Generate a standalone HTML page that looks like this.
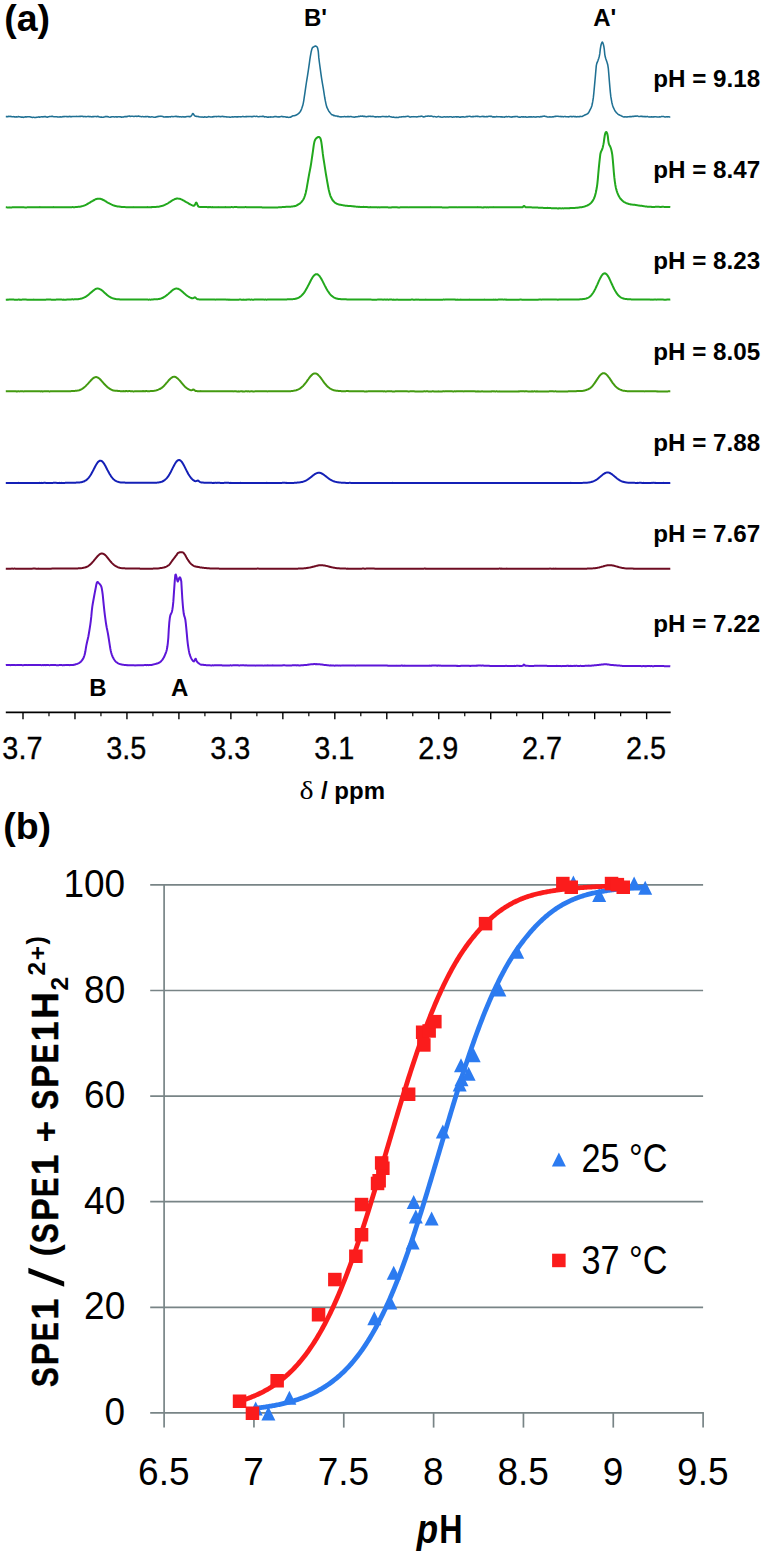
<!DOCTYPE html>
<html>
<head>
<meta charset="utf-8">
<title>NMR titration figure</title>
<style>
html,body{margin:0;padding:0;background:#fff;}
body{width:764px;height:1554px;overflow:hidden;font-family:"Liberation Sans",sans-serif;}
svg{display:block;}
</style>
</head>
<body>
<svg width="764" height="1554" viewBox="0 0 764 1554">
<rect x="0" y="0" width="764" height="1554" fill="#ffffff"/>
<path d="M5.8 116.58 L6.3 116.61 L6.8 116.56 L7.3 116.63 L7.8 116.69 L8.3 116.49 L8.8 116.28 L9.3 116.49 L9.8 116.40 L10.3 116.31 L10.8 116.60 L11.3 116.59 L11.8 116.77 L12.3 116.75 L12.8 116.81 L13.3 116.63 L13.8 116.70 L14.3 116.88 L14.8 116.87 L15.3 116.96 L15.8 117.01 L16.3 116.77 L16.8 116.88 L17.3 116.90 L17.8 116.78 L18.3 116.55 L18.8 116.74 L19.3 116.72 L19.8 116.83 L20.3 116.99 L20.8 117.06 L21.3 117.21 L21.8 117.10 L22.3 117.20 L22.8 117.11 L23.3 117.27 L23.8 117.38 L24.3 117.11 L24.8 116.89 L25.3 116.73 L25.8 116.95 L26.3 116.89 L26.8 116.92 L27.3 116.80 L27.8 116.79 L28.3 116.73 L28.8 116.65 L29.3 116.70 L29.8 116.74 L30.3 116.93 L30.8 116.99 L31.3 117.16 L31.8 117.27 L32.3 117.44 L32.8 117.43 L33.3 117.18 L33.8 117.29 L34.3 117.44 L34.8 117.55 L35.3 117.48 L35.8 117.49 L36.3 117.25 L36.8 117.35 L37.3 117.30 L37.8 117.13 L38.3 116.87 L38.8 117.02 L39.3 117.21 L39.8 116.96 L40.3 117.07 L40.8 116.98 L41.3 116.78 L41.8 116.67 L42.3 116.80 L42.8 116.97 L43.3 116.72 L43.8 116.77 L44.3 116.55 L44.8 116.67 L45.3 116.59 L45.8 116.79 L46.3 117.00 L46.8 116.97 L47.3 117.18 L47.8 117.03 L48.3 116.79 L48.8 116.82 L49.3 116.59 L49.8 116.46 L50.3 116.44 L50.8 116.53 L51.3 116.38 L51.8 116.20 L52.3 116.44 L52.8 116.38 L53.3 116.64 L53.8 116.83 L54.3 116.76 L54.8 116.73 L55.3 116.74 L55.8 116.80 L56.3 116.84 L56.8 116.85 L57.3 116.89 L57.8 117.07 L58.3 117.03 L58.8 116.96 L59.3 117.03 L59.8 116.87 L60.3 116.75 L60.8 116.97 L61.3 116.95 L61.8 116.94 L62.3 116.68 L62.8 116.64 L63.3 116.69 L63.8 116.46 L64.3 116.55 L64.8 116.63 L65.3 116.43 L65.8 116.52 L66.3 116.53 L66.8 116.63 L67.3 116.57 L67.8 116.68 L68.3 116.80 L68.8 116.56 L69.3 116.37 L69.8 116.49 L70.3 116.74 L70.8 116.61 L71.3 116.60 L71.8 116.66 L72.3 116.58 L72.8 116.53 L73.3 116.46 L73.8 116.43 L74.3 116.50 L74.8 116.43 L75.3 116.41 L75.8 116.57 L76.3 116.36 L76.8 116.44 L77.3 116.58 L77.8 116.50 L78.3 116.40 L78.8 116.58 L79.3 116.47 L79.8 116.35 L80.3 116.36 L80.8 116.49 L81.3 116.33 L81.8 116.29 L82.3 116.26 L82.8 116.47 L83.3 116.47 L83.8 116.67 L84.3 116.51 L84.8 116.46 L85.3 116.56 L85.8 116.76 L86.3 116.73 L86.8 116.59 L87.3 116.43 L87.8 116.47 L88.3 116.35 L88.8 116.54 L89.3 116.72 L89.8 116.57 L90.3 116.48 L90.8 116.65 L91.3 116.72 L91.8 116.87 L92.3 116.77 L92.8 116.59 L93.3 116.50 L93.8 116.67 L94.3 116.56 L94.8 116.51 L95.3 116.49 L95.8 116.48 L96.3 116.46 L96.8 116.69 L97.3 116.53 L97.8 116.31 L98.3 116.57 L98.8 116.77 L99.3 116.99 L99.8 116.92 L100.3 117.11 L100.8 117.26 L101.3 117.06 L101.8 117.14 L102.3 117.24 L102.8 117.26 L103.3 117.20 L103.8 117.04 L104.3 116.92 L104.8 116.77 L105.3 116.55 L105.8 116.61 L106.3 116.52 L106.8 116.69 L107.3 116.48 L107.8 116.69 L108.3 116.79 L108.8 116.98 L109.3 117.13 L109.8 117.27 L110.3 117.24 L110.8 116.94 L111.3 117.03 L111.8 116.83 L112.3 116.72 L112.8 116.80 L113.3 116.80 L113.8 116.75 L114.3 116.95 L114.8 116.97 L115.3 116.86 L115.8 116.73 L116.3 116.90 L116.8 116.86 L117.3 116.98 L117.8 116.87 L118.3 116.71 L118.8 116.72 L119.3 116.87 L119.8 116.69 L120.3 116.83 L120.8 117.02 L121.3 117.13 L121.8 117.23 L122.3 116.93 L122.8 116.96 L123.3 117.10 L123.8 116.84 L124.3 116.72 L124.8 116.60 L125.3 116.63 L125.8 116.60 L126.3 116.60 L126.8 116.74 L127.3 116.50 L127.8 116.31 L128.3 116.18 L128.8 116.07 L129.3 115.94 L129.8 116.25 L130.3 116.48 L130.8 116.31 L131.3 116.35 L131.8 116.31 L132.3 116.27 L132.8 116.25 L133.3 116.37 L133.8 116.45 L134.3 116.42 L134.8 116.30 L135.3 116.27 L135.8 116.14 L136.3 116.24 L136.8 116.39 L137.3 116.37 L137.8 116.21 L138.3 116.12 L138.8 116.13 L139.3 116.25 L139.8 116.44 L140.3 116.41 L140.8 116.59 L141.3 116.66 L141.8 116.63 L142.3 116.58 L142.8 116.59 L143.3 116.70 L143.8 116.66 L144.3 116.76 L144.8 116.73 L145.3 116.61 L145.8 116.64 L146.3 116.74 L146.8 116.53 L147.3 116.51 L147.8 116.50 L148.3 116.71 L148.8 116.91 L149.3 116.83 L149.8 117.00 L150.3 117.10 L150.8 116.94 L151.3 116.90 L151.8 116.69 L152.3 116.84 L152.8 116.90 L153.3 117.06 L153.8 117.16 L154.3 117.18 L154.8 117.24 L155.3 117.20 L155.8 116.95 L156.3 116.96 L156.8 116.70 L157.3 116.53 L157.8 116.68 L158.3 116.47 L158.8 116.30 L159.3 116.16 L159.8 116.40 L160.3 116.29 L160.8 116.11 L161.3 116.34 L161.8 116.21 L162.3 116.43 L162.8 116.54 L163.3 116.72 L163.8 116.93 L164.3 116.94 L164.8 117.06 L165.3 116.79 L165.8 116.91 L166.3 116.89 L166.8 116.97 L167.3 116.75 L167.8 116.86 L168.3 117.05 L168.8 116.80 L169.3 116.70 L169.8 116.73 L170.3 116.89 L170.8 116.74 L171.3 116.58 L171.8 116.48 L172.3 116.56 L172.8 116.70 L173.3 116.65 L173.8 116.59 L174.3 116.55 L174.8 116.50 L175.3 116.49 L175.8 116.31 L176.3 116.36 L176.8 116.63 L177.3 116.59 L177.8 116.72 L178.3 116.56 L178.8 116.67 L179.3 116.79 L179.8 116.86 L180.3 116.85 L180.8 116.83 L181.3 116.88 L181.8 117.05 L182.3 116.84 L182.8 116.63 L183.3 116.76 L183.8 116.95 L184.3 116.93 L184.8 116.87 L185.3 116.96 L185.8 116.78 L186.3 116.66 L186.8 116.52 L187.3 116.58 L187.8 116.51 L188.3 116.40 L188.8 116.53 L189.3 116.76 L189.8 116.62 L190.3 116.61 L190.8 116.28 L191.3 115.86 L191.8 115.05 L192.3 114.10 L192.8 113.62 L193.3 113.75 L193.8 114.58 L194.3 115.39 L194.8 115.85 L195.3 116.12 L195.8 116.20 L196.3 116.41 L196.8 116.29 L197.3 116.57 L197.8 116.58 L198.3 116.64 L198.8 116.63 L199.3 116.80 L199.8 116.94 L200.3 116.94 L200.8 116.90 L201.3 116.98 L201.8 117.12 L202.3 117.02 L202.8 117.09 L203.3 117.26 L203.8 117.18 L204.3 116.99 L204.8 116.83 L205.3 116.92 L205.8 116.98 L206.3 117.16 L206.8 117.27 L207.3 117.08 L207.8 116.89 L208.3 116.75 L208.8 116.60 L209.3 116.71 L209.8 116.88 L210.3 117.05 L210.8 116.89 L211.3 117.04 L211.8 116.91 L212.3 116.85 L212.8 116.94 L213.3 116.71 L213.8 116.52 L214.3 116.70 L214.8 116.60 L215.3 116.54 L215.8 116.60 L216.3 116.70 L216.8 116.46 L217.3 116.41 L217.8 116.42 L218.3 116.44 L218.8 116.34 L219.3 116.42 L219.8 116.67 L220.3 116.62 L220.8 116.65 L221.3 116.48 L221.8 116.40 L222.3 116.51 L222.8 116.35 L223.3 116.58 L223.8 116.79 L224.3 116.58 L224.8 116.81 L225.3 116.73 L225.8 116.86 L226.3 116.96 L226.8 116.83 L227.3 116.90 L227.8 116.95 L228.3 117.07 L228.8 116.91 L229.3 117.01 L229.8 117.19 L230.3 117.21 L230.8 117.17 L231.3 116.93 L231.8 116.90 L232.3 116.80 L232.8 116.89 L233.3 116.96 L233.8 116.96 L234.3 116.78 L234.8 116.84 L235.3 116.88 L235.8 116.71 L236.3 116.89 L236.8 116.94 L237.3 116.73 L237.8 116.94 L238.3 116.74 L238.8 116.65 L239.3 116.76 L239.8 116.80 L240.3 116.82 L240.8 116.87 L241.3 116.83 L241.8 116.73 L242.3 116.57 L242.8 116.38 L243.3 116.52 L243.8 116.66 L244.3 116.69 L244.8 116.80 L245.3 116.72 L245.8 116.61 L246.3 116.57 L246.8 116.76 L247.3 116.53 L247.8 116.56 L248.3 116.45 L248.8 116.61 L249.3 116.55 L249.8 116.49 L250.3 116.47 L250.8 116.52 L251.3 116.67 L251.8 116.60 L252.3 116.78 L252.8 116.58 L253.3 116.49 L253.8 116.32 L254.3 116.19 L254.8 116.38 L255.3 116.53 L255.8 116.40 L256.3 116.29 L256.8 116.30 L257.3 116.46 L257.8 116.64 L258.3 116.76 L258.8 116.80 L259.3 116.62 L259.8 116.58 L260.3 116.45 L260.8 116.49 L261.3 116.55 L261.8 116.43 L262.3 116.34 L262.8 116.52 L263.3 116.32 L263.8 116.51 L264.3 116.72 L264.8 116.93 L265.3 116.84 L265.8 116.85 L266.3 116.87 L266.8 116.92 L267.3 117.12 L267.8 117.16 L268.3 117.01 L268.8 117.14 L269.3 117.08 L269.8 117.08 L270.3 117.14 L270.8 116.85 L271.3 116.96 L271.8 117.01 L272.3 116.97 L272.8 116.95 L273.3 116.90 L273.8 116.73 L274.3 116.74 L274.8 116.52 L275.3 116.54 L275.8 116.63 L276.3 116.61 L276.8 116.65 L277.3 116.88 L277.8 117.04 L278.3 116.83 L278.8 116.95 L279.3 116.98 L279.8 116.73 L280.3 116.66 L280.8 116.54 L281.3 116.36 L281.8 116.42 L282.3 116.66 L282.8 116.58 L283.3 116.77 L283.8 116.85 L284.3 116.66 L284.8 116.84 L285.3 116.87 L285.8 117.05 L286.3 117.11 L286.8 117.18 L287.3 117.04 L287.8 117.15 L288.3 117.30 L288.8 117.40 L289.3 117.29 L289.8 117.34 L290.3 117.25 L290.8 117.00 L291.3 116.75 L291.8 116.54 L292.3 116.09 L292.8 115.89 L293.3 115.84 L293.8 115.85 L294.3 115.75 L294.8 115.57 L295.3 115.49 L295.8 115.20 L296.3 114.95 L296.8 114.80 L297.3 114.43 L297.8 113.93 L298.3 113.75 L298.8 113.42 L299.3 112.84 L299.8 112.17 L300.3 111.49 L300.8 110.74 L301.3 109.69 L301.8 108.35 L302.3 106.84 L302.8 105.32 L303.3 103.12 L303.8 100.30 L304.3 96.91 L304.8 93.55 L305.3 90.03 L305.8 86.58 L306.3 83.25 L306.8 80.11 L307.3 77.07 L307.8 73.94 L308.3 70.71 L308.8 67.13 L309.3 63.53 L309.8 59.98 L310.3 56.61 L310.8 53.89 L311.3 51.18 L311.8 49.35 L312.3 48.00 L312.8 47.23 L313.3 47.17 L313.8 46.82 L314.3 46.47 L314.8 46.32 L315.3 46.05 L315.8 46.11 L316.3 46.30 L316.8 46.69 L317.3 47.27 L317.8 48.85 L318.3 51.51 L318.8 57.66 L319.3 61.73 L319.8 65.50 L320.3 69.17 L320.8 72.92 L321.3 76.38 L321.8 79.70 L322.3 82.72 L322.8 85.63 L323.3 88.47 L323.8 91.59 L324.3 94.84 L324.8 98.01 L325.3 100.70 L325.8 103.08 L326.3 105.33 L326.8 107.10 L327.3 108.21 L327.8 109.12 L328.3 110.17 L328.8 111.17 L329.3 111.68 L329.8 112.50 L330.3 113.01 L330.8 113.62 L331.3 114.22 L331.8 114.76 L332.3 114.80 L332.8 114.94 L333.3 115.20 L333.8 115.61 L334.3 115.57 L334.8 115.64 L335.3 115.98 L335.8 115.93 L336.3 116.01 L336.8 116.05 L337.3 116.24 L337.8 116.51 L338.3 116.37 L338.8 116.51 L339.3 116.64 L339.8 116.80 L340.3 116.81 L340.8 116.99 L341.3 116.89 L341.8 116.82 L342.3 116.67 L342.8 116.80 L343.3 116.77 L343.8 116.65 L344.3 116.49 L344.8 116.61 L345.3 116.76 L345.8 116.85 L346.3 116.78 L346.8 116.76 L347.3 116.59 L347.8 116.70 L348.3 116.48 L348.8 116.49 L349.3 116.64 L349.8 116.73 L350.3 116.53 L350.8 116.43 L351.3 116.62 L351.8 116.70 L352.3 116.88 L352.8 117.04 L353.3 116.97 L353.8 117.13 L354.3 117.19 L354.8 117.05 L355.3 116.95 L355.8 116.71 L356.3 116.66 L356.8 116.88 L357.3 116.67 L357.8 116.71 L358.3 116.52 L358.8 116.35 L359.3 116.46 L359.8 116.37 L360.3 116.19 L360.8 116.09 L361.3 116.23 L361.8 116.33 L362.3 116.14 L362.8 116.08 L363.3 116.37 L363.8 116.28 L364.3 116.36 L364.8 116.36 L365.3 116.54 L365.8 116.61 L366.3 116.75 L366.8 116.76 L367.3 116.61 L367.8 116.47 L368.3 116.29 L368.8 116.50 L369.3 116.34 L369.8 116.16 L370.3 116.44 L370.8 116.33 L371.3 116.56 L371.8 116.38 L372.3 116.40 L372.8 116.31 L373.3 116.51 L373.8 116.59 L374.3 116.67 L374.8 116.80 L375.3 116.96 L375.8 116.86 L376.3 116.89 L376.8 116.84 L377.3 116.64 L377.8 116.80 L378.3 116.84 L378.8 116.97 L379.3 116.80 L379.8 116.80 L380.3 116.78 L380.8 116.87 L381.3 116.65 L381.8 116.59 L382.3 116.59 L382.8 116.40 L383.3 116.46 L383.8 116.60 L384.3 116.58 L384.8 116.66 L385.3 116.72 L385.8 116.58 L386.3 116.52 L386.8 116.78 L387.3 116.69 L387.8 116.66 L388.3 116.47 L388.8 116.36 L389.3 116.24 L389.8 116.50 L390.3 116.63 L390.8 116.82 L391.3 117.04 L391.8 117.05 L392.3 117.21 L392.8 117.17 L393.3 117.07 L393.8 117.24 L394.3 117.37 L394.8 117.50 L395.3 117.40 L395.8 117.44 L396.3 117.31 L396.8 117.47 L397.3 117.58 L397.8 117.38 L398.3 117.50 L398.8 117.26 L399.3 117.00 L399.8 117.07 L400.3 116.92 L400.8 116.91 L401.3 116.95 L401.8 116.70 L402.3 116.82 L402.8 116.70 L403.3 116.66 L403.8 116.60 L404.3 116.72 L404.8 116.84 L405.3 116.72 L405.8 116.53 L406.3 116.45 L406.8 116.44 L407.3 116.27 L407.8 116.16 L408.3 116.35 L408.8 116.49 L409.3 116.74 L409.8 116.96 L410.3 117.11 L410.8 117.00 L411.3 116.80 L411.8 116.70 L412.3 116.68 L412.8 116.70 L413.3 116.72 L413.8 116.65 L414.3 116.82 L414.8 116.71 L415.3 116.69 L415.8 116.87 L416.3 117.00 L416.8 116.87 L417.3 116.72 L417.8 116.87 L418.3 116.61 L418.8 116.45 L419.3 116.49 L419.8 116.54 L420.3 116.40 L420.8 116.22 L421.3 116.14 L421.8 116.33 L422.3 116.36 L422.8 116.63 L423.3 116.77 L423.8 116.99 L424.3 116.74 L424.8 116.58 L425.3 116.36 L425.8 116.37 L426.3 116.34 L426.8 116.17 L427.3 116.25 L427.8 116.11 L428.3 116.09 L428.8 116.05 L429.3 116.27 L429.8 116.28 L430.3 116.22 L430.8 116.06 L431.3 116.10 L431.8 116.23 L432.3 116.37 L432.8 116.61 L433.3 116.77 L433.8 116.64 L434.3 116.47 L434.8 116.62 L435.3 116.77 L435.8 116.77 L436.3 116.91 L436.8 116.91 L437.3 116.78 L437.8 116.62 L438.3 116.40 L438.8 116.50 L439.3 116.71 L439.8 116.90 L440.3 116.86 L440.8 116.92 L441.3 117.10 L441.8 117.20 L442.3 117.19 L442.8 117.09 L443.3 117.05 L443.8 116.85 L444.3 116.68 L444.8 116.77 L445.3 117.00 L445.8 116.99 L446.3 116.91 L446.8 116.81 L447.3 116.78 L447.8 116.91 L448.3 116.86 L448.8 117.06 L449.3 116.86 L449.8 116.75 L450.3 116.75 L450.8 116.71 L451.3 116.87 L451.8 117.01 L452.3 117.17 L452.8 117.17 L453.3 116.89 L453.8 116.90 L454.3 116.90 L454.8 116.87 L455.3 116.75 L455.8 116.84 L456.3 117.02 L456.8 116.79 L457.3 116.86 L457.8 116.78 L458.3 116.78 L458.8 116.96 L459.3 117.14 L459.8 117.16 L460.3 116.96 L460.8 117.13 L461.3 116.93 L461.8 116.84 L462.3 116.98 L462.8 116.86 L463.3 116.73 L463.8 116.94 L464.3 117.12 L464.8 116.99 L465.3 116.90 L465.8 116.77 L466.3 116.59 L466.8 116.48 L467.3 116.74 L467.8 116.53 L468.3 116.43 L468.8 116.32 L469.3 116.16 L469.8 116.24 L470.3 116.41 L470.8 116.61 L471.3 116.68 L471.8 116.83 L472.3 116.58 L472.8 116.49 L473.3 116.74 L473.8 116.53 L474.3 116.44 L474.8 116.46 L475.3 116.38 L475.8 116.44 L476.3 116.26 L476.8 116.18 L477.3 116.46 L477.8 116.32 L478.3 116.56 L478.8 116.42 L479.3 116.69 L479.8 116.78 L480.3 116.84 L480.8 116.65 L481.3 116.44 L481.8 116.60 L482.3 116.46 L482.8 116.34 L483.3 116.53 L483.8 116.73 L484.3 116.51 L484.8 116.76 L485.3 116.77 L485.8 116.70 L486.3 116.51 L486.8 116.48 L487.3 116.74 L487.8 116.63 L488.3 116.47 L488.8 116.33 L489.3 116.19 L489.8 116.18 L490.3 116.44 L490.8 116.27 L491.3 116.18 L491.8 116.45 L492.3 116.72 L492.8 116.94 L493.3 116.79 L493.8 116.71 L494.3 116.92 L494.8 116.89 L495.3 116.96 L495.8 116.84 L496.3 116.60 L496.8 116.54 L497.3 116.68 L497.8 116.81 L498.3 116.83 L498.8 116.80 L499.3 116.80 L499.8 116.76 L500.3 116.77 L500.8 116.92 L501.3 116.75 L501.8 116.79 L502.3 116.99 L502.8 117.12 L503.3 116.92 L503.8 117.11 L504.3 117.22 L504.8 117.00 L505.3 116.85 L505.8 116.69 L506.3 116.48 L506.8 116.74 L507.3 116.69 L507.8 116.87 L508.3 116.66 L508.8 116.44 L509.3 116.64 L509.8 116.79 L510.3 117.01 L510.8 117.06 L511.3 117.03 L511.8 117.12 L512.3 116.87 L512.8 116.87 L513.3 116.82 L513.8 116.64 L514.3 116.70 L514.8 116.61 L515.3 116.63 L515.8 116.57 L516.3 116.50 L516.8 116.46 L517.3 116.54 L517.8 116.78 L518.3 116.98 L518.8 117.12 L519.3 117.23 L519.8 117.06 L520.3 117.25 L520.8 117.07 L521.3 116.85 L521.8 116.83 L522.3 116.93 L522.8 116.82 L523.3 116.88 L523.8 116.75 L524.3 116.97 L524.8 116.91 L525.3 116.88 L525.8 116.87 L526.3 117.03 L526.8 117.22 L527.3 117.17 L527.8 117.09 L528.3 117.10 L528.8 116.84 L529.3 116.79 L529.8 116.95 L530.3 117.05 L530.8 116.80 L531.3 116.95 L531.8 116.87 L532.3 117.08 L532.8 116.97 L533.3 116.80 L533.8 116.81 L534.3 116.98 L534.8 116.91 L535.3 117.06 L535.8 117.12 L536.3 117.00 L536.8 116.87 L537.3 116.85 L537.8 116.79 L538.3 116.72 L538.8 116.79 L539.3 116.95 L539.8 116.96 L540.3 116.76 L540.8 116.62 L541.3 116.57 L541.8 116.64 L542.3 116.48 L542.8 116.30 L543.3 116.27 L543.8 116.22 L544.3 116.05 L544.8 116.15 L545.3 116.41 L545.8 116.46 L546.3 116.61 L546.8 116.77 L547.3 116.92 L547.8 117.09 L548.3 117.02 L548.8 117.07 L549.3 116.84 L549.8 117.01 L550.3 116.91 L550.8 116.87 L551.3 117.04 L551.8 116.90 L552.3 116.73 L552.8 116.88 L553.3 116.90 L553.8 116.68 L554.3 116.46 L554.8 116.42 L555.3 116.22 L555.8 116.43 L556.3 116.31 L556.8 116.25 L557.3 116.25 L557.8 116.31 L558.3 116.33 L558.8 116.43 L559.3 116.54 L559.8 116.53 L560.3 116.36 L560.8 116.63 L561.3 116.73 L561.8 116.53 L562.3 116.52 L562.8 116.66 L563.3 116.90 L563.8 116.67 L564.3 116.44 L564.8 116.46 L565.3 116.45 L565.8 116.67 L566.3 116.83 L566.8 116.73 L567.3 116.69 L567.8 116.73 L568.3 116.91 L568.8 116.74 L569.3 116.69 L569.8 116.49 L570.3 116.58 L570.8 116.37 L571.3 116.62 L571.8 116.64 L572.3 116.68 L572.8 116.49 L573.3 116.39 L573.8 116.41 L574.3 116.61 L574.8 116.64 L575.3 116.55 L575.8 116.79 L576.3 116.86 L576.8 116.85 L577.3 116.69 L577.8 116.60 L578.3 116.80 L578.8 116.61 L579.3 116.64 L579.8 116.70 L580.3 116.39 L580.8 116.44 L581.3 116.52 L581.8 116.54 L582.3 116.47 L582.8 116.12 L583.3 115.72 L583.8 115.52 L584.3 115.25 L584.8 114.92 L585.3 114.91 L585.8 114.53 L586.3 114.44 L586.8 114.34 L587.3 113.79 L587.8 113.61 L588.3 113.06 L588.8 112.29 L589.3 111.40 L589.8 110.36 L590.3 109.47 L590.8 108.42 L591.3 107.36 L591.8 105.96 L592.3 103.78 L592.8 101.16 L593.3 97.89 L593.8 93.42 L594.3 87.85 L594.8 82.36 L595.3 76.95 L595.8 71.11 L596.3 65.58 L596.8 63.36 L597.3 62.11 L597.8 61.09 L598.3 59.57 L598.8 58.18 L599.3 56.25 L599.8 53.64 L600.3 49.21 L600.8 46.01 L601.3 44.00 L601.8 42.65 L602.3 42.03 L602.8 42.76 L603.3 44.14 L603.8 46.24 L604.3 49.47 L604.8 54.61 L605.3 57.05 L605.8 58.66 L606.3 60.15 L606.8 61.62 L607.3 63.22 L607.8 65.07 L608.3 68.26 L608.8 74.17 L609.3 80.38 L609.8 86.41 L610.3 91.88 L610.8 96.40 L611.3 99.46 L611.8 102.21 L612.3 104.29 L612.8 106.08 L613.3 107.45 L613.8 108.44 L614.3 109.48 L614.8 110.53 L615.3 111.23 L615.8 111.85 L616.3 112.58 L616.8 113.05 L617.3 113.51 L617.8 113.98 L618.3 114.52 L618.8 114.70 L619.3 114.80 L619.8 115.19 L620.3 115.41 L620.8 115.48 L621.3 115.84 L621.8 116.17 L622.3 116.30 L622.8 116.64 L623.3 116.86 L623.8 117.02 L624.3 116.93 L624.8 116.72 L625.3 116.83 L625.8 116.93 L626.3 116.92 L626.8 116.89 L627.3 116.90 L627.8 116.75 L628.3 116.84 L628.8 116.85 L629.3 116.78 L629.8 116.59 L630.3 116.63 L630.8 116.55 L631.3 116.67 L631.8 116.52 L632.3 116.49 L632.8 116.37 L633.3 116.37 L633.8 116.44 L634.3 116.29 L634.8 116.13 L635.3 116.19 L635.8 116.11 L636.3 116.18 L636.8 116.08 L637.3 115.97 L637.8 116.07 L638.3 116.35 L638.8 116.57 L639.3 116.59 L639.8 116.56 L640.3 116.37 L640.8 116.30 L641.3 116.26 L641.8 116.52 L642.3 116.36 L642.8 116.62 L643.3 116.61 L643.8 116.59 L644.3 116.49 L644.8 116.74 L645.3 116.58 L645.8 116.63 L646.3 116.65 L646.8 116.51 L647.3 116.40 L647.8 116.67 L648.3 116.81 L648.8 116.91 L649.3 117.07 L649.8 116.84 L650.3 116.92 L650.8 117.01 L651.3 116.84 L651.8 116.81 L652.3 117.02 L652.8 116.90 L653.3 117.00 L653.8 116.80 L654.3 116.87 L654.8 116.74 L655.3 116.74 L655.8 116.67 L656.3 116.85 L656.8 116.95 L657.3 116.92 L657.8 116.99 L658.3 116.92 L658.8 117.04 L659.3 116.88 L659.8 116.88 L660.3 116.90 L660.8 116.82 L661.3 116.59 L661.8 116.45 L662.3 116.54 L662.8 116.43 L663.3 116.58 L663.8 116.60 L664.3 116.83 L664.8 116.98 L665.3 117.05 L665.8 116.95 L666.3 116.70 L666.8 116.73 L667.3 116.84 L667.8 117.02 L668.3 116.84 L668.8 116.66 L669.3 116.90 L669.8 116.99 L670.3 116.95" fill="none" stroke="#1f7093" stroke-width="1.55" stroke-linejoin="round" stroke-linecap="butt"/>
<path d="M5.8 207.30 L6.3 207.34 L6.8 207.37 L7.3 207.43 L7.8 207.44 L8.3 207.48 L8.8 207.39 L9.3 207.37 L9.8 207.43 L10.3 207.43 L10.8 207.47 L11.3 207.39 L11.8 207.38 L12.3 207.33 L12.8 207.33 L13.3 207.33 L13.8 207.26 L14.3 207.22 L14.8 207.20 L15.3 207.27 L15.8 207.31 L16.3 207.25 L16.8 207.30 L17.3 207.25 L17.8 207.27 L18.3 207.21 L18.8 207.15 L19.3 207.22 L19.8 207.19 L20.3 207.16 L20.8 207.24 L21.3 207.30 L21.8 207.27 L22.3 207.33 L22.8 207.33 L23.3 207.35 L23.8 207.30 L24.3 207.36 L24.8 207.38 L25.3 207.43 L25.8 207.47 L26.3 207.42 L26.8 207.38 L27.3 207.32 L27.8 207.26 L28.3 207.20 L28.8 207.18 L29.3 207.21 L29.8 207.14 L30.3 207.19 L30.8 207.17 L31.3 207.16 L31.8 207.22 L32.3 207.22 L32.8 207.20 L33.3 207.21 L33.8 207.24 L34.3 207.18 L34.8 207.26 L35.3 207.19 L35.8 207.24 L36.3 207.29 L36.8 207.22 L37.3 207.27 L37.8 207.25 L38.3 207.26 L38.8 207.19 L39.3 207.13 L39.8 207.10 L40.3 207.19 L40.8 207.15 L41.3 207.20 L41.8 207.27 L42.3 207.34 L42.8 207.30 L43.3 207.28 L43.8 207.28 L44.3 207.32 L44.8 207.25 L45.3 207.29 L45.8 207.33 L46.3 207.37 L46.8 207.29 L47.3 207.35 L47.8 207.28 L48.3 207.25 L48.8 207.27 L49.3 207.33 L49.8 207.30 L50.3 207.35 L50.8 207.34 L51.3 207.31 L51.8 207.27 L52.3 207.22 L52.8 207.16 L53.3 207.12 L53.8 207.16 L54.3 207.25 L54.8 207.20 L55.3 207.14 L55.8 207.22 L56.3 207.22 L56.8 207.21 L57.3 207.18 L57.8 207.20 L58.3 207.25 L58.8 207.24 L59.3 207.23 L59.8 207.16 L60.3 207.23 L60.8 207.16 L61.3 207.17 L61.8 207.22 L62.3 207.17 L62.8 207.20 L63.3 207.27 L63.8 207.28 L64.3 207.31 L64.8 207.24 L65.3 207.23 L65.8 207.17 L66.3 207.22 L66.8 207.19 L67.3 207.18 L67.8 207.25 L68.3 207.29 L68.8 207.34 L69.3 207.31 L69.8 207.29 L70.3 207.30 L70.8 207.28 L71.3 207.22 L71.8 207.19 L72.3 207.12 L72.8 207.10 L73.3 207.15 L73.8 207.20 L74.3 207.19 L74.8 207.15 L75.3 207.09 L75.8 207.00 L76.3 206.93 L76.8 206.94 L77.3 206.95 L77.8 206.87 L78.3 206.86 L78.8 206.83 L79.3 206.77 L79.8 206.71 L80.3 206.64 L80.8 206.51 L81.3 206.42 L81.8 206.25 L82.3 206.11 L82.8 206.00 L83.3 205.86 L83.8 205.65 L84.3 205.52 L84.8 205.33 L85.3 205.11 L85.8 204.80 L86.3 204.57 L86.8 204.27 L87.3 204.03 L87.8 203.74 L88.3 203.50 L88.8 203.21 L89.3 202.94 L89.8 202.59 L90.3 202.28 L90.8 201.98 L91.3 201.69 L91.8 201.33 L92.3 201.05 L92.8 200.78 L93.3 200.48 L93.8 200.24 L94.3 200.01 L94.8 199.73 L95.3 199.48 L95.8 199.20 L96.3 199.06 L96.8 198.95 L97.3 198.81 L97.8 198.73 L98.3 198.70 L98.8 198.69 L99.3 198.65 L99.8 198.73 L100.3 198.82 L100.8 198.95 L101.3 199.08 L101.8 199.27 L102.3 199.50 L102.8 199.74 L103.3 200.01 L103.8 200.20 L104.3 200.43 L104.8 200.73 L105.3 201.06 L105.8 201.33 L106.3 201.68 L106.8 202.02 L107.3 202.28 L107.8 202.59 L108.3 202.87 L108.8 203.12 L109.3 203.38 L109.8 203.66 L110.3 203.90 L110.8 204.14 L111.3 204.35 L111.8 204.61 L112.3 204.84 L112.8 205.09 L113.3 205.31 L113.8 205.47 L114.3 205.71 L114.8 205.80 L115.3 205.94 L115.8 206.05 L116.3 206.17 L116.8 206.23 L117.3 206.39 L117.8 206.47 L118.3 206.49 L118.8 206.59 L119.3 206.61 L119.8 206.69 L120.3 206.73 L120.8 206.80 L121.3 206.91 L121.8 207.00 L122.3 207.01 L122.8 207.08 L123.3 207.11 L123.8 207.10 L124.3 207.06 L124.8 207.09 L125.3 207.12 L125.8 207.19 L126.3 207.26 L126.8 207.27 L127.3 207.24 L127.8 207.29 L128.3 207.20 L128.8 207.14 L129.3 207.16 L129.8 207.18 L130.3 207.13 L130.8 207.15 L131.3 207.22 L131.8 207.19 L132.3 207.18 L132.8 207.14 L133.3 207.12 L133.8 207.20 L134.3 207.18 L134.8 207.25 L135.3 207.30 L135.8 207.30 L136.3 207.25 L136.8 207.31 L137.3 207.30 L137.8 207.27 L138.3 207.24 L138.8 207.30 L139.3 207.28 L139.8 207.24 L140.3 207.23 L140.8 207.17 L141.3 207.19 L141.8 207.18 L142.3 207.15 L142.8 207.19 L143.3 207.24 L143.8 207.16 L144.3 207.16 L144.8 207.13 L145.3 207.20 L145.8 207.23 L146.3 207.19 L146.8 207.15 L147.3 207.10 L147.8 207.17 L148.3 207.14 L148.8 207.15 L149.3 207.14 L149.8 207.16 L150.3 207.16 L150.8 207.18 L151.3 207.11 L151.8 207.14 L152.3 207.09 L152.8 207.08 L153.3 207.04 L153.8 206.99 L154.3 206.98 L154.8 206.95 L155.3 206.91 L155.8 206.92 L156.3 206.89 L156.8 206.78 L157.3 206.70 L157.8 206.65 L158.3 206.65 L158.8 206.64 L159.3 206.56 L159.8 206.39 L160.3 206.33 L160.8 206.21 L161.3 206.09 L161.8 205.99 L162.3 205.85 L162.8 205.68 L163.3 205.56 L163.8 205.34 L164.3 205.11 L164.8 204.93 L165.3 204.65 L165.8 204.36 L166.3 204.15 L166.8 203.81 L167.3 203.57 L167.8 203.30 L168.3 202.98 L168.8 202.64 L169.3 202.36 L169.8 202.09 L170.3 201.70 L170.8 201.37 L171.3 201.06 L171.8 200.74 L172.3 200.41 L172.8 200.07 L173.3 199.81 L173.8 199.60 L174.3 199.30 L174.8 199.06 L175.3 198.92 L175.8 198.81 L176.3 198.71 L176.8 198.54 L177.3 198.51 L177.8 198.56 L178.3 198.63 L178.8 198.69 L179.3 198.69 L179.8 198.84 L180.3 198.94 L180.8 199.13 L181.3 199.39 L181.8 199.63 L182.3 199.81 L182.8 200.05 L183.3 200.39 L183.8 200.63 L184.3 200.95 L184.8 201.25 L185.3 201.52 L185.8 201.86 L186.3 202.12 L186.8 202.39 L187.3 202.70 L187.8 202.96 L188.3 203.22 L188.8 203.55 L189.3 203.88 L189.8 204.22 L190.3 204.42 L190.8 204.66 L191.3 204.87 L191.8 205.11 L192.3 205.32 L192.8 205.57 L193.3 205.70 L193.8 205.71 L194.3 205.59 L194.8 204.98 L195.3 203.98 L195.8 202.88 L196.3 202.51 L196.8 203.13 L197.3 204.44 L197.8 205.62 L198.3 206.39 L198.8 206.70 L199.3 206.87 L199.8 206.94 L200.3 206.92 L200.8 206.92 L201.3 206.94 L201.8 207.01 L202.3 206.99 L202.8 207.05 L203.3 207.09 L203.8 207.05 L204.3 207.09 L204.8 207.05 L205.3 207.02 L205.8 207.06 L206.3 207.04 L206.8 207.11 L207.3 207.13 L207.8 207.11 L208.3 207.17 L208.8 207.11 L209.3 207.15 L209.8 207.10 L210.3 207.06 L210.8 207.15 L211.3 207.19 L211.8 207.15 L212.3 207.11 L212.8 207.19 L213.3 207.22 L213.8 207.27 L214.3 207.21 L214.8 207.23 L215.3 207.21 L215.8 207.18 L216.3 207.16 L216.8 207.19 L217.3 207.17 L217.8 207.17 L218.3 207.12 L218.8 207.19 L219.3 207.22 L219.8 207.26 L220.3 207.25 L220.8 207.30 L221.3 207.30 L221.8 207.31 L222.3 207.31 L222.8 207.34 L223.3 207.31 L223.8 207.25 L224.3 207.18 L224.8 207.15 L225.3 207.10 L225.8 207.17 L226.3 207.18 L226.8 207.23 L227.3 207.16 L227.8 207.17 L228.3 207.24 L228.8 207.26 L229.3 207.25 L229.8 207.24 L230.3 207.19 L230.8 207.15 L231.3 207.11 L231.8 207.11 L232.3 207.12 L232.8 207.19 L233.3 207.15 L233.8 207.13 L234.3 207.11 L234.8 207.08 L235.3 207.07 L235.8 207.06 L236.3 207.08 L236.8 207.04 L237.3 207.13 L237.8 207.13 L238.3 207.21 L238.8 207.24 L239.3 207.27 L239.8 207.27 L240.3 207.33 L240.8 207.27 L241.3 207.29 L241.8 207.26 L242.3 207.29 L242.8 207.32 L243.3 207.27 L243.8 207.22 L244.3 207.16 L244.8 207.14 L245.3 207.09 L245.8 207.10 L246.3 207.19 L246.8 207.18 L247.3 207.17 L247.8 207.18 L248.3 207.16 L248.8 207.20 L249.3 207.25 L249.8 207.20 L250.3 207.17 L250.8 207.21 L251.3 207.28 L251.8 207.30 L252.3 207.29 L252.8 207.36 L253.3 207.28 L253.8 207.21 L254.3 207.26 L254.8 207.25 L255.3 207.19 L255.8 207.21 L256.3 207.29 L256.8 207.29 L257.3 207.27 L257.8 207.21 L258.3 207.16 L258.8 207.23 L259.3 207.24 L259.8 207.30 L260.3 207.24 L260.8 207.21 L261.3 207.15 L261.8 207.15 L262.3 207.62 L262.8 207.60 L263.3 207.60 L263.8 207.59 L264.3 207.54 L264.8 207.49 L265.3 207.59 L265.8 207.55 L266.3 207.57 L266.8 207.56 L267.3 207.58 L267.8 207.52 L268.3 207.51 L268.8 207.46 L269.3 207.48 L269.8 207.56 L270.3 207.57 L270.8 207.62 L271.3 207.57 L271.8 207.49 L272.3 207.50 L272.8 207.49 L273.3 207.50 L273.8 207.48 L274.3 207.49 L274.8 207.51 L275.3 207.56 L275.8 207.51 L276.3 207.49 L276.8 207.52 L277.3 207.46 L277.8 207.39 L278.3 207.35 L278.8 207.28 L279.3 207.32 L279.8 207.35 L280.3 207.31 L280.8 207.24 L281.3 207.17 L281.8 207.13 L282.3 207.07 L282.8 207.06 L283.3 207.07 L283.8 207.02 L284.3 206.95 L284.8 206.98 L285.3 206.90 L285.8 206.86 L286.3 206.82 L286.8 206.80 L287.3 206.73 L287.8 206.71 L288.3 206.67 L288.8 206.69 L289.3 206.66 L289.8 206.68 L290.3 206.66 L290.8 206.64 L291.3 206.58 L291.8 206.50 L292.3 206.46 L292.8 206.40 L293.3 206.37 L293.8 206.29 L294.3 206.20 L294.8 206.05 L295.3 205.96 L295.8 205.78 L296.3 205.54 L296.8 205.27 L297.3 205.00 L297.8 204.73 L298.3 204.50 L298.8 204.20 L299.3 203.83 L299.8 203.53 L300.3 203.14 L300.8 202.63 L301.3 202.09 L301.8 201.51 L302.3 200.89 L302.8 200.23 L303.3 199.44 L303.8 198.48 L304.3 197.34 L304.8 196.02 L305.3 194.41 L305.8 192.53 L306.3 190.34 L306.8 187.64 L307.3 184.69 L307.8 181.86 L308.3 178.98 L308.8 176.19 L309.3 173.43 L309.8 170.89 L310.3 168.28 L310.8 165.51 L311.3 162.38 L311.8 158.97 L312.3 155.50 L312.8 152.02 L313.3 148.49 L313.8 144.87 L314.3 142.35 L314.8 140.60 L315.3 139.52 L315.8 138.77 L316.3 138.27 L316.8 137.87 L317.3 137.46 L317.8 137.21 L318.3 137.01 L318.8 136.93 L319.3 137.20 L319.8 137.53 L320.3 138.11 L320.8 139.56 L321.3 141.98 L321.8 145.41 L322.3 149.35 L322.8 153.69 L323.3 157.32 L323.8 160.52 L324.3 163.56 L324.8 166.83 L325.3 170.10 L325.8 173.30 L326.3 176.26 L326.8 179.17 L327.3 181.95 L327.8 184.73 L328.3 187.50 L328.8 189.99 L329.3 192.00 L329.8 193.91 L330.3 195.53 L330.8 196.77 L331.3 197.81 L331.8 198.74 L332.3 199.65 L332.8 200.46 L333.3 201.04 L333.8 201.59 L334.3 202.01 L334.8 202.45 L335.3 202.86 L335.8 203.20 L336.3 203.52 L336.8 203.74 L337.3 203.88 L337.8 204.08 L338.3 204.28 L338.8 204.41 L339.3 204.55 L339.8 204.67 L340.3 204.73 L340.8 204.82 L341.3 204.91 L341.8 205.00 L342.3 205.12 L342.8 205.18 L343.3 205.33 L343.8 205.43 L344.3 205.54 L344.8 205.61 L345.3 205.67 L345.8 205.71 L346.3 205.79 L346.8 205.79 L347.3 205.84 L347.8 205.90 L348.3 205.94 L348.8 205.94 L349.3 205.92 L349.8 205.91 L350.3 205.95 L350.8 206.01 L351.3 206.11 L351.8 206.19 L352.3 206.20 L352.8 206.31 L353.3 206.32 L353.8 206.39 L354.3 206.37 L354.8 206.45 L355.3 206.51 L355.8 206.61 L356.3 206.70 L356.8 206.74 L357.3 206.81 L357.8 206.85 L358.3 206.88 L358.8 206.84 L359.3 206.86 L359.8 206.93 L360.3 206.89 L360.8 206.97 L361.3 206.98 L361.8 206.96 L362.3 206.90 L362.8 206.90 L363.3 206.87 L363.8 206.92 L364.3 206.99 L364.8 207.07 L365.3 207.09 L365.8 207.08 L366.3 207.03 L366.8 207.08 L367.3 207.10 L367.8 207.14 L368.3 207.13 L368.8 207.20 L369.3 207.16 L369.8 207.14 L370.3 207.12 L370.8 207.16 L371.3 207.23 L371.8 207.19 L372.3 207.22 L372.8 207.27 L373.3 207.23 L373.8 207.18 L374.3 207.20 L374.8 207.26 L375.3 207.33 L375.8 207.36 L376.3 207.34 L376.8 207.33 L377.3 207.33 L377.8 207.39 L378.3 207.35 L378.8 207.32 L379.3 207.33 L379.8 207.40 L380.3 207.34 L380.8 207.26 L381.3 207.21 L381.8 207.23 L382.3 207.25 L382.8 207.21 L383.3 207.18 L383.8 207.21 L384.3 207.24 L384.8 207.27 L385.3 207.31 L385.8 207.24 L386.3 207.25 L386.8 207.30 L387.3 207.37 L387.8 207.33 L388.3 207.38 L388.8 207.39 L389.3 207.44 L389.8 207.38 L390.3 207.40 L390.8 207.44 L391.3 207.42 L391.8 207.35 L392.3 207.30 L392.8 207.25 L393.3 207.19 L393.8 207.16 L394.3 207.19 L394.8 207.15 L395.3 207.20 L395.8 207.25 L396.3 207.30 L396.8 207.34 L397.3 207.37 L397.8 207.42 L398.3 207.47 L398.8 207.47 L399.3 207.51 L399.8 207.43 L400.3 207.36 L400.8 207.29 L401.3 207.25 L401.8 207.23 L402.3 207.24 L402.8 207.27 L403.3 207.31 L403.8 207.25 L404.3 207.24 L404.8 207.25 L405.3 207.24 L405.8 207.19 L406.3 207.22 L406.8 207.21 L407.3 207.25 L407.8 207.25 L408.3 207.32 L408.8 207.38 L409.3 207.31 L409.8 207.35 L410.3 207.37 L410.8 207.34 L411.3 207.28 L411.8 207.28 L412.3 207.26 L412.8 207.30 L413.3 207.36 L413.8 207.33 L414.3 207.30 L414.8 207.30 L415.3 207.33 L415.8 207.36 L416.3 207.37 L416.8 207.33 L417.3 207.30 L417.8 207.35 L418.3 207.35 L418.8 207.28 L419.3 207.27 L419.8 207.23 L420.3 207.27 L420.8 207.21 L421.3 207.19 L421.8 207.14 L422.3 207.16 L422.8 207.24 L423.3 207.26 L423.8 207.24 L424.3 207.31 L424.8 207.25 L425.3 207.24 L425.8 207.29 L426.3 207.22 L426.8 207.27 L427.3 207.25 L427.8 207.19 L428.3 207.16 L428.8 207.17 L429.3 207.17 L429.8 207.19 L430.3 207.14 L430.8 207.12 L431.3 207.21 L431.8 207.21 L432.3 207.22 L432.8 207.17 L433.3 207.15 L433.8 207.23 L434.3 207.27 L434.8 207.27 L435.3 207.21 L435.8 207.21 L436.3 207.26 L436.8 207.25 L437.3 207.27 L437.8 207.33 L438.3 207.35 L438.8 207.36 L439.3 207.29 L439.8 207.22 L440.3 207.27 L440.8 207.26 L441.3 207.32 L441.8 207.36 L442.3 207.41 L442.8 207.38 L443.3 207.44 L443.8 207.46 L444.3 207.50 L444.8 207.43 L445.3 207.45 L445.8 207.42 L446.3 207.47 L446.8 207.52 L447.3 207.46 L447.8 207.43 L448.3 207.38 L448.8 207.36 L449.3 207.33 L449.8 207.35 L450.3 207.29 L450.8 207.24 L451.3 207.24 L451.8 207.19 L452.3 207.18 L452.8 207.25 L453.3 207.31 L453.8 207.27 L454.3 207.20 L454.8 207.26 L455.3 207.33 L455.8 207.34 L456.3 207.28 L456.8 207.25 L457.3 207.31 L457.8 207.38 L458.3 207.30 L458.8 207.25 L459.3 207.25 L459.8 207.22 L460.3 207.27 L460.8 207.25 L461.3 207.30 L461.8 207.25 L462.3 207.26 L462.8 207.33 L463.3 207.35 L463.8 207.29 L464.3 207.23 L464.8 207.26 L465.3 207.25 L465.8 207.24 L466.3 207.24 L466.8 207.26 L467.3 207.33 L467.8 207.29 L468.3 207.30 L468.8 207.27 L469.3 207.28 L469.8 207.31 L470.3 207.26 L470.8 207.26 L471.3 207.29 L471.8 207.22 L472.3 207.27 L472.8 207.26 L473.3 207.27 L473.8 207.29 L474.3 207.33 L474.8 207.26 L475.3 207.27 L475.8 207.20 L476.3 207.20 L476.8 207.19 L477.3 207.13 L477.8 207.12 L478.3 207.14 L478.8 207.18 L479.3 207.25 L479.8 207.24 L480.3 207.25 L480.8 207.29 L481.3 207.35 L481.8 207.41 L482.3 207.47 L482.8 207.42 L483.3 207.36 L483.8 207.41 L484.3 207.34 L484.8 207.33 L485.3 207.36 L485.8 207.35 L486.3 207.33 L486.8 207.39 L487.3 207.35 L487.8 207.35 L488.3 207.39 L488.8 207.33 L489.3 207.30 L489.8 207.30 L490.3 207.31 L490.8 207.27 L491.3 207.26 L491.8 207.20 L492.3 207.16 L492.8 207.15 L493.3 207.12 L493.8 207.21 L494.3 207.18 L494.8 207.16 L495.3 207.22 L495.8 207.27 L496.3 207.24 L496.8 207.29 L497.3 207.31 L497.8 207.29 L498.3 207.31 L498.8 207.27 L499.3 207.24 L499.8 207.30 L500.3 207.29 L500.8 207.35 L501.3 207.30 L501.8 207.25 L502.3 207.19 L502.8 207.24 L503.3 207.25 L503.8 207.19 L504.3 207.13 L504.8 207.20 L505.3 207.21 L505.8 207.28 L506.3 207.21 L506.8 207.24 L507.3 207.19 L507.8 207.23 L508.3 207.26 L508.8 207.28 L509.3 207.24 L509.8 207.31 L510.3 207.25 L510.8 207.20 L511.3 207.24 L511.8 207.18 L512.3 207.14 L512.8 207.15 L513.3 207.19 L513.8 207.26 L514.3 207.30 L514.8 207.23 L515.3 207.26 L515.8 207.32 L516.3 207.26 L516.8 207.30 L517.3 207.27 L517.8 207.24 L518.3 207.18 L518.8 207.23 L519.3 207.24 L519.8 207.30 L520.3 207.30 L520.8 207.25 L521.3 207.21 L521.8 207.19 L522.3 207.23 L522.8 207.03 L523.3 206.52 L523.8 206.03 L524.3 206.05 L524.8 206.59 L525.3 207.02 L525.8 207.19 L526.3 207.17 L526.8 207.14 L527.3 207.15 L527.8 207.20 L528.3 207.20 L528.8 207.23 L529.3 207.29 L529.8 207.24 L530.3 207.23 L530.8 207.26 L531.3 207.30 L531.8 207.38 L532.3 207.41 L532.8 207.45 L533.3 207.46 L533.8 207.52 L534.3 207.58 L534.8 207.56 L535.3 207.52 L535.8 207.50 L536.3 207.51 L536.8 207.59 L537.3 207.58 L537.8 207.62 L538.3 207.66 L538.8 207.74 L539.3 207.70 L539.8 207.76 L540.3 207.75 L540.8 207.70 L541.3 207.75 L541.8 207.82 L542.3 207.84 L542.8 207.79 L543.3 207.88 L543.8 207.88 L544.3 207.91 L544.8 207.96 L545.3 207.94 L545.8 207.94 L546.3 207.93 L546.8 207.90 L547.3 207.86 L547.8 207.93 L548.3 207.95 L548.8 208.04 L549.3 208.00 L549.8 208.00 L550.3 207.99 L550.8 208.09 L551.3 208.16 L551.8 208.24 L552.3 208.26 L552.8 208.21 L553.3 208.22 L553.8 208.21 L554.3 208.16 L554.8 208.21 L555.3 208.20 L555.8 208.18 L556.3 208.21 L556.8 208.30 L557.3 208.38 L557.8 208.39 L558.3 208.34 L558.8 208.39 L559.3 208.34 L559.8 208.35 L560.3 208.30 L560.8 208.38 L561.3 208.38 L561.8 208.37 L562.3 208.33 L562.8 208.34 L563.3 208.40 L563.8 208.37 L564.3 208.32 L564.8 208.31 L565.3 208.36 L565.8 208.32 L566.3 208.32 L566.8 208.35 L567.3 208.30 L567.8 208.32 L568.3 208.29 L568.8 208.20 L569.3 208.11 L569.8 208.16 L570.3 208.12 L570.8 208.09 L571.3 208.12 L571.8 208.10 L572.3 208.06 L572.8 207.99 L573.3 208.00 L573.8 207.93 L574.3 207.89 L574.8 207.90 L575.3 207.88 L575.8 207.79 L576.3 207.71 L576.8 207.71 L577.3 207.71 L577.8 207.61 L578.3 207.64 L578.8 207.54 L579.3 207.44 L579.8 207.34 L580.3 207.28 L580.8 207.25 L581.3 207.25 L581.8 207.13 L582.3 207.09 L582.8 206.95 L583.3 206.88 L583.8 206.74 L584.3 206.60 L584.8 206.40 L585.3 206.28 L585.8 206.05 L586.3 205.91 L586.8 205.68 L587.3 205.48 L587.8 205.26 L588.3 204.98 L588.8 204.72 L589.3 204.43 L589.8 204.00 L590.3 203.56 L590.8 203.15 L591.3 202.60 L591.8 202.04 L592.3 201.39 L592.8 200.71 L593.3 199.80 L593.8 198.85 L594.3 197.78 L594.8 196.40 L595.3 194.61 L595.8 192.69 L596.3 190.33 L596.8 187.52 L597.3 184.06 L597.8 179.35 L598.3 173.51 L598.8 168.21 L599.3 163.15 L599.8 158.56 L600.3 154.26 L600.8 152.23 L601.3 151.12 L601.8 150.25 L602.3 148.98 L602.8 147.20 L603.3 144.91 L603.8 142.33 L604.3 138.49 L604.8 135.25 L605.3 133.30 L605.8 132.29 L606.3 131.95 L606.8 132.58 L607.3 133.83 L607.8 136.20 L608.3 140.87 L608.8 143.61 L609.3 144.92 L609.8 145.83 L610.3 146.73 L610.8 148.07 L611.3 149.79 L611.8 152.00 L612.3 154.91 L612.8 159.91 L613.3 165.54 L613.8 171.80 L614.3 177.20 L614.8 181.27 L615.3 184.71 L615.8 187.40 L616.3 189.39 L616.8 191.10 L617.3 192.56 L617.8 193.79 L618.3 194.95 L618.8 195.93 L619.3 196.86 L619.8 197.79 L620.3 198.50 L620.8 199.08 L621.3 199.57 L621.8 200.13 L622.3 200.56 L622.8 201.00 L623.3 201.40 L623.8 201.81 L624.3 202.12 L624.8 202.40 L625.3 202.57 L625.8 202.84 L626.3 203.08 L626.8 203.28 L627.3 203.49 L627.8 203.65 L628.3 203.82 L628.8 203.99 L629.3 204.12 L629.8 204.15 L630.3 204.31 L630.8 204.47 L631.3 204.51 L631.8 204.54 L632.3 204.60 L632.8 204.64 L633.3 204.71 L633.8 204.75 L634.3 204.80 L634.8 204.83 L635.3 204.92 L635.8 204.99 L636.3 205.11 L636.8 205.18 L637.3 205.22 L637.8 205.37 L638.3 205.50 L638.8 205.59 L639.3 205.61 L639.8 205.65 L640.3 205.71 L640.8 205.75 L641.3 205.75 L641.8 205.80 L642.3 205.91 L642.8 206.00 L643.3 206.10 L643.8 206.18 L644.3 206.26 L644.8 206.36 L645.3 206.46 L645.8 206.53 L646.3 206.55 L646.8 206.60 L647.3 206.65 L647.8 206.73 L648.3 206.78 L648.8 206.79 L649.3 206.77 L649.8 206.77 L650.3 206.76 L650.8 206.82 L651.3 206.88 L651.8 206.85 L652.3 206.88 L652.8 206.94 L653.3 206.93 L653.8 206.88 L654.3 206.90 L654.8 206.89 L655.3 206.84 L655.8 206.83 L656.3 206.77 L656.8 206.74 L657.3 206.76 L657.8 206.73 L658.3 206.69 L658.8 206.73 L659.3 206.83 L659.8 206.89 L660.3 206.88 L660.8 206.95 L661.3 206.90 L661.8 206.86 L662.3 206.81 L662.8 206.76 L663.3 206.81 L663.8 206.87 L664.3 206.88 L664.8 206.94 L665.3 206.94 L665.8 207.01 L666.3 207.02 L666.8 207.03 L667.3 206.98 L667.8 206.97 L668.3 206.97 L668.8 207.02 L669.3 206.98 L669.8 206.95 L670.3 207.00" fill="none" stroke="#22a81d" stroke-width="2.0" stroke-linejoin="round" stroke-linecap="butt"/>
<path d="M5.8 299.67 L6.3 299.64 L6.8 299.66 L7.3 299.62 L7.8 299.63 L8.3 299.63 L8.8 299.59 L9.3 299.61 L9.8 299.57 L10.3 299.58 L10.8 299.56 L11.3 299.54 L11.8 299.55 L12.3 299.59 L12.8 299.57 L13.3 299.56 L13.8 299.58 L14.3 299.63 L14.8 299.65 L15.3 299.64 L15.8 299.69 L16.3 299.65 L16.8 299.68 L17.3 299.66 L17.8 299.63 L18.3 299.60 L18.8 299.60 L19.3 299.63 L19.8 299.61 L20.3 299.63 L20.8 299.64 L21.3 299.64 L21.8 299.64 L22.3 299.61 L22.8 299.58 L23.3 299.57 L23.8 299.59 L24.3 299.60 L24.8 299.59 L25.3 299.61 L25.8 299.61 L26.3 299.60 L26.8 299.64 L27.3 299.66 L27.8 299.64 L28.3 299.65 L28.8 299.65 L29.3 299.69 L29.8 299.70 L30.3 299.68 L30.8 299.72 L31.3 299.68 L31.8 299.67 L32.3 299.69 L32.8 299.66 L33.3 299.66 L33.8 299.62 L34.3 299.64 L34.8 299.67 L35.3 299.67 L35.8 299.70 L36.3 299.68 L36.8 299.70 L37.3 299.70 L37.8 299.70 L38.3 299.69 L38.8 299.72 L39.3 299.75 L39.8 299.74 L40.3 299.74 L40.8 299.69 L41.3 299.71 L41.8 299.71 L42.3 299.75 L42.8 299.77 L43.3 299.73 L43.8 299.71 L44.3 299.72 L44.8 299.67 L45.3 299.67 L45.8 299.64 L46.3 299.60 L46.8 299.57 L47.3 299.60 L47.8 299.58 L48.3 299.56 L48.8 299.56 L49.3 299.61 L49.8 299.57 L50.3 299.58 L50.8 299.59 L51.3 299.63 L51.8 299.66 L52.3 299.69 L52.8 299.66 L53.3 299.65 L53.8 299.64 L54.3 299.67 L54.8 299.70 L55.3 299.66 L55.8 299.63 L56.3 299.61 L56.8 299.59 L57.3 299.59 L57.8 299.60 L58.3 299.58 L58.8 299.54 L59.3 299.55 L59.8 299.54 L60.3 299.56 L60.8 299.60 L61.3 299.62 L61.8 299.62 L62.3 299.63 L62.8 299.64 L63.3 299.59 L63.8 299.63 L64.3 299.65 L64.8 299.67 L65.3 299.69 L65.8 299.67 L66.3 299.65 L66.8 299.60 L67.3 299.61 L67.8 299.57 L68.3 299.53 L68.8 299.50 L69.3 299.48 L69.8 299.47 L70.3 299.44 L70.8 299.40 L71.3 299.39 L71.8 299.36 L72.3 299.36 L72.8 299.33 L73.3 299.38 L73.8 299.39 L74.3 299.35 L74.8 299.33 L75.3 299.31 L75.8 299.29 L76.3 299.24 L76.8 299.25 L77.3 299.27 L77.8 299.22 L78.3 299.17 L78.8 299.08 L79.3 298.98 L79.8 298.89 L80.3 298.79 L80.8 298.72 L81.3 298.58 L81.8 298.41 L82.3 298.31 L82.8 298.14 L83.3 297.93 L83.8 297.73 L84.3 297.46 L84.8 297.22 L85.3 296.99 L85.8 296.73 L86.3 296.42 L86.8 296.05 L87.3 295.67 L87.8 295.26 L88.3 294.89 L88.8 294.47 L89.3 294.06 L89.8 293.60 L90.3 293.12 L90.8 292.70 L91.3 292.28 L91.8 291.86 L92.3 291.44 L92.8 291.03 L93.3 290.63 L93.8 290.22 L94.3 289.86 L94.8 289.52 L95.3 289.21 L95.8 288.94 L96.3 288.74 L96.8 288.60 L97.3 288.55 L97.8 288.58 L98.3 288.62 L98.8 288.75 L99.3 288.93 L99.8 289.16 L100.3 289.38 L100.8 289.64 L101.3 289.94 L101.8 290.27 L102.3 290.64 L102.8 291.07 L103.3 291.53 L103.8 292.00 L104.3 292.45 L104.8 292.91 L105.3 293.39 L105.8 293.79 L106.3 294.25 L106.8 294.70 L107.3 295.14 L107.8 295.54 L108.3 295.91 L108.8 296.23 L109.3 296.58 L109.8 296.87 L110.3 297.19 L110.8 297.49 L111.3 297.72 L111.8 297.92 L112.3 298.16 L112.8 298.35 L113.3 298.48 L113.8 298.58 L114.3 298.68 L114.8 298.84 L115.3 298.96 L115.8 299.02 L116.3 299.12 L116.8 299.23 L117.3 299.29 L117.8 299.32 L118.3 299.36 L118.8 299.36 L119.3 299.35 L119.8 299.42 L120.3 299.45 L120.8 299.47 L121.3 299.52 L121.8 299.52 L122.3 299.56 L122.8 299.59 L123.3 299.57 L123.8 299.55 L124.3 299.53 L124.8 299.51 L125.3 299.53 L125.8 299.51 L126.3 299.51 L126.8 299.49 L127.3 299.53 L127.8 299.53 L128.3 299.53 L128.8 299.54 L129.3 299.58 L129.8 299.57 L130.3 299.61 L130.8 299.61 L131.3 299.60 L131.8 299.60 L132.3 299.56 L132.8 299.56 L133.3 299.53 L133.8 299.49 L134.3 299.53 L134.8 299.51 L135.3 299.51 L135.8 299.54 L136.3 299.55 L136.8 299.54 L137.3 299.54 L137.8 299.55 L138.3 299.58 L138.8 299.54 L139.3 299.55 L139.8 299.53 L140.3 299.52 L140.8 299.55 L141.3 299.55 L141.8 299.56 L142.3 299.58 L142.8 299.61 L143.3 299.60 L143.8 299.60 L144.3 299.60 L144.8 299.59 L145.3 299.60 L145.8 299.59 L146.3 299.59 L146.8 299.58 L147.3 299.61 L147.8 299.62 L148.3 299.64 L148.8 299.66 L149.3 299.62 L149.8 299.61 L150.3 299.63 L150.8 299.64 L151.3 299.58 L151.8 299.53 L152.3 299.51 L152.8 299.45 L153.3 299.42 L153.8 299.36 L154.3 299.37 L154.8 299.37 L155.3 299.37 L155.8 299.31 L156.3 299.29 L156.8 299.25 L157.3 299.16 L157.8 299.13 L158.3 299.09 L158.8 298.98 L159.3 298.92 L159.8 298.79 L160.3 298.66 L160.8 298.55 L161.3 298.42 L161.8 298.20 L162.3 297.99 L162.8 297.77 L163.3 297.51 L163.8 297.22 L164.3 296.93 L164.8 296.64 L165.3 296.27 L165.8 295.94 L166.3 295.56 L166.8 295.14 L167.3 294.72 L167.8 294.32 L168.3 293.89 L168.8 293.42 L169.3 293.01 L169.8 292.59 L170.3 292.17 L170.8 291.69 L171.3 291.23 L171.8 290.77 L172.3 290.40 L172.8 290.01 L173.3 289.64 L173.8 289.34 L174.3 289.12 L174.8 288.93 L175.3 288.74 L175.8 288.60 L176.3 288.58 L176.8 288.58 L177.3 288.65 L177.8 288.71 L178.3 288.84 L178.8 289.07 L179.3 289.32 L179.8 289.58 L180.3 289.97 L180.8 290.35 L181.3 290.77 L181.8 291.15 L182.3 291.62 L182.8 292.02 L183.3 292.51 L183.8 292.96 L184.3 293.40 L184.8 293.85 L185.3 294.33 L185.8 294.73 L186.3 295.11 L186.8 295.51 L187.3 295.86 L187.8 296.19 L188.3 296.50 L188.8 296.78 L189.3 297.05 L189.8 297.32 L190.3 297.56 L190.8 297.82 L191.3 298.01 L191.8 298.19 L192.3 298.28 L192.8 298.30 L193.3 298.15 L193.8 297.85 L194.3 297.49 L194.8 297.33 L195.3 297.46 L195.8 297.84 L196.3 298.36 L196.8 298.84 L197.3 299.08 L197.8 299.26 L198.3 299.33 L198.8 299.37 L199.3 299.43 L199.8 299.44 L200.3 299.46 L200.8 299.49 L201.3 299.55 L201.8 299.54 L202.3 299.57 L202.8 299.59 L203.3 299.61 L203.8 299.60 L204.3 299.58 L204.8 299.54 L205.3 299.52 L205.8 299.49 L206.3 299.52 L206.8 299.51 L207.3 299.49 L207.8 299.47 L208.3 299.51 L208.8 299.56 L209.3 299.58 L209.8 299.56 L210.3 299.54 L210.8 299.53 L211.3 299.54 L211.8 299.52 L212.3 299.52 L212.8 299.51 L213.3 299.57 L213.8 299.61 L214.3 299.62 L214.8 299.59 L215.3 299.64 L215.8 299.62 L216.3 299.61 L216.8 299.56 L217.3 299.56 L217.8 299.57 L218.3 299.57 L218.8 299.55 L219.3 299.56 L219.8 299.53 L220.3 299.52 L220.8 299.49 L221.3 299.50 L221.8 299.48 L222.3 299.45 L222.8 299.46 L223.3 299.45 L223.8 299.48 L224.3 299.50 L224.8 299.54 L225.3 299.56 L225.8 299.59 L226.3 299.63 L226.8 299.62 L227.3 299.60 L227.8 299.65 L228.3 299.62 L228.8 299.64 L229.3 299.65 L229.8 299.61 L230.3 299.64 L230.8 299.67 L231.3 299.68 L231.8 299.69 L232.3 299.71 L232.8 299.67 L233.3 299.67 L233.8 299.66 L234.3 299.69 L234.8 299.71 L235.3 299.73 L235.8 299.72 L236.3 299.74 L236.8 299.75 L237.3 299.75 L237.8 299.71 L238.3 299.66 L238.8 299.63 L239.3 299.61 L239.8 299.58 L240.3 299.62 L240.8 299.62 L241.3 299.63 L241.8 299.64 L242.3 299.66 L242.8 299.65 L243.3 299.61 L243.8 299.63 L244.3 299.65 L244.8 299.65 L245.3 299.65 L245.8 299.66 L246.3 299.62 L246.8 299.64 L247.3 299.62 L247.8 299.58 L248.3 299.56 L248.8 299.59 L249.3 299.57 L249.8 299.60 L250.3 299.64 L250.8 299.64 L251.3 299.62 L251.8 299.62 L252.3 299.64 L252.8 299.66 L253.3 299.66 L253.8 299.67 L254.3 299.62 L254.8 299.59 L255.3 299.57 L255.8 299.60 L256.3 299.58 L256.8 299.59 L257.3 299.55 L257.8 299.52 L258.3 299.51 L258.8 299.53 L259.3 299.56 L259.8 299.58 L260.3 299.56 L260.8 299.57 L261.3 299.57 L261.8 299.57 L262.3 299.54 L262.8 299.58 L263.3 299.55 L263.8 299.60 L264.3 299.63 L264.8 299.59 L265.3 299.58 L265.8 299.61 L266.3 299.65 L266.8 299.63 L267.3 299.60 L267.8 299.58 L268.3 299.61 L268.8 299.58 L269.3 299.59 L269.8 299.55 L270.3 299.55 L270.8 299.59 L271.3 299.56 L271.8 299.58 L272.3 299.58 L272.8 299.61 L273.3 299.62 L273.8 299.58 L274.3 299.61 L274.8 299.60 L275.3 299.55 L275.8 299.50 L276.3 299.50 L276.8 299.50 L277.3 299.48 L277.8 299.46 L278.3 299.45 L278.8 299.44 L279.3 299.47 L279.8 299.43 L280.3 299.46 L280.8 299.49 L281.3 299.45 L281.8 299.49 L282.3 299.50 L282.8 299.53 L283.3 299.50 L283.8 299.48 L284.3 299.46 L284.8 299.50 L285.3 299.49 L285.8 299.47 L286.3 299.45 L286.8 299.41 L287.3 299.36 L287.8 299.32 L288.3 299.35 L288.8 299.32 L289.3 299.34 L289.8 299.30 L290.3 299.26 L290.8 299.24 L291.3 299.18 L291.8 299.14 L292.3 299.15 L292.8 299.14 L293.3 299.11 L293.8 299.05 L294.3 299.01 L294.8 298.95 L295.3 298.84 L295.8 298.73 L296.3 298.55 L296.8 298.42 L297.3 298.24 L297.8 298.06 L298.3 297.84 L298.8 297.57 L299.3 297.25 L299.8 296.98 L300.3 296.59 L300.8 296.21 L301.3 295.77 L301.8 295.29 L302.3 294.81 L302.8 294.30 L303.3 293.68 L303.8 293.05 L304.3 292.34 L304.8 291.61 L305.3 290.82 L305.8 289.97 L306.3 289.08 L306.8 288.17 L307.3 287.29 L307.8 286.34 L308.3 285.35 L308.8 284.41 L309.3 283.46 L309.8 282.47 L310.3 281.46 L310.8 280.48 L311.3 279.53 L311.8 278.64 L312.3 277.78 L312.8 277.01 L313.3 276.30 L313.8 275.70 L314.3 275.22 L314.8 274.82 L315.3 274.49 L315.8 274.27 L316.3 274.17 L316.8 274.18 L317.3 274.29 L317.8 274.50 L318.3 274.84 L318.8 275.34 L319.3 275.85 L319.8 276.49 L320.3 277.22 L320.8 278.04 L321.3 278.86 L321.8 279.73 L322.3 280.64 L322.8 281.60 L323.3 282.58 L323.8 283.61 L324.3 284.63 L324.8 285.64 L325.3 286.56 L325.8 287.47 L326.3 288.41 L326.8 289.33 L327.3 290.18 L327.8 291.00 L328.3 291.72 L328.8 292.44 L329.3 293.17 L329.8 293.83 L330.3 294.44 L330.8 295.02 L331.3 295.48 L331.8 295.90 L332.3 296.28 L332.8 296.66 L333.3 297.01 L333.8 297.35 L334.3 297.64 L334.8 297.88 L335.3 298.11 L335.8 298.29 L336.3 298.45 L336.8 298.54 L337.3 298.69 L337.8 298.78 L338.3 298.91 L338.8 299.00 L339.3 299.05 L339.8 299.07 L340.3 299.11 L340.8 299.17 L341.3 299.23 L341.8 299.23 L342.3 299.22 L342.8 299.26 L343.3 299.30 L343.8 299.31 L344.3 299.31 L344.8 299.34 L345.3 299.32 L345.8 299.32 L346.3 299.34 L346.8 299.40 L347.3 299.43 L347.8 299.47 L348.3 299.48 L348.8 299.46 L349.3 299.44 L349.8 299.49 L350.3 299.52 L350.8 299.50 L351.3 299.47 L351.8 299.47 L352.3 299.50 L352.8 299.50 L353.3 299.48 L353.8 299.51 L354.3 299.55 L354.8 299.53 L355.3 299.49 L355.8 299.49 L356.3 299.49 L356.8 299.52 L357.3 299.50 L357.8 299.53 L358.3 299.56 L358.8 299.56 L359.3 299.54 L359.8 299.59 L360.3 299.57 L360.8 299.60 L361.3 299.58 L361.8 299.55 L362.3 299.58 L362.8 299.57 L363.3 299.61 L363.8 299.61 L364.3 299.58 L364.8 299.56 L365.3 299.56 L365.8 299.58 L366.3 299.62 L366.8 299.59 L367.3 299.58 L367.8 299.56 L368.3 299.61 L368.8 299.58 L369.3 299.54 L369.8 299.52 L370.3 299.52 L370.8 299.57 L371.3 299.61 L371.8 299.63 L372.3 299.67 L372.8 299.70 L373.3 299.68 L373.8 299.65 L374.3 299.68 L374.8 299.70 L375.3 299.65 L375.8 299.66 L376.3 299.65 L376.8 299.63 L377.3 299.62 L377.8 299.59 L378.3 299.56 L378.8 299.55 L379.3 299.54 L379.8 299.59 L380.3 299.57 L380.8 299.62 L381.3 299.59 L381.8 299.59 L382.3 299.62 L382.8 299.65 L383.3 299.65 L383.8 299.61 L384.3 299.61 L384.8 299.60 L385.3 299.64 L385.8 299.62 L386.3 299.61 L386.8 299.65 L387.3 299.61 L387.8 299.60 L388.3 299.64 L388.8 299.66 L389.3 299.62 L389.8 299.58 L390.3 299.55 L390.8 299.60 L391.3 299.59 L391.8 299.62 L392.3 299.66 L392.8 299.64 L393.3 299.62 L393.8 299.67 L394.3 299.68 L394.8 299.65 L395.3 299.67 L395.8 299.65 L396.3 299.63 L396.8 299.59 L397.3 299.62 L397.8 299.66 L398.3 299.68 L398.8 299.71 L399.3 299.66 L399.8 299.64 L400.3 299.64 L400.8 299.68 L401.3 299.72 L401.8 299.70 L402.3 299.68 L402.8 299.67 L403.3 299.67 L403.8 299.70 L404.3 299.67 L404.8 299.70 L405.3 299.71 L405.8 299.73 L406.3 299.75 L406.8 299.75 L407.3 299.72 L407.8 299.70 L408.3 299.68 L408.8 299.71 L409.3 299.67 L409.8 299.64 L410.3 299.66 L410.8 299.64 L411.3 299.61 L411.8 299.57 L412.3 299.59 L412.8 299.58 L413.3 299.64 L413.8 299.67 L414.3 299.71 L414.8 299.69 L415.3 299.65 L415.8 299.62 L416.3 299.62 L416.8 299.65 L417.3 299.64 L417.8 299.62 L418.3 299.62 L418.8 299.64 L419.3 299.66 L419.8 299.68 L420.3 299.71 L420.8 299.72 L421.3 299.68 L421.8 299.71 L422.3 299.69 L422.8 299.69 L423.3 299.68 L423.8 299.70 L424.3 299.67 L424.8 299.65 L425.3 299.63 L425.8 299.60 L426.3 299.64 L426.8 299.65 L427.3 299.64 L427.8 299.64 L428.3 299.68 L428.8 299.68 L429.3 299.66 L429.8 299.69 L430.3 299.70 L430.8 299.74 L431.3 299.70 L431.8 299.69 L432.3 299.72 L432.8 299.74 L433.3 299.77 L433.8 299.72 L434.3 299.69 L434.8 299.66 L435.3 299.63 L435.8 299.68 L436.3 299.69 L436.8 299.72 L437.3 299.70 L437.8 299.73 L438.3 299.72 L438.8 299.69 L439.3 299.72 L439.8 299.75 L440.3 299.71 L440.8 299.71 L441.3 299.72 L441.8 299.69 L442.3 299.67 L442.8 299.64 L443.3 299.62 L443.8 299.61 L444.3 299.62 L444.8 299.64 L445.3 299.62 L445.8 299.59 L446.3 299.58 L446.8 299.61 L447.3 299.59 L447.8 299.58 L448.3 299.57 L448.8 299.61 L449.3 299.62 L449.8 299.59 L450.3 299.56 L450.8 299.57 L451.3 299.59 L451.8 299.61 L452.3 299.58 L452.8 299.56 L453.3 299.59 L453.8 299.60 L454.3 299.59 L454.8 299.58 L455.3 299.63 L455.8 299.62 L456.3 299.63 L456.8 299.63 L457.3 299.62 L457.8 299.66 L458.3 299.71 L458.8 299.69 L459.3 299.66 L459.8 299.68 L460.3 299.66 L460.8 299.62 L461.3 299.66 L461.8 299.65 L462.3 299.68 L462.8 299.68 L463.3 299.71 L463.8 299.70 L464.3 299.67 L464.8 299.63 L465.3 299.64 L465.8 299.65 L466.3 299.69 L466.8 299.66 L467.3 299.67 L467.8 299.66 L468.3 299.66 L468.8 299.63 L469.3 299.62 L469.8 299.63 L470.3 299.67 L470.8 299.64 L471.3 299.64 L471.8 299.67 L472.3 299.71 L472.8 299.68 L473.3 299.65 L473.8 299.69 L474.3 299.73 L474.8 299.72 L475.3 299.68 L475.8 299.71 L476.3 299.70 L476.8 299.73 L477.3 299.74 L477.8 299.76 L478.3 299.72 L478.8 299.74 L479.3 299.71 L479.8 299.69 L480.3 299.72 L480.8 299.74 L481.3 299.71 L481.8 299.68 L482.3 299.67 L482.8 299.67 L483.3 299.66 L483.8 299.63 L484.3 299.61 L484.8 299.64 L485.3 299.68 L485.8 299.64 L486.3 299.65 L486.8 299.67 L487.3 299.63 L487.8 299.67 L488.3 299.64 L488.8 299.65 L489.3 299.66 L489.8 299.67 L490.3 299.65 L490.8 299.65 L491.3 299.66 L491.8 299.65 L492.3 299.67 L492.8 299.67 L493.3 299.66 L493.8 299.62 L494.3 299.64 L494.8 299.64 L495.3 299.62 L495.8 299.65 L496.3 299.68 L496.8 299.67 L497.3 299.65 L497.8 299.65 L498.3 299.61 L498.8 299.59 L499.3 299.59 L499.8 299.57 L500.3 299.57 L500.8 299.59 L501.3 299.56 L501.8 299.58 L502.3 299.56 L502.8 299.59 L503.3 299.62 L503.8 299.63 L504.3 299.60 L504.8 299.61 L505.3 299.60 L505.8 299.65 L506.3 299.62 L506.8 299.66 L507.3 299.70 L507.8 299.72 L508.3 299.74 L508.8 299.70 L509.3 299.74 L509.8 299.73 L510.3 299.76 L510.8 299.79 L511.3 299.74 L511.8 299.76 L512.3 299.79 L512.8 299.73 L513.3 299.71 L513.8 299.73 L514.3 299.69 L514.8 299.72 L515.3 299.70 L515.8 299.72 L516.3 299.68 L516.8 299.68 L517.3 299.71 L517.8 299.68 L518.3 299.66 L518.8 299.66 L519.3 299.64 L519.8 299.61 L520.3 299.59 L520.8 299.57 L521.3 299.61 L521.8 299.64 L522.3 299.67 L522.8 299.64 L523.3 299.67 L523.8 299.63 L524.3 299.64 L524.8 299.65 L525.3 299.64 L525.8 299.68 L526.3 299.68 L526.8 299.68 L527.3 299.71 L527.8 299.67 L528.3 299.71 L528.8 299.72 L529.3 299.70 L529.8 299.72 L530.3 299.69 L530.8 299.73 L531.3 299.73 L531.8 299.70 L532.3 299.72 L532.8 299.71 L533.3 299.67 L533.8 299.69 L534.3 299.65 L534.8 299.67 L535.3 299.65 L535.8 299.66 L536.3 299.70 L536.8 299.70 L537.3 299.71 L537.8 299.68 L538.3 299.64 L538.8 299.60 L539.3 299.57 L539.8 299.59 L540.3 299.59 L540.8 299.60 L541.3 299.63 L541.8 299.60 L542.3 299.58 L542.8 299.60 L543.3 299.56 L543.8 299.53 L544.3 299.53 L544.8 299.51 L545.3 299.51 L545.8 299.50 L546.3 299.52 L546.8 299.54 L547.3 299.53 L547.8 299.55 L548.3 299.55 L548.8 299.53 L549.3 299.58 L549.8 299.56 L550.3 299.54 L550.8 299.51 L551.3 299.53 L551.8 299.58 L552.3 299.60 L552.8 299.60 L553.3 299.58 L553.8 299.54 L554.3 299.56 L554.8 299.57 L555.3 299.56 L555.8 299.58 L556.3 299.57 L556.8 299.61 L557.3 299.63 L557.8 299.60 L558.3 299.64 L558.8 299.59 L559.3 299.59 L559.8 299.58 L560.3 299.56 L560.8 299.52 L561.3 299.55 L561.8 299.51 L562.3 299.52 L562.8 299.56 L563.3 299.53 L563.8 299.51 L564.3 299.52 L564.8 299.52 L565.3 299.54 L565.8 299.56 L566.3 299.53 L566.8 299.52 L567.3 299.50 L567.8 299.46 L568.3 299.50 L568.8 299.53 L569.3 299.54 L569.8 299.49 L570.3 299.52 L570.8 299.54 L571.3 299.53 L571.8 299.54 L572.3 299.53 L572.8 299.50 L573.3 299.46 L573.8 299.43 L574.3 299.39 L574.8 299.38 L575.3 299.40 L575.8 299.42 L576.3 299.44 L576.8 299.45 L577.3 299.42 L577.8 299.41 L578.3 299.39 L578.8 299.40 L579.3 299.38 L579.8 299.34 L580.3 299.33 L580.8 299.34 L581.3 299.28 L581.8 299.27 L582.3 299.18 L582.8 299.11 L583.3 299.03 L583.8 298.98 L584.3 298.94 L584.8 298.86 L585.3 298.73 L585.8 298.63 L586.3 298.46 L586.8 298.26 L587.3 298.09 L587.8 297.87 L588.3 297.61 L588.8 297.32 L589.3 297.01 L589.8 296.61 L590.3 296.20 L590.8 295.73 L591.3 295.22 L591.8 294.62 L592.3 293.98 L592.8 293.28 L593.3 292.50 L593.8 291.66 L594.3 290.80 L594.8 289.84 L595.3 288.91 L595.8 287.87 L596.3 286.78 L596.8 285.67 L597.3 284.62 L597.8 283.49 L598.3 282.35 L598.8 281.21 L599.3 280.09 L599.8 279.07 L600.3 278.09 L600.8 277.17 L601.3 276.32 L601.8 275.50 L602.3 274.83 L602.8 274.25 L603.3 273.83 L603.8 273.54 L604.3 273.39 L604.8 273.30 L605.3 273.43 L605.8 273.70 L606.3 274.11 L606.8 274.56 L607.3 275.15 L607.8 275.84 L608.3 276.62 L608.8 277.56 L609.3 278.56 L609.8 279.60 L610.3 280.69 L610.8 281.80 L611.3 282.88 L611.8 283.96 L612.3 285.04 L612.8 286.16 L613.3 287.20 L613.8 288.22 L614.3 289.21 L614.8 290.12 L615.3 291.01 L615.8 291.84 L616.3 292.66 L616.8 293.39 L617.3 294.05 L617.8 294.72 L618.3 295.28 L618.8 295.83 L619.3 296.29 L619.8 296.66 L620.3 297.02 L620.8 297.35 L621.3 297.66 L621.8 297.90 L622.3 298.14 L622.8 298.33 L623.3 298.47 L623.8 298.65 L624.3 298.73 L624.8 298.87 L625.3 298.93 L625.8 298.96 L626.3 299.01 L626.8 299.10 L627.3 299.19 L627.8 299.19 L628.3 299.23 L628.8 299.27 L629.3 299.32 L629.8 299.32 L630.3 299.34 L630.8 299.35 L631.3 299.40 L631.8 299.39 L632.3 299.44 L632.8 299.43 L633.3 299.42 L633.8 299.45 L634.3 299.46 L634.8 299.43 L635.3 299.46 L635.8 299.43 L636.3 299.47 L636.8 299.49 L637.3 299.53 L637.8 299.54 L638.3 299.53 L638.8 299.52 L639.3 299.52 L639.8 299.56 L640.3 299.52 L640.8 299.56 L641.3 299.52 L641.8 299.50 L642.3 299.49 L642.8 299.54 L643.3 299.54 L643.8 299.54 L644.3 299.58 L644.8 299.56 L645.3 299.56 L645.8 299.56 L646.3 299.59 L646.8 299.61 L647.3 299.62 L647.8 299.61 L648.3 299.59 L648.8 299.57 L649.3 299.60 L649.8 299.62 L650.3 299.64 L650.8 299.61 L651.3 299.60 L651.8 299.63 L652.3 299.63 L652.8 299.60 L653.3 299.60 L653.8 299.63 L654.3 299.61 L654.8 299.59 L655.3 299.57 L655.8 299.60 L656.3 299.63 L656.8 299.60 L657.3 299.58 L657.8 299.56 L658.3 299.55 L658.8 299.57 L659.3 299.54 L659.8 299.54 L660.3 299.53 L660.8 299.58 L661.3 299.61 L661.8 299.58 L662.3 299.62 L662.8 299.59 L663.3 299.59 L663.8 299.64 L664.3 299.66 L664.8 299.68 L665.3 299.67 L665.8 299.64 L666.3 299.66 L666.8 299.62 L667.3 299.60 L667.8 299.60 L668.3 299.56 L668.8 299.56 L669.3 299.60 L669.8 299.62 L670.3 299.63" fill="none" stroke="#22a81d" stroke-width="2.0" stroke-linejoin="round" stroke-linecap="butt"/>
<path d="M5.8 391.37 L6.3 391.36 L6.8 391.32 L7.3 391.37 L7.8 391.31 L8.3 391.32 L8.8 391.37 L9.3 391.33 L9.8 391.34 L10.3 391.36 L10.8 391.30 L11.3 391.30 L11.8 391.33 L12.3 391.33 L12.8 391.36 L13.3 391.32 L13.8 391.30 L14.3 391.26 L14.8 391.28 L15.3 391.34 L15.8 391.35 L16.3 391.39 L16.8 391.37 L17.3 391.40 L17.8 391.35 L18.3 391.33 L18.8 391.35 L19.3 391.38 L19.8 391.37 L20.3 391.32 L20.8 391.30 L21.3 391.28 L21.8 391.26 L22.3 391.31 L22.8 391.28 L23.3 391.34 L23.8 391.38 L24.3 391.33 L24.8 391.32 L25.3 391.32 L25.8 391.27 L26.3 391.28 L26.8 391.33 L27.3 391.29 L27.8 391.31 L28.3 391.27 L28.8 391.29 L29.3 391.35 L29.8 391.31 L30.3 391.26 L30.8 391.23 L31.3 391.25 L31.8 391.21 L32.3 391.18 L32.8 391.20 L33.3 391.26 L33.8 391.27 L34.3 391.27 L34.8 391.29 L35.3 391.25 L35.8 391.27 L36.3 391.25 L36.8 391.27 L37.3 391.33 L37.8 391.28 L38.3 391.30 L38.8 391.32 L39.3 391.28 L39.8 391.26 L40.3 391.33 L40.8 391.39 L41.3 391.34 L41.8 391.36 L42.3 391.41 L42.8 391.37 L43.3 391.38 L43.8 391.32 L44.3 391.31 L44.8 391.33 L45.3 391.34 L45.8 391.37 L46.3 391.32 L46.8 391.31 L47.3 391.35 L47.8 391.36 L48.3 391.35 L48.8 391.33 L49.3 391.39 L49.8 391.39 L50.3 391.33 L50.8 391.36 L51.3 391.34 L51.8 391.33 L52.3 391.29 L52.8 391.29 L53.3 391.27 L53.8 391.23 L54.3 391.25 L54.8 391.21 L55.3 391.26 L55.8 391.21 L56.3 391.25 L56.8 391.29 L57.3 391.29 L57.8 391.32 L58.3 391.28 L58.8 391.31 L59.3 391.30 L59.8 391.27 L60.3 391.32 L60.8 391.30 L61.3 391.28 L61.8 391.32 L62.3 391.30 L62.8 391.32 L63.3 391.27 L63.8 391.31 L64.3 391.27 L64.8 391.22 L65.3 391.27 L65.8 391.23 L66.3 391.28 L66.8 391.33 L67.3 391.32 L67.8 391.25 L68.3 391.19 L68.8 391.16 L69.3 391.14 L69.8 391.15 L70.3 391.20 L70.8 391.17 L71.3 391.12 L71.8 391.12 L72.3 391.06 L72.8 391.00 L73.3 390.99 L73.8 391.00 L74.3 390.92 L74.8 390.88 L75.3 390.87 L75.8 390.85 L76.3 390.78 L76.8 390.75 L77.3 390.63 L77.8 390.55 L78.3 390.47 L78.8 390.38 L79.3 390.23 L79.8 390.01 L80.3 389.77 L80.8 389.57 L81.3 389.30 L81.8 389.07 L82.3 388.74 L82.8 388.47 L83.3 388.10 L83.8 387.68 L84.3 387.26 L84.8 386.85 L85.3 386.41 L85.8 385.93 L86.3 385.40 L86.8 384.88 L87.3 384.40 L87.8 383.85 L88.3 383.33 L88.8 382.68 L89.3 382.16 L89.8 381.62 L90.3 381.04 L90.8 380.48 L91.3 379.94 L91.8 379.47 L92.3 378.93 L92.8 378.51 L93.3 378.13 L93.8 377.77 L94.3 377.53 L94.8 377.34 L95.3 377.15 L95.8 377.11 L96.3 377.11 L96.8 377.18 L97.3 377.35 L97.8 377.51 L98.3 377.80 L98.8 378.13 L99.3 378.57 L99.8 378.98 L100.3 379.50 L100.8 380.03 L101.3 380.58 L101.8 381.18 L102.3 381.70 L102.8 382.29 L103.3 382.88 L103.8 383.48 L104.3 384.04 L104.8 384.54 L105.3 385.05 L105.8 385.60 L106.3 386.06 L106.8 386.50 L107.3 386.94 L107.8 387.37 L108.3 387.78 L108.8 388.10 L109.3 388.48 L109.8 388.78 L110.3 389.10 L110.8 389.30 L111.3 389.59 L111.8 389.81 L112.3 390.05 L112.8 390.26 L113.3 390.43 L113.8 390.50 L114.3 390.58 L114.8 390.64 L115.3 390.76 L115.8 390.79 L116.3 390.82 L116.8 390.83 L117.3 390.84 L117.8 390.95 L118.3 391.04 L118.8 391.05 L119.3 391.11 L119.8 391.12 L120.3 391.14 L120.8 391.14 L121.3 391.17 L121.8 391.14 L122.3 391.13 L122.8 391.14 L123.3 391.12 L123.8 391.13 L124.3 391.19 L124.8 391.14 L125.3 391.11 L125.8 391.16 L126.3 391.12 L126.8 391.10 L127.3 391.16 L127.8 391.18 L128.3 391.16 L128.8 391.12 L129.3 391.10 L129.8 391.10 L130.3 391.15 L130.8 391.22 L131.3 391.25 L131.8 391.30 L132.3 391.34 L132.8 391.37 L133.3 391.40 L133.8 391.44 L134.3 391.37 L134.8 391.33 L135.3 391.29 L135.8 391.30 L136.3 391.29 L136.8 391.26 L137.3 391.30 L137.8 391.28 L138.3 391.24 L138.8 391.21 L139.3 391.21 L139.8 391.22 L140.3 391.23 L140.8 391.22 L141.3 391.18 L141.8 391.17 L142.3 391.16 L142.8 391.12 L143.3 391.14 L143.8 391.11 L144.3 391.14 L144.8 391.16 L145.3 391.12 L145.8 391.14 L146.3 391.12 L146.8 391.12 L147.3 391.13 L147.8 391.16 L148.3 391.19 L148.8 391.20 L149.3 391.15 L149.8 391.14 L150.3 391.10 L150.8 391.02 L151.3 391.01 L151.8 390.98 L152.3 390.99 L152.8 390.93 L153.3 390.93 L153.8 390.87 L154.3 390.76 L154.8 390.72 L155.3 390.61 L155.8 390.51 L156.3 390.36 L156.8 390.18 L157.3 390.10 L157.8 389.88 L158.3 389.67 L158.8 389.44 L159.3 389.18 L159.8 388.98 L160.3 388.77 L160.8 388.48 L161.3 388.12 L161.8 387.80 L162.3 387.40 L162.8 386.93 L163.3 386.49 L163.8 385.99 L164.3 385.46 L164.8 384.90 L165.3 384.34 L165.8 383.74 L166.3 383.18 L166.8 382.63 L167.3 382.05 L167.8 381.39 L168.3 380.83 L168.8 380.21 L169.3 379.66 L169.8 379.19 L170.3 378.72 L170.8 378.32 L171.3 377.94 L171.8 377.56 L172.3 377.23 L172.8 377.00 L173.3 376.87 L173.8 376.76 L174.3 376.74 L174.8 376.83 L175.3 376.96 L175.8 377.18 L176.3 377.46 L176.8 377.85 L177.3 378.18 L177.8 378.58 L178.3 379.11 L178.8 379.65 L179.3 380.15 L179.8 380.68 L180.3 381.24 L180.8 381.86 L181.3 382.51 L181.8 383.08 L182.3 383.64 L182.8 384.25 L183.3 384.81 L183.8 385.39 L184.3 385.97 L184.8 386.51 L185.3 386.98 L185.8 387.41 L186.3 387.75 L186.8 388.16 L187.3 388.49 L187.8 388.80 L188.3 389.10 L188.8 389.41 L189.3 389.65 L189.8 389.89 L190.3 390.11 L190.8 390.18 L191.3 390.20 L191.8 390.15 L192.3 389.96 L192.8 389.74 L193.3 389.54 L193.8 389.64 L194.3 390.01 L194.8 390.42 L195.3 390.78 L195.8 391.04 L196.3 391.11 L196.8 391.10 L197.3 391.17 L197.8 391.20 L198.3 391.17 L198.8 391.22 L199.3 391.20 L199.8 391.17 L200.3 391.16 L200.8 391.12 L201.3 391.13 L201.8 391.17 L202.3 391.18 L202.8 391.25 L203.3 391.20 L203.8 391.17 L204.3 391.14 L204.8 391.17 L205.3 391.15 L205.8 391.18 L206.3 391.20 L206.8 391.22 L207.3 391.26 L207.8 391.30 L208.3 391.35 L208.8 391.30 L209.3 391.29 L209.8 391.34 L210.3 391.33 L210.8 391.30 L211.3 391.30 L211.8 391.26 L212.3 391.31 L212.8 391.32 L213.3 391.27 L213.8 391.33 L214.3 391.33 L214.8 391.30 L215.3 391.31 L215.8 391.37 L216.3 391.34 L216.8 391.28 L217.3 391.25 L217.8 391.21 L218.3 391.23 L218.8 391.22 L219.3 391.27 L219.8 391.24 L220.3 391.20 L220.8 391.21 L221.3 391.18 L221.8 391.17 L222.3 391.16 L222.8 391.14 L223.3 391.18 L223.8 391.25 L224.3 391.24 L224.8 391.27 L225.3 391.26 L225.8 391.31 L226.3 391.32 L226.8 391.27 L227.3 391.30 L227.8 391.27 L228.3 391.23 L228.8 391.18 L229.3 391.24 L229.8 391.28 L230.3 391.27 L230.8 391.28 L231.3 391.31 L231.8 391.26 L232.3 391.30 L232.8 391.33 L233.3 391.38 L233.8 391.32 L234.3 391.33 L234.8 391.33 L235.3 391.37 L235.8 391.35 L236.3 391.37 L236.8 391.41 L237.3 391.38 L237.8 391.38 L238.3 391.42 L238.8 391.36 L239.3 391.41 L239.8 391.38 L240.3 391.37 L240.8 391.34 L241.3 391.37 L241.8 391.37 L242.3 391.40 L242.8 391.34 L243.3 391.39 L243.8 391.42 L244.3 391.43 L244.8 391.38 L245.3 391.35 L245.8 391.34 L246.3 391.29 L246.8 391.35 L247.3 391.34 L247.8 391.39 L248.3 391.34 L248.8 391.36 L249.3 391.39 L249.8 391.40 L250.3 391.38 L250.8 391.32 L251.3 391.31 L251.8 391.30 L252.3 391.36 L252.8 391.41 L253.3 391.45 L253.8 391.49 L254.3 391.43 L254.8 391.37 L255.3 391.34 L255.8 391.28 L256.3 391.24 L256.8 391.26 L257.3 391.23 L257.8 391.25 L258.3 391.25 L258.8 391.23 L259.3 391.29 L259.8 391.26 L260.3 391.31 L260.8 391.31 L261.3 391.33 L261.8 391.29 L262.3 391.32 L262.8 391.36 L263.3 391.32 L263.8 391.32 L264.3 391.33 L264.8 391.33 L265.3 391.35 L265.8 391.36 L266.3 391.33 L266.8 391.35 L267.3 391.38 L267.8 391.36 L268.3 391.36 L268.8 391.37 L269.3 391.36 L269.8 391.30 L270.3 391.29 L270.8 391.32 L271.3 391.34 L271.8 391.29 L272.3 391.28 L272.8 391.29 L273.3 391.29 L273.8 391.25 L274.3 391.27 L274.8 391.29 L275.3 391.29 L275.8 391.34 L276.3 391.34 L276.8 391.27 L277.3 391.24 L277.8 391.27 L278.3 391.21 L278.8 391.27 L279.3 391.29 L279.8 391.31 L280.3 391.26 L280.8 391.20 L281.3 391.24 L281.8 391.24 L282.3 391.23 L282.8 391.23 L283.3 391.25 L283.8 391.23 L284.3 391.25 L284.8 391.20 L285.3 391.25 L285.8 391.26 L286.3 391.22 L286.8 391.20 L287.3 391.23 L287.8 391.19 L288.3 391.19 L288.8 391.21 L289.3 391.24 L289.8 391.17 L290.3 391.17 L290.8 391.14 L291.3 391.12 L291.8 391.02 L292.3 390.95 L292.8 390.89 L293.3 390.86 L293.8 390.78 L294.3 390.64 L294.8 390.51 L295.3 390.45 L295.8 390.37 L296.3 390.24 L296.8 390.03 L297.3 389.89 L297.8 389.73 L298.3 389.48 L298.8 389.23 L299.3 388.93 L299.8 388.58 L300.3 388.29 L300.8 387.89 L301.3 387.46 L301.8 387.10 L302.3 386.60 L302.8 386.16 L303.3 385.68 L303.8 385.10 L304.3 384.51 L304.8 383.87 L305.3 383.27 L305.8 382.68 L306.3 382.03 L306.8 381.34 L307.3 380.65 L307.8 379.93 L308.3 379.26 L308.8 378.54 L309.3 377.84 L309.8 377.21 L310.3 376.56 L310.8 376.03 L311.3 375.51 L311.8 374.98 L312.3 374.48 L312.8 374.13 L313.3 373.79 L313.8 373.56 L314.3 373.43 L314.8 373.40 L315.3 373.39 L315.8 373.49 L316.3 373.69 L316.8 373.89 L317.3 374.19 L317.8 374.62 L318.3 375.05 L318.8 375.60 L319.3 376.10 L319.8 376.64 L320.3 377.26 L320.8 377.92 L321.3 378.59 L321.8 379.26 L322.3 379.96 L322.8 380.71 L323.3 381.46 L323.8 382.15 L324.3 382.79 L324.8 383.45 L325.3 384.04 L325.8 384.59 L326.3 385.21 L326.8 385.73 L327.3 386.21 L327.8 386.74 L328.3 387.15 L328.8 387.54 L329.3 387.90 L329.8 388.31 L330.3 388.66 L330.8 388.92 L331.3 389.14 L331.8 389.44 L332.3 389.62 L332.8 389.85 L333.3 390.04 L333.8 390.21 L334.3 390.34 L334.8 390.45 L335.3 390.53 L335.8 390.64 L336.3 390.68 L336.8 390.75 L337.3 390.79 L337.8 390.83 L338.3 390.93 L338.8 390.98 L339.3 391.03 L339.8 391.08 L340.3 391.04 L340.8 391.10 L341.3 391.16 L341.8 391.20 L342.3 391.21 L342.8 391.26 L343.3 391.31 L343.8 391.28 L344.3 391.24 L344.8 391.22 L345.3 391.17 L345.8 391.15 L346.3 391.12 L346.8 391.08 L347.3 391.09 L347.8 391.06 L348.3 391.08 L348.8 391.14 L349.3 391.19 L349.8 391.15 L350.3 391.19 L350.8 391.17 L351.3 391.22 L351.8 391.24 L352.3 391.25 L352.8 391.25 L353.3 391.31 L353.8 391.28 L354.3 391.33 L354.8 391.29 L355.3 391.25 L355.8 391.22 L356.3 391.18 L356.8 391.23 L357.3 391.21 L357.8 391.23 L358.3 391.21 L358.8 391.21 L359.3 391.25 L359.8 391.27 L360.3 391.25 L360.8 391.29 L361.3 391.25 L361.8 391.21 L362.3 391.24 L362.8 391.29 L363.3 391.33 L363.8 391.35 L364.3 391.40 L364.8 391.44 L365.3 391.44 L365.8 391.39 L366.3 391.39 L366.8 391.37 L367.3 391.39 L367.8 391.37 L368.3 391.32 L368.8 391.29 L369.3 391.25 L369.8 391.29 L370.3 391.32 L370.8 391.32 L371.3 391.31 L371.8 391.34 L372.3 391.33 L372.8 391.33 L373.3 391.30 L373.8 391.36 L374.3 391.35 L374.8 391.35 L375.3 391.32 L375.8 391.32 L376.3 391.32 L376.8 391.31 L377.3 391.35 L377.8 391.33 L378.3 391.34 L378.8 391.37 L379.3 391.32 L379.8 391.36 L380.3 391.31 L380.8 391.29 L381.3 391.34 L381.8 391.30 L382.3 391.28 L382.8 391.28 L383.3 391.34 L383.8 391.39 L384.3 391.36 L384.8 391.37 L385.3 391.41 L385.8 391.41 L386.3 391.38 L386.8 391.34 L387.3 391.29 L387.8 391.25 L388.3 391.21 L388.8 391.25 L389.3 391.28 L389.8 391.24 L390.3 391.30 L390.8 391.37 L391.3 391.36 L391.8 391.34 L392.3 391.39 L392.8 391.40 L393.3 391.43 L393.8 391.38 L394.3 391.41 L394.8 391.40 L395.3 391.34 L395.8 391.29 L396.3 391.28 L396.8 391.26 L397.3 391.24 L397.8 391.31 L398.3 391.30 L398.8 391.28 L399.3 391.24 L399.8 391.21 L400.3 391.21 L400.8 391.22 L401.3 391.19 L401.8 391.22 L402.3 391.22 L402.8 391.18 L403.3 391.20 L403.8 391.18 L404.3 391.17 L404.8 391.22 L405.3 391.23 L405.8 391.23 L406.3 391.26 L406.8 391.30 L407.3 391.32 L407.8 391.38 L408.3 391.40 L408.8 391.38 L409.3 391.43 L409.8 391.37 L410.3 391.33 L410.8 391.30 L411.3 391.29 L411.8 391.28 L412.3 391.28 L412.8 391.31 L413.3 391.30 L413.8 391.31 L414.3 391.34 L414.8 391.39 L415.3 391.44 L415.8 391.42 L416.3 391.40 L416.8 391.45 L417.3 391.48 L417.8 391.51 L418.3 391.45 L418.8 391.42 L419.3 391.41 L419.8 391.38 L420.3 391.38 L420.8 391.43 L421.3 391.41 L421.8 391.41 L422.3 391.38 L422.8 391.39 L423.3 391.40 L423.8 391.36 L424.3 391.31 L424.8 391.35 L425.3 391.39 L425.8 391.37 L426.3 391.33 L426.8 391.29 L427.3 391.32 L427.8 391.33 L428.3 391.39 L428.8 391.41 L429.3 391.41 L429.8 391.42 L430.3 391.46 L430.8 391.50 L431.3 391.45 L431.8 391.40 L432.3 391.35 L432.8 391.30 L433.3 391.35 L433.8 391.41 L434.3 391.40 L434.8 391.43 L435.3 391.44 L435.8 391.45 L436.3 391.43 L436.8 391.48 L437.3 391.44 L437.8 391.39 L438.3 391.34 L438.8 391.38 L439.3 391.41 L439.8 391.45 L440.3 391.47 L440.8 391.43 L441.3 391.41 L441.8 391.38 L442.3 391.42 L442.8 391.36 L443.3 391.34 L443.8 391.36 L444.3 391.38 L444.8 391.32 L445.3 391.29 L445.8 391.26 L446.3 391.24 L446.8 391.26 L447.3 391.22 L447.8 391.28 L448.3 391.29 L448.8 391.31 L449.3 391.31 L449.8 391.36 L450.3 391.31 L450.8 391.36 L451.3 391.34 L451.8 391.34 L452.3 391.36 L452.8 391.38 L453.3 391.38 L453.8 391.41 L454.3 391.35 L454.8 391.36 L455.3 391.36 L455.8 391.38 L456.3 391.33 L456.8 391.36 L457.3 391.32 L457.8 391.27 L458.3 391.23 L458.8 391.31 L459.3 391.28 L459.8 391.31 L460.3 391.27 L460.8 391.29 L461.3 391.27 L461.8 391.30 L462.3 391.33 L462.8 391.36 L463.3 391.37 L463.8 391.39 L464.3 391.34 L464.8 391.29 L465.3 391.27 L465.8 391.28 L466.3 391.32 L466.8 391.27 L467.3 391.25 L467.8 391.27 L468.3 391.26 L468.8 391.23 L469.3 391.22 L469.8 391.19 L470.3 391.16 L470.8 391.22 L471.3 391.22 L471.8 391.26 L472.3 391.25 L472.8 391.29 L473.3 391.35 L473.8 391.30 L474.3 391.32 L474.8 391.37 L475.3 391.40 L475.8 391.36 L476.3 391.39 L476.8 391.42 L477.3 391.37 L477.8 391.39 L478.3 391.40 L478.8 391.37 L479.3 391.41 L479.8 391.44 L480.3 391.39 L480.8 391.38 L481.3 391.39 L481.8 391.33 L482.3 391.34 L482.8 391.40 L483.3 391.38 L483.8 391.38 L484.3 391.43 L484.8 391.46 L485.3 391.51 L485.8 391.44 L486.3 391.49 L486.8 391.46 L487.3 391.44 L487.8 391.39 L488.3 391.43 L488.8 391.43 L489.3 391.42 L489.8 391.41 L490.3 391.41 L490.8 391.42 L491.3 391.37 L491.8 391.40 L492.3 391.37 L492.8 391.31 L493.3 391.38 L493.8 391.33 L494.3 391.37 L494.8 391.40 L495.3 391.39 L495.8 391.40 L496.3 391.37 L496.8 391.34 L497.3 391.39 L497.8 391.41 L498.3 391.44 L498.8 391.43 L499.3 391.37 L499.8 391.40 L500.3 391.45 L500.8 391.42 L501.3 391.43 L501.8 391.38 L502.3 391.44 L502.8 391.45 L503.3 391.39 L503.8 391.41 L504.3 391.43 L504.8 391.42 L505.3 391.42 L505.8 391.47 L506.3 391.48 L506.8 391.46 L507.3 391.50 L507.8 391.50 L508.3 391.52 L508.8 391.51 L509.3 391.52 L509.8 391.54 L510.3 391.52 L510.8 391.50 L511.3 391.45 L511.8 391.46 L512.3 391.47 L512.8 391.45 L513.3 391.39 L513.8 391.41 L514.3 391.42 L514.8 391.44 L515.3 391.39 L515.8 391.43 L516.3 391.45 L516.8 391.47 L517.3 391.42 L517.8 391.39 L518.3 391.39 L518.8 391.33 L519.3 391.39 L519.8 391.35 L520.3 391.31 L520.8 391.35 L521.3 391.33 L521.8 391.34 L522.3 391.36 L522.8 391.33 L523.3 391.28 L523.8 391.31 L524.3 391.36 L524.8 391.40 L525.3 391.35 L525.8 391.33 L526.3 391.33 L526.8 391.28 L527.3 391.34 L527.8 391.38 L528.3 391.43 L528.8 391.47 L529.3 391.50 L529.8 391.46 L530.3 391.46 L530.8 391.49 L531.3 391.42 L531.8 391.36 L532.3 391.42 L532.8 391.37 L533.3 391.41 L533.8 391.39 L534.3 391.36 L534.8 391.34 L535.3 391.39 L535.8 391.40 L536.3 391.35 L536.8 391.39 L537.3 391.37 L537.8 391.41 L538.3 391.40 L538.8 391.44 L539.3 391.43 L539.8 391.41 L540.3 391.46 L540.8 391.50 L541.3 391.49 L541.8 391.47 L542.3 391.47 L542.8 391.48 L543.3 391.43 L543.8 391.47 L544.3 391.45 L544.8 391.49 L545.3 391.48 L545.8 391.51 L546.3 391.54 L546.8 391.49 L547.3 391.42 L547.8 391.42 L548.3 391.42 L548.8 391.39 L549.3 391.37 L549.8 391.34 L550.3 391.29 L550.8 391.29 L551.3 391.30 L551.8 391.29 L552.3 391.34 L552.8 391.33 L553.3 391.36 L553.8 391.38 L554.3 391.38 L554.8 391.37 L555.3 391.33 L555.8 391.35 L556.3 391.39 L556.8 391.43 L557.3 391.45 L557.8 391.49 L558.3 391.48 L558.8 391.45 L559.3 391.49 L559.8 391.49 L560.3 391.42 L560.8 391.44 L561.3 391.44 L561.8 391.46 L562.3 391.43 L562.8 391.43 L563.3 391.42 L563.8 391.42 L564.3 391.45 L564.8 391.41 L565.3 391.42 L565.8 391.45 L566.3 391.38 L566.8 391.41 L567.3 391.41 L567.8 391.39 L568.3 391.32 L568.8 391.31 L569.3 391.26 L569.8 391.22 L570.3 391.23 L570.8 391.24 L571.3 391.29 L571.8 391.30 L572.3 391.32 L572.8 391.31 L573.3 391.24 L573.8 391.21 L574.3 391.17 L574.8 391.18 L575.3 391.15 L575.8 391.16 L576.3 391.14 L576.8 391.08 L577.3 391.05 L577.8 391.10 L578.3 391.09 L578.8 391.10 L579.3 391.09 L579.8 391.06 L580.3 391.06 L580.8 391.07 L581.3 391.05 L581.8 391.03 L582.3 390.95 L582.8 390.86 L583.3 390.74 L583.8 390.67 L584.3 390.53 L584.8 390.41 L585.3 390.30 L585.8 390.16 L586.3 389.98 L586.8 389.81 L587.3 389.66 L587.8 389.45 L588.3 389.22 L588.8 388.99 L589.3 388.68 L589.8 388.38 L590.3 388.00 L590.8 387.60 L591.3 387.14 L591.8 386.69 L592.3 386.14 L592.8 385.54 L593.3 384.94 L593.8 384.24 L594.3 383.56 L594.8 382.91 L595.3 382.14 L595.8 381.39 L596.3 380.62 L596.8 379.89 L597.3 379.18 L597.8 378.41 L598.3 377.69 L598.8 376.93 L599.3 376.24 L599.8 375.61 L600.3 375.06 L600.8 374.59 L601.3 374.18 L601.8 373.80 L602.3 373.47 L602.8 373.30 L603.3 373.21 L603.8 373.21 L604.3 373.28 L604.8 373.44 L605.3 373.65 L605.8 373.98 L606.3 374.36 L606.8 374.85 L607.3 375.43 L607.8 375.99 L608.3 376.65 L608.8 377.27 L609.3 377.93 L609.8 378.63 L610.3 379.36 L610.8 380.11 L611.3 380.85 L611.8 381.65 L612.3 382.33 L612.8 383.08 L613.3 383.74 L613.8 384.37 L614.3 385.00 L614.8 385.59 L615.3 386.16 L615.8 386.63 L616.3 387.13 L616.8 387.53 L617.3 387.91 L617.8 388.27 L618.3 388.63 L618.8 388.98 L619.3 389.21 L619.8 389.41 L620.3 389.64 L620.8 389.82 L621.3 390.03 L621.8 390.23 L622.3 390.42 L622.8 390.59 L623.3 390.73 L623.8 390.78 L624.3 390.85 L624.8 390.87 L625.3 390.93 L625.8 390.99 L626.3 391.05 L626.8 391.13 L627.3 391.13 L627.8 391.14 L628.3 391.20 L628.8 391.25 L629.3 391.21 L629.8 391.21 L630.3 391.25 L630.8 391.20 L631.3 391.24 L631.8 391.29 L632.3 391.31 L632.8 391.26 L633.3 391.27 L633.8 391.23 L634.3 391.28 L634.8 391.25 L635.3 391.20 L635.8 391.21 L636.3 391.19 L636.8 391.24 L637.3 391.21 L637.8 391.18 L638.3 391.18 L638.8 391.18 L639.3 391.20 L639.8 391.27 L640.3 391.26 L640.8 391.31 L641.3 391.27 L641.8 391.27 L642.3 391.32 L642.8 391.36 L643.3 391.37 L643.8 391.32 L644.3 391.38 L644.8 391.35 L645.3 391.37 L645.8 391.32 L646.3 391.27 L646.8 391.27 L647.3 391.31 L647.8 391.34 L648.3 391.33 L648.8 391.30 L649.3 391.31 L649.8 391.31 L650.3 391.28 L650.8 391.25 L651.3 391.21 L651.8 391.18 L652.3 391.23 L652.8 391.29 L653.3 391.34 L653.8 391.36 L654.3 391.35 L654.8 391.32 L655.3 391.32 L655.8 391.31 L656.3 391.36 L656.8 391.41 L657.3 391.39 L657.8 391.36 L658.3 391.39 L658.8 391.43 L659.3 391.48 L659.8 391.52 L660.3 391.53 L660.8 391.55 L661.3 391.52 L661.8 391.52 L662.3 391.47 L662.8 391.52 L663.3 391.47 L663.8 391.48 L664.3 391.50 L664.8 391.53 L665.3 391.49 L665.8 391.48 L666.3 391.41 L666.8 391.45 L667.3 391.44 L667.8 391.39 L668.3 391.37 L668.8 391.36 L669.3 391.36 L669.8 391.33 L670.3 391.31" fill="none" stroke="#439a10" stroke-width="2.0" stroke-linejoin="round" stroke-linecap="butt"/>
<path d="M5.8 482.97 L6.3 482.97 L6.8 483.00 L7.3 483.00 L7.8 483.00 L8.3 483.00 L8.8 482.97 L9.3 482.97 L9.8 482.98 L10.3 483.00 L10.8 482.97 L11.3 482.95 L11.8 482.93 L12.3 482.95 L12.8 482.97 L13.3 482.94 L13.8 482.97 L14.3 483.01 L14.8 483.01 L15.3 483.02 L15.8 482.99 L16.3 482.95 L16.8 482.95 L17.3 482.92 L17.8 482.90 L18.3 482.89 L18.8 482.87 L19.3 482.88 L19.8 482.88 L20.3 482.92 L20.8 482.92 L21.3 482.94 L21.8 482.94 L22.3 482.96 L22.8 482.95 L23.3 482.94 L23.8 482.98 L24.3 483.01 L24.8 483.03 L25.3 483.03 L25.8 483.01 L26.3 482.99 L26.8 482.97 L27.3 482.93 L27.8 482.96 L28.3 482.95 L28.8 482.97 L29.3 482.96 L29.8 483.00 L30.3 483.02 L30.8 482.97 L31.3 482.95 L31.8 482.98 L32.3 482.97 L32.8 483.00 L33.3 482.99 L33.8 482.95 L34.3 482.96 L34.8 482.98 L35.3 482.96 L35.8 482.93 L36.3 482.92 L36.8 482.95 L37.3 482.97 L37.8 482.94 L38.3 482.92 L38.8 482.90 L39.3 482.87 L39.8 482.90 L40.3 482.88 L40.8 482.89 L41.3 482.89 L41.8 482.87 L42.3 482.90 L42.8 482.88 L43.3 482.89 L43.8 482.87 L44.3 482.87 L44.8 482.86 L45.3 482.85 L45.8 482.89 L46.3 482.92 L46.8 482.90 L47.3 482.93 L47.8 482.91 L48.3 482.90 L48.8 482.93 L49.3 482.94 L49.8 482.91 L50.3 482.94 L50.8 482.92 L51.3 482.90 L51.8 482.92 L52.3 482.91 L52.8 482.89 L53.3 482.86 L53.8 482.84 L54.3 482.85 L54.8 482.84 L55.3 482.85 L55.8 482.85 L56.3 482.85 L56.8 482.88 L57.3 482.88 L57.8 482.89 L58.3 482.91 L58.8 482.89 L59.3 482.86 L59.8 482.89 L60.3 482.91 L60.8 482.89 L61.3 482.86 L61.8 482.88 L62.3 482.90 L62.8 482.88 L63.3 482.90 L63.8 482.92 L64.3 482.92 L64.8 482.90 L65.3 482.87 L65.8 482.83 L66.3 482.86 L66.8 482.83 L67.3 482.85 L67.8 482.82 L68.3 482.84 L68.8 482.84 L69.3 482.82 L69.8 482.79 L70.3 482.80 L70.8 482.77 L71.3 482.74 L71.8 482.75 L72.3 482.77 L72.8 482.77 L73.3 482.74 L73.8 482.77 L74.3 482.73 L74.8 482.69 L75.3 482.66 L75.8 482.65 L76.3 482.60 L76.8 482.57 L77.3 482.54 L77.8 482.53 L78.3 482.48 L78.8 482.44 L79.3 482.43 L79.8 482.42 L80.3 482.37 L80.8 482.30 L81.3 482.22 L81.8 482.09 L82.3 481.93 L82.8 481.76 L83.3 481.63 L83.8 481.46 L84.3 481.28 L84.8 480.99 L85.3 480.72 L85.8 480.39 L86.3 480.05 L86.8 479.62 L87.3 479.21 L87.8 478.67 L88.3 478.12 L88.8 477.54 L89.3 476.91 L89.8 476.22 L90.3 475.47 L90.8 474.69 L91.3 473.86 L91.8 472.96 L92.3 472.04 L92.8 471.12 L93.3 470.17 L93.8 469.17 L94.3 468.20 L94.8 467.25 L95.3 466.30 L95.8 465.38 L96.3 464.50 L96.8 463.69 L97.3 462.95 L97.8 462.26 L98.3 461.71 L98.8 461.29 L99.3 460.97 L99.8 460.76 L100.3 460.65 L100.8 460.70 L101.3 460.86 L101.8 461.13 L102.3 461.55 L102.8 462.03 L103.3 462.65 L103.8 463.31 L104.3 464.10 L104.8 464.94 L105.3 465.81 L105.8 466.75 L106.3 467.71 L106.8 468.69 L107.3 469.70 L107.8 470.64 L108.3 471.56 L108.8 472.47 L109.3 473.39 L109.8 474.23 L110.3 475.03 L110.8 475.83 L111.3 476.57 L111.8 477.24 L112.3 477.89 L112.8 478.45 L113.3 478.98 L113.8 479.42 L114.3 479.84 L114.8 480.25 L115.3 480.61 L115.8 480.94 L116.3 481.18 L116.8 481.41 L117.3 481.59 L117.8 481.74 L118.3 481.89 L118.8 482.04 L119.3 482.17 L119.8 482.28 L120.3 482.38 L120.8 482.43 L121.3 482.45 L121.8 482.49 L122.3 482.52 L122.8 482.53 L123.3 482.56 L123.8 482.59 L124.3 482.62 L124.8 482.62 L125.3 482.67 L125.8 482.71 L126.3 482.72 L126.8 482.69 L127.3 482.67 L127.8 482.71 L128.3 482.68 L128.8 482.71 L129.3 482.72 L129.8 482.72 L130.3 482.74 L130.8 482.71 L131.3 482.70 L131.8 482.70 L132.3 482.68 L132.8 482.71 L133.3 482.70 L133.8 482.69 L134.3 482.67 L134.8 482.69 L135.3 482.70 L135.8 482.72 L136.3 482.74 L136.8 482.77 L137.3 482.80 L137.8 482.81 L138.3 482.79 L138.8 482.78 L139.3 482.76 L139.8 482.73 L140.3 482.73 L140.8 482.75 L141.3 482.73 L141.8 482.72 L142.3 482.72 L142.8 482.74 L143.3 482.74 L143.8 482.75 L144.3 482.77 L144.8 482.76 L145.3 482.78 L145.8 482.81 L146.3 482.77 L146.8 482.80 L147.3 482.80 L147.8 482.77 L148.3 482.76 L148.8 482.76 L149.3 482.78 L149.8 482.76 L150.3 482.76 L150.8 482.78 L151.3 482.78 L151.8 482.80 L152.3 482.78 L152.8 482.77 L153.3 482.73 L153.8 482.72 L154.3 482.72 L154.8 482.71 L155.3 482.70 L155.8 482.64 L156.3 482.64 L156.8 482.63 L157.3 482.61 L157.8 482.56 L158.3 482.51 L158.8 482.42 L159.3 482.36 L159.8 482.29 L160.3 482.16 L160.8 482.00 L161.3 481.85 L161.8 481.68 L162.3 481.51 L162.8 481.28 L163.3 480.99 L163.8 480.73 L164.3 480.37 L164.8 480.03 L165.3 479.59 L165.8 479.13 L166.3 478.65 L166.8 478.07 L167.3 477.44 L167.8 476.78 L168.3 476.09 L168.8 475.36 L169.3 474.56 L169.8 473.73 L170.3 472.82 L170.8 471.92 L171.3 470.91 L171.8 469.90 L172.3 468.90 L172.8 467.88 L173.3 466.91 L173.8 465.94 L174.3 465.00 L174.8 464.12 L175.3 463.28 L175.8 462.49 L176.3 461.79 L176.8 461.23 L177.3 460.77 L177.8 460.37 L178.3 460.15 L178.8 460.06 L179.3 460.06 L179.8 460.20 L180.3 460.44 L180.8 460.84 L181.3 461.34 L181.8 461.95 L182.3 462.62 L182.8 463.44 L183.3 464.29 L183.8 465.19 L184.3 466.16 L184.8 467.14 L185.3 468.13 L185.8 469.14 L186.3 470.11 L186.8 471.09 L187.3 472.05 L187.8 473.01 L188.3 473.93 L188.8 474.75 L189.3 475.55 L189.8 476.27 L190.3 476.97 L190.8 477.64 L191.3 478.27 L191.8 478.80 L192.3 479.28 L192.8 479.70 L193.3 480.11 L193.8 480.49 L194.3 480.76 L194.8 481.01 L195.3 481.13 L195.8 481.14 L196.3 481.03 L196.8 480.86 L197.3 480.66 L197.8 480.58 L198.3 480.72 L198.8 481.01 L199.3 481.45 L199.8 481.82 L200.3 482.14 L200.8 482.34 L201.3 482.44 L201.8 482.52 L202.3 482.56 L202.8 482.59 L203.3 482.61 L203.8 482.64 L204.3 482.64 L204.8 482.64 L205.3 482.67 L205.8 482.70 L206.3 482.71 L206.8 482.75 L207.3 482.77 L207.8 482.80 L208.3 482.79 L208.8 482.81 L209.3 482.84 L209.8 482.87 L210.3 482.85 L210.8 482.84 L211.3 482.87 L211.8 482.85 L212.3 482.89 L212.8 482.91 L213.3 482.88 L213.8 482.86 L214.3 482.88 L214.8 482.86 L215.3 482.83 L215.8 482.86 L216.3 482.86 L216.8 482.88 L217.3 482.85 L217.8 482.85 L218.3 482.87 L218.8 482.84 L219.3 482.82 L219.8 482.84 L220.3 482.88 L220.8 482.91 L221.3 482.89 L221.8 482.89 L222.3 482.91 L222.8 482.91 L223.3 482.92 L223.8 482.90 L224.3 482.87 L224.8 482.84 L225.3 482.82 L225.8 482.83 L226.3 482.84 L226.8 482.86 L227.3 482.84 L227.8 482.82 L228.3 482.81 L228.8 482.85 L229.3 482.89 L229.8 482.93 L230.3 482.90 L230.8 482.87 L231.3 482.91 L231.8 482.91 L232.3 482.93 L232.8 482.92 L233.3 482.91 L233.8 482.92 L234.3 482.91 L234.8 482.92 L235.3 482.89 L235.8 482.91 L236.3 482.93 L236.8 482.91 L237.3 482.91 L237.8 482.93 L238.3 482.92 L238.8 482.90 L239.3 482.88 L239.8 482.89 L240.3 482.86 L240.8 482.90 L241.3 482.92 L241.8 482.94 L242.3 482.96 L242.8 482.97 L243.3 482.96 L243.8 482.96 L244.3 482.96 L244.8 482.99 L245.3 483.01 L245.8 482.98 L246.3 483.01 L246.8 483.02 L247.3 483.03 L247.8 483.04 L248.3 483.02 L248.8 483.04 L249.3 483.05 L249.8 483.05 L250.3 483.06 L250.8 483.06 L251.3 483.04 L251.8 483.05 L252.3 483.00 L252.8 482.98 L253.3 482.98 L253.8 482.94 L254.3 482.93 L254.8 482.94 L255.3 482.95 L255.8 482.93 L256.3 482.96 L256.8 482.97 L257.3 482.95 L257.8 482.96 L258.3 482.97 L258.8 482.96 L259.3 482.95 L259.8 482.99 L260.3 482.99 L260.8 483.00 L261.3 483.01 L261.8 483.04 L262.3 482.99 L262.8 482.99 L263.3 483.00 L263.8 482.98 L264.3 482.96 L264.8 482.93 L265.3 482.91 L265.8 482.90 L266.3 482.88 L266.8 482.86 L267.3 482.90 L267.8 482.91 L268.3 482.91 L268.8 482.95 L269.3 482.95 L269.8 482.98 L270.3 482.99 L270.8 483.00 L271.3 482.96 L271.8 482.96 L272.3 482.98 L272.8 482.94 L273.3 482.97 L273.8 482.94 L274.3 482.93 L274.8 482.91 L275.3 482.91 L275.8 482.92 L276.3 482.89 L276.8 482.92 L277.3 482.91 L277.8 482.92 L278.3 482.92 L278.8 482.91 L279.3 482.90 L279.8 482.91 L280.3 482.91 L280.8 482.90 L281.3 482.91 L281.8 482.89 L282.3 482.86 L282.8 482.85 L283.3 482.82 L283.8 482.80 L284.3 482.83 L284.8 482.83 L285.3 482.86 L285.8 482.88 L286.3 482.85 L286.8 482.89 L287.3 482.92 L287.8 482.88 L288.3 482.90 L288.8 482.89 L289.3 482.89 L289.8 482.91 L290.3 482.88 L290.8 482.88 L291.3 482.90 L291.8 482.90 L292.3 482.88 L292.8 482.90 L293.3 482.91 L293.8 482.89 L294.3 482.84 L294.8 482.82 L295.3 482.79 L295.8 482.74 L296.3 482.68 L296.8 482.66 L297.3 482.60 L297.8 482.56 L298.3 482.53 L298.8 482.47 L299.3 482.40 L299.8 482.34 L300.3 482.26 L300.8 482.19 L301.3 482.09 L301.8 482.02 L302.3 481.92 L302.8 481.79 L303.3 481.60 L303.8 481.40 L304.3 481.24 L304.8 481.05 L305.3 480.82 L305.8 480.56 L306.3 480.28 L306.8 480.01 L307.3 479.72 L307.8 479.41 L308.3 479.08 L308.8 478.75 L309.3 478.36 L309.8 477.96 L310.3 477.62 L310.8 477.25 L311.3 476.88 L311.8 476.44 L312.3 476.01 L312.8 475.60 L313.3 475.22 L313.8 474.87 L314.3 474.49 L314.8 474.17 L315.3 473.84 L315.8 473.55 L316.3 473.33 L316.8 473.14 L317.3 472.99 L317.8 472.86 L318.3 472.79 L318.8 472.74 L319.3 472.75 L319.8 472.83 L320.3 472.96 L320.8 473.08 L321.3 473.24 L321.8 473.50 L322.3 473.77 L322.8 474.08 L323.3 474.38 L323.8 474.71 L324.3 475.06 L324.8 475.46 L325.3 475.84 L325.8 476.24 L326.3 476.67 L326.8 477.05 L327.3 477.44 L327.8 477.84 L328.3 478.25 L328.8 478.60 L329.3 478.94 L329.8 479.24 L330.3 479.59 L330.8 479.86 L331.3 480.12 L331.8 480.40 L332.3 480.65 L332.8 480.90 L333.3 481.10 L333.8 481.32 L334.3 481.47 L334.8 481.61 L335.3 481.78 L335.8 481.88 L336.3 481.99 L336.8 482.12 L337.3 482.24 L337.8 482.31 L338.3 482.36 L338.8 482.42 L339.3 482.50 L339.8 482.54 L340.3 482.56 L340.8 482.62 L341.3 482.67 L341.8 482.73 L342.3 482.78 L342.8 482.83 L343.3 482.84 L343.8 482.87 L344.3 482.86 L344.8 482.85 L345.3 482.85 L345.8 482.89 L346.3 482.92 L346.8 482.90 L347.3 482.89 L347.8 482.89 L348.3 482.88 L348.8 482.88 L349.3 482.87 L349.8 482.86 L350.3 482.87 L350.8 482.90 L351.3 482.90 L351.8 482.93 L352.3 482.93 L352.8 482.91 L353.3 482.93 L353.8 482.96 L354.3 482.94 L354.8 482.90 L355.3 482.91 L355.8 482.92 L356.3 482.92 L356.8 482.96 L357.3 482.97 L357.8 482.99 L358.3 482.95 L358.8 482.95 L359.3 482.97 L359.8 482.94 L360.3 482.91 L360.8 482.93 L361.3 482.96 L361.8 482.93 L362.3 482.94 L362.8 482.92 L363.3 482.94 L363.8 482.95 L364.3 482.93 L364.8 482.91 L365.3 482.94 L365.8 482.94 L366.3 482.96 L366.8 482.95 L367.3 482.94 L367.8 482.98 L368.3 482.99 L368.8 482.98 L369.3 482.98 L369.8 483.00 L370.3 483.01 L370.8 483.03 L371.3 483.02 L371.8 483.03 L372.3 483.04 L372.8 483.05 L373.3 483.06 L373.8 483.08 L374.3 483.09 L374.8 483.11 L375.3 483.10 L375.8 483.09 L376.3 483.09 L376.8 483.09 L377.3 483.07 L377.8 483.06 L378.3 483.02 L378.8 483.03 L379.3 483.06 L379.8 483.04 L380.3 483.01 L380.8 482.98 L381.3 482.97 L381.8 482.96 L382.3 482.99 L382.8 482.96 L383.3 482.95 L383.8 482.92 L384.3 482.94 L384.8 482.96 L385.3 482.94 L385.8 482.91 L386.3 482.92 L386.8 482.93 L387.3 482.96 L387.8 482.93 L388.3 482.91 L388.8 482.89 L389.3 482.88 L389.8 482.88 L390.3 482.90 L390.8 482.92 L391.3 482.91 L391.8 482.89 L392.3 482.89 L392.8 482.87 L393.3 482.90 L393.8 482.90 L394.3 482.91 L394.8 482.94 L395.3 482.95 L395.8 482.93 L396.3 482.97 L396.8 483.00 L397.3 482.98 L397.8 482.99 L398.3 483.02 L398.8 483.01 L399.3 482.99 L399.8 482.95 L400.3 482.99 L400.8 483.01 L401.3 483.00 L401.8 483.00 L402.3 483.00 L402.8 482.98 L403.3 483.01 L403.8 483.02 L404.3 483.00 L404.8 482.96 L405.3 482.96 L405.8 482.95 L406.3 482.98 L406.8 482.99 L407.3 483.00 L407.8 482.97 L408.3 482.95 L408.8 482.94 L409.3 482.93 L409.8 482.96 L410.3 482.96 L410.8 482.98 L411.3 483.01 L411.8 482.99 L412.3 482.99 L412.8 482.97 L413.3 482.99 L413.8 482.95 L414.3 482.98 L414.8 483.00 L415.3 483.02 L415.8 482.99 L416.3 482.97 L416.8 482.99 L417.3 482.96 L417.8 482.96 L418.3 482.96 L418.8 483.00 L419.3 483.00 L419.8 483.03 L420.3 483.01 L420.8 483.02 L421.3 483.01 L421.8 483.04 L422.3 483.00 L422.8 483.02 L423.3 483.00 L423.8 483.00 L424.3 483.00 L424.8 482.97 L425.3 483.00 L425.8 482.98 L426.3 482.97 L426.8 482.94 L427.3 482.93 L427.8 482.94 L428.3 482.96 L428.8 482.95 L429.3 482.97 L429.8 482.94 L430.3 482.94 L430.8 482.94 L431.3 482.98 L431.8 483.01 L432.3 483.01 L432.8 482.98 L433.3 482.97 L433.8 482.99 L434.3 482.97 L434.8 482.97 L435.3 482.97 L435.8 482.94 L436.3 482.98 L436.8 483.00 L437.3 482.98 L437.8 482.99 L438.3 482.97 L438.8 482.97 L439.3 482.97 L439.8 482.96 L440.3 482.95 L440.8 482.95 L441.3 482.96 L441.8 482.95 L442.3 482.93 L442.8 482.95 L443.3 482.95 L443.8 482.98 L444.3 482.99 L444.8 483.00 L445.3 482.99 L445.8 483.01 L446.3 482.98 L446.8 482.96 L447.3 482.93 L447.8 482.95 L448.3 482.97 L448.8 482.95 L449.3 482.95 L449.8 482.98 L450.3 482.98 L450.8 482.95 L451.3 482.94 L451.8 482.92 L452.3 482.90 L452.8 482.90 L453.3 482.88 L453.8 482.93 L454.3 482.93 L454.8 482.94 L455.3 482.95 L455.8 482.98 L456.3 483.00 L456.8 482.99 L457.3 482.98 L457.8 482.97 L458.3 482.94 L458.8 482.94 L459.3 482.96 L459.8 483.00 L460.3 483.02 L460.8 483.02 L461.3 483.03 L461.8 482.99 L462.3 482.98 L462.8 482.97 L463.3 482.98 L463.8 482.95 L464.3 482.95 L464.8 482.95 L465.3 482.98 L465.8 483.00 L466.3 483.01 L466.8 482.98 L467.3 483.00 L467.8 483.03 L468.3 483.03 L468.8 483.01 L469.3 483.01 L469.8 482.98 L470.3 483.00 L470.8 483.03 L471.3 483.03 L471.8 483.04 L472.3 483.06 L472.8 483.03 L473.3 483.05 L473.8 483.05 L474.3 483.02 L474.8 482.99 L475.3 482.97 L475.8 482.98 L476.3 482.99 L476.8 482.98 L477.3 483.01 L477.8 483.00 L478.3 483.00 L478.8 482.97 L479.3 483.00 L479.8 482.98 L480.3 483.01 L480.8 483.01 L481.3 483.01 L481.8 483.01 L482.3 482.99 L482.8 483.02 L483.3 483.05 L483.8 483.07 L484.3 483.06 L484.8 483.03 L485.3 483.05 L485.8 483.02 L486.3 483.05 L486.8 483.02 L487.3 483.02 L487.8 483.04 L488.3 483.01 L488.8 483.01 L489.3 482.98 L489.8 482.95 L490.3 482.93 L490.8 482.97 L491.3 483.00 L491.8 483.01 L492.3 483.00 L492.8 483.01 L493.3 483.02 L493.8 483.01 L494.3 483.01 L494.8 483.03 L495.3 482.99 L495.8 482.97 L496.3 482.97 L496.8 482.95 L497.3 482.94 L497.8 482.95 L498.3 482.93 L498.8 482.94 L499.3 482.93 L499.8 482.94 L500.3 482.93 L500.8 482.95 L501.3 482.92 L501.8 482.94 L502.3 482.92 L502.8 482.96 L503.3 482.97 L503.8 482.97 L504.3 482.97 L504.8 482.98 L505.3 482.99 L505.8 483.01 L506.3 483.03 L506.8 483.02 L507.3 483.05 L507.8 483.07 L508.3 483.08 L508.8 483.06 L509.3 483.05 L509.8 483.05 L510.3 483.07 L510.8 483.06 L511.3 483.05 L511.8 483.04 L512.3 483.06 L512.8 483.04 L513.3 483.00 L513.8 483.02 L514.3 483.04 L514.8 483.05 L515.3 483.05 L515.8 483.06 L516.3 483.04 L516.8 483.04 L517.3 483.00 L517.8 482.97 L518.3 482.97 L518.8 482.97 L519.3 482.96 L519.8 482.93 L520.3 482.95 L520.8 482.96 L521.3 482.94 L521.8 482.93 L522.3 482.93 L522.8 482.92 L523.3 482.90 L523.8 482.94 L524.3 482.97 L524.8 482.99 L525.3 483.01 L525.8 483.00 L526.3 483.02 L526.8 483.00 L527.3 483.01 L527.8 483.01 L528.3 483.04 L528.8 483.00 L529.3 483.02 L529.8 482.99 L530.3 482.99 L530.8 483.02 L531.3 482.98 L531.8 482.96 L532.3 482.95 L532.8 482.94 L533.3 482.91 L533.8 482.95 L534.3 482.98 L534.8 482.97 L535.3 482.96 L535.8 482.97 L536.3 482.94 L536.8 482.91 L537.3 482.94 L537.8 482.93 L538.3 482.94 L538.8 482.97 L539.3 483.01 L539.8 483.00 L540.3 482.98 L540.8 482.96 L541.3 482.99 L541.8 483.02 L542.3 482.99 L542.8 483.01 L543.3 483.00 L543.8 482.99 L544.3 482.97 L544.8 483.00 L545.3 483.03 L545.8 483.00 L546.3 483.01 L546.8 482.98 L547.3 483.00 L547.8 482.97 L548.3 482.94 L548.8 482.96 L549.3 482.95 L549.8 482.98 L550.3 483.00 L550.8 483.01 L551.3 482.98 L551.8 482.99 L552.3 483.02 L552.8 483.01 L553.3 482.97 L553.8 482.95 L554.3 482.94 L554.8 482.96 L555.3 482.94 L555.8 482.92 L556.3 482.90 L556.8 482.92 L557.3 482.95 L557.8 482.94 L558.3 482.95 L558.8 482.98 L559.3 482.98 L559.8 482.96 L560.3 482.94 L560.8 482.98 L561.3 482.98 L561.8 482.96 L562.3 482.97 L562.8 482.94 L563.3 482.97 L563.8 482.97 L564.3 482.97 L564.8 482.97 L565.3 482.93 L565.8 482.94 L566.3 482.92 L566.8 482.91 L567.3 482.93 L567.8 482.90 L568.3 482.89 L568.8 482.91 L569.3 482.90 L569.8 482.88 L570.3 482.89 L570.8 482.87 L571.3 482.91 L571.8 482.94 L572.3 482.91 L572.8 482.90 L573.3 482.92 L573.8 482.91 L574.3 482.94 L574.8 482.94 L575.3 482.91 L575.8 482.91 L576.3 482.92 L576.8 482.90 L577.3 482.91 L577.8 482.93 L578.3 482.92 L578.8 482.92 L579.3 482.93 L579.8 482.94 L580.3 482.93 L580.8 482.95 L581.3 482.91 L581.8 482.92 L582.3 482.88 L582.8 482.87 L583.3 482.84 L583.8 482.82 L584.3 482.82 L584.8 482.82 L585.3 482.82 L585.8 482.76 L586.3 482.73 L586.8 482.67 L587.3 482.64 L587.8 482.59 L588.3 482.51 L588.8 482.46 L589.3 482.40 L589.8 482.33 L590.3 482.26 L590.8 482.13 L591.3 481.98 L591.8 481.82 L592.3 481.68 L592.8 481.51 L593.3 481.32 L593.8 481.11 L594.3 480.91 L594.8 480.64 L595.3 480.41 L595.8 480.12 L596.3 479.82 L596.8 479.51 L597.3 479.14 L597.8 478.75 L598.3 478.35 L598.8 477.92 L599.3 477.51 L599.8 477.10 L600.3 476.68 L600.8 476.24 L601.3 475.82 L601.8 475.38 L602.3 474.99 L602.8 474.58 L603.3 474.19 L603.8 473.82 L604.3 473.52 L604.8 473.26 L605.3 473.04 L605.8 472.80 L606.3 472.64 L606.8 472.52 L607.3 472.45 L607.8 472.48 L608.3 472.50 L608.8 472.61 L609.3 472.78 L609.8 473.01 L610.3 473.23 L610.8 473.51 L611.3 473.84 L611.8 474.16 L612.3 474.51 L612.8 474.94 L613.3 475.33 L613.8 475.75 L614.3 476.17 L614.8 476.60 L615.3 477.00 L615.8 477.40 L616.3 477.86 L616.8 478.29 L617.3 478.70 L617.8 479.05 L618.3 479.39 L618.8 479.73 L619.3 480.03 L619.8 480.33 L620.3 480.63 L620.8 480.88 L621.3 481.10 L621.8 481.34 L622.3 481.54 L622.8 481.67 L623.3 481.82 L623.8 481.97 L624.3 482.06 L624.8 482.16 L625.3 482.28 L625.8 482.39 L626.3 482.47 L626.8 482.56 L627.3 482.61 L627.8 482.64 L628.3 482.70 L628.8 482.73 L629.3 482.77 L629.8 482.77 L630.3 482.78 L630.8 482.78 L631.3 482.80 L631.8 482.79 L632.3 482.79 L632.8 482.78 L633.3 482.80 L633.8 482.80 L634.3 482.81 L634.8 482.86 L635.3 482.88 L635.8 482.91 L636.3 482.89 L636.8 482.89 L637.3 482.86 L637.8 482.88 L638.3 482.88 L638.8 482.87 L639.3 482.84 L639.8 482.83 L640.3 482.83 L640.8 482.83 L641.3 482.87 L641.8 482.90 L642.3 482.89 L642.8 482.88 L643.3 482.87 L643.8 482.91 L644.3 482.90 L644.8 482.93 L645.3 482.94 L645.8 482.97 L646.3 482.94 L646.8 482.93 L647.3 482.92 L647.8 482.89 L648.3 482.93 L648.8 482.92 L649.3 482.94 L649.8 482.95 L650.3 482.92 L650.8 482.91 L651.3 482.90 L651.8 482.87 L652.3 482.86 L652.8 482.88 L653.3 482.85 L653.8 482.85 L654.3 482.86 L654.8 482.88 L655.3 482.86 L655.8 482.89 L656.3 482.88 L656.8 482.91 L657.3 482.93 L657.8 482.91 L658.3 482.89 L658.8 482.89 L659.3 482.91 L659.8 482.91 L660.3 482.91 L660.8 482.94 L661.3 482.93 L661.8 482.92 L662.3 482.91 L662.8 482.90 L663.3 482.88 L663.8 482.85 L664.3 482.88 L664.8 482.89 L665.3 482.93 L665.8 482.97 L666.3 482.95 L666.8 482.97 L667.3 483.00 L667.8 482.98 L668.3 482.99 L668.8 483.00 L669.3 483.03 L669.8 483.05 L670.3 483.02" fill="none" stroke="#1420b6" stroke-width="2.0" stroke-linejoin="round" stroke-linecap="butt"/>
<path d="M5.8 568.67 L6.3 568.68 L6.8 568.70 L7.3 568.72 L7.8 568.69 L8.3 568.67 L8.8 568.65 L9.3 568.63 L9.8 568.66 L10.3 568.63 L10.8 568.64 L11.3 568.63 L11.8 568.62 L12.3 568.62 L12.8 568.65 L13.3 568.66 L13.8 568.63 L14.3 568.62 L14.8 568.60 L15.3 568.64 L15.8 568.67 L16.3 568.69 L16.8 568.71 L17.3 568.73 L17.8 568.75 L18.3 568.77 L18.8 568.74 L19.3 568.76 L19.8 568.75 L20.3 568.76 L20.8 568.75 L21.3 568.74 L21.8 568.72 L22.3 568.71 L22.8 568.69 L23.3 568.66 L23.8 568.69 L24.3 568.71 L24.8 568.74 L25.3 568.75 L25.8 568.74 L26.3 568.75 L26.8 568.72 L27.3 568.72 L27.8 568.71 L28.3 568.69 L28.8 568.66 L29.3 568.67 L29.8 568.65 L30.3 568.65 L30.8 568.66 L31.3 568.65 L31.8 568.63 L32.3 568.63 L32.8 568.62 L33.3 568.61 L33.8 568.59 L34.3 568.59 L34.8 568.57 L35.3 568.59 L35.8 568.63 L36.3 568.63 L36.8 568.65 L37.3 568.68 L37.8 568.65 L38.3 568.62 L38.8 568.65 L39.3 568.68 L39.8 568.69 L40.3 568.66 L40.8 568.65 L41.3 568.68 L41.8 568.71 L42.3 568.72 L42.8 568.69 L43.3 568.71 L43.8 568.70 L44.3 568.71 L44.8 568.68 L45.3 568.71 L45.8 568.71 L46.3 568.72 L46.8 568.69 L47.3 568.69 L47.8 568.69 L48.3 568.70 L48.8 568.68 L49.3 568.69 L49.8 568.68 L50.3 568.66 L50.8 568.63 L51.3 568.65 L51.8 568.62 L52.3 568.60 L52.8 568.57 L53.3 568.59 L53.8 568.60 L54.3 568.61 L54.8 568.58 L55.3 568.58 L55.8 568.58 L56.3 568.55 L56.8 568.53 L57.3 568.57 L57.8 568.55 L58.3 568.55 L58.8 568.54 L59.3 568.56 L59.8 568.53 L60.3 568.54 L60.8 568.54 L61.3 568.57 L61.8 568.54 L62.3 568.54 L62.8 568.55 L63.3 568.59 L63.8 568.59 L64.3 568.59 L64.8 568.60 L65.3 568.59 L65.8 568.55 L66.3 568.56 L66.8 568.59 L67.3 568.60 L67.8 568.58 L68.3 568.59 L68.8 568.62 L69.3 568.59 L69.8 568.59 L70.3 568.58 L70.8 568.56 L71.3 568.54 L71.8 568.52 L72.3 568.51 L72.8 568.48 L73.3 568.47 L73.8 568.45 L74.3 568.47 L74.8 568.48 L75.3 568.44 L75.8 568.46 L76.3 568.43 L76.8 568.43 L77.3 568.42 L77.8 568.40 L78.3 568.37 L78.8 568.35 L79.3 568.31 L79.8 568.31 L80.3 568.26 L80.8 568.25 L81.3 568.18 L81.8 568.12 L82.3 568.05 L82.8 567.95 L83.3 567.84 L83.8 567.74 L84.3 567.63 L84.8 567.53 L85.3 567.42 L85.8 567.22 L86.3 567.03 L86.8 566.79 L87.3 566.57 L87.8 566.29 L88.3 566.02 L88.8 565.69 L89.3 565.30 L89.8 564.87 L90.3 564.43 L90.8 564.01 L91.3 563.50 L91.8 562.99 L92.3 562.44 L92.8 561.87 L93.3 561.31 L93.8 560.69 L94.3 560.09 L94.8 559.47 L95.3 558.87 L95.8 558.24 L96.3 557.66 L96.8 557.04 L97.3 556.47 L97.8 555.93 L98.3 555.44 L98.8 555.01 L99.3 554.56 L99.8 554.19 L100.3 553.91 L100.8 553.72 L101.3 553.59 L101.8 553.52 L102.3 553.57 L102.8 553.65 L103.3 553.80 L103.8 554.02 L104.3 554.31 L104.8 554.71 L105.3 555.13 L105.8 555.64 L106.3 556.20 L106.8 556.80 L107.3 557.41 L107.8 558.01 L108.3 558.64 L108.8 559.29 L109.3 559.93 L109.8 560.53 L110.3 561.16 L110.8 561.72 L111.3 562.28 L111.8 562.87 L112.3 563.39 L112.8 563.87 L113.3 564.36 L113.8 564.79 L114.3 565.16 L114.8 565.50 L115.3 565.83 L115.8 566.14 L116.3 566.47 L116.8 566.71 L117.3 566.97 L117.8 567.20 L118.3 567.38 L118.8 567.57 L119.3 567.73 L119.8 567.84 L120.3 567.93 L120.8 568.02 L121.3 568.13 L121.8 568.19 L122.3 568.23 L122.8 568.27 L123.3 568.31 L123.8 568.33 L124.3 568.37 L124.8 568.36 L125.3 568.41 L125.8 568.41 L126.3 568.41 L126.8 568.43 L127.3 568.44 L127.8 568.49 L128.3 568.50 L128.8 568.51 L129.3 568.54 L129.8 568.53 L130.3 568.56 L130.8 568.57 L131.3 568.57 L131.8 568.61 L132.3 568.57 L132.8 568.60 L133.3 568.58 L133.8 568.60 L134.3 568.58 L134.8 568.55 L135.3 568.56 L135.8 568.60 L136.3 568.58 L136.8 568.59 L137.3 568.60 L137.8 568.58 L138.3 568.59 L138.8 568.56 L139.3 568.56 L139.8 568.59 L140.3 568.77 L140.8 568.75 L141.3 568.72 L141.8 568.74 L142.3 568.74 L142.8 568.77 L143.3 568.79 L143.8 568.76 L144.3 568.78 L144.8 568.81 L145.3 568.82 L145.8 568.83 L146.3 568.83 L146.8 568.82 L147.3 568.82 L147.8 568.80 L148.3 568.77 L148.8 568.72 L149.3 568.73 L149.8 568.72 L150.3 568.67 L150.8 568.66 L151.3 568.66 L151.8 568.64 L152.3 568.65 L152.8 568.65 L153.3 568.62 L153.8 568.62 L154.3 568.60 L154.8 568.58 L155.3 568.55 L155.8 568.56 L156.3 568.53 L156.8 568.53 L157.3 568.47 L157.8 568.44 L158.3 568.41 L158.8 568.36 L159.3 568.29 L159.8 568.19 L160.3 568.11 L160.8 568.03 L161.3 567.97 L161.8 567.90 L162.3 567.84 L162.8 567.74 L163.3 567.62 L163.8 567.52 L164.3 567.42 L164.8 567.24 L165.3 567.05 L165.8 566.82 L166.3 566.58 L166.8 566.32 L167.3 566.08 L167.8 565.75 L168.3 565.46 L168.8 565.09 L169.3 564.64 L169.8 564.14 L170.3 563.47 L170.8 562.75 L171.3 562.01 L171.8 561.27 L172.3 560.58 L172.8 559.92 L173.3 559.26 L173.8 558.58 L174.3 557.96 L174.8 557.29 L175.3 556.63 L175.8 555.99 L176.3 555.35 L176.8 554.59 L177.3 553.82 L177.8 553.20 L178.3 552.87 L178.8 552.67 L179.3 552.47 L179.8 552.32 L180.3 552.29 L180.8 552.29 L181.3 552.31 L181.8 552.35 L182.3 552.35 L182.8 552.40 L183.3 552.59 L183.8 553.13 L184.3 553.81 L184.8 554.48 L185.3 555.29 L185.8 556.19 L186.3 557.16 L186.8 558.07 L187.3 558.95 L187.8 559.67 L188.3 560.42 L188.8 561.12 L189.3 561.84 L189.8 562.53 L190.3 563.11 L190.8 563.67 L191.3 564.11 L191.8 564.50 L192.3 564.87 L192.8 565.23 L193.3 565.54 L193.8 565.85 L194.3 566.11 L194.8 566.31 L195.3 566.47 L195.8 566.57 L196.3 566.66 L196.8 566.74 L197.3 566.79 L197.8 566.91 L198.3 566.98 L198.8 567.06 L199.3 567.19 L199.8 567.32 L200.3 567.41 L200.8 567.49 L201.3 567.54 L201.8 567.58 L202.3 567.66 L202.8 567.72 L203.3 567.76 L203.8 567.86 L204.3 567.89 L204.8 567.95 L205.3 568.02 L205.8 568.09 L206.3 568.10 L206.8 568.16 L207.3 568.19 L207.8 568.23 L208.3 568.29 L208.8 568.33 L209.3 568.35 L209.8 568.39 L210.3 568.40 L210.8 568.42 L211.3 568.46 L211.8 568.48 L212.3 568.48 L212.8 568.45 L213.3 568.49 L213.8 568.49 L214.3 568.50 L214.8 568.49 L215.3 568.51 L215.8 568.52 L216.3 568.55 L216.8 568.57 L217.3 568.58 L217.8 568.61 L218.3 568.61 L218.8 568.61 L219.3 568.64 L219.8 568.65 L220.3 568.67 L220.8 568.69 L221.3 568.69 L221.8 568.69 L222.3 568.67 L222.8 568.65 L223.3 568.65 L223.8 568.65 L224.3 568.68 L224.8 568.65 L225.3 568.64 L225.8 568.67 L226.3 568.67 L226.8 568.69 L227.3 568.67 L227.8 568.69 L228.3 568.69 L228.8 568.70 L229.3 568.66 L229.8 568.66 L230.3 568.69 L230.8 568.71 L231.3 568.71 L231.8 568.71 L232.3 568.67 L232.8 568.69 L233.3 568.69 L233.8 568.71 L234.3 568.72 L234.8 568.71 L235.3 568.72 L235.8 568.69 L236.3 568.72 L236.8 568.69 L237.3 568.72 L237.8 568.73 L238.3 568.72 L238.8 568.74 L239.3 568.74 L239.8 568.73 L240.3 568.70 L240.8 568.72 L241.3 568.72 L241.8 568.70 L242.3 568.67 L242.8 568.67 L243.3 568.70 L243.8 568.73 L244.3 568.72 L244.8 568.68 L245.3 568.71 L245.8 568.68 L246.3 568.70 L246.8 568.70 L247.3 568.73 L247.8 568.70 L248.3 568.72 L248.8 568.73 L249.3 568.69 L249.8 568.70 L250.3 568.68 L250.8 568.69 L251.3 568.73 L251.8 568.73 L252.3 568.73 L252.8 568.73 L253.3 568.71 L253.8 568.70 L254.3 568.67 L254.8 568.69 L255.3 568.66 L255.8 568.66 L256.3 568.64 L256.8 568.65 L257.3 568.62 L257.8 568.60 L258.3 568.62 L258.8 568.64 L259.3 568.67 L259.8 568.69 L260.3 568.72 L260.8 568.69 L261.3 568.70 L261.8 568.71 L262.3 568.68 L262.8 568.66 L263.3 568.64 L263.8 568.65 L264.3 568.67 L264.8 568.69 L265.3 568.69 L265.8 568.66 L266.3 568.68 L266.8 568.68 L267.3 568.66 L267.8 568.67 L268.3 568.65 L268.8 568.64 L269.3 568.64 L269.8 568.67 L270.3 568.64 L270.8 568.64 L271.3 568.63 L271.8 568.64 L272.3 568.67 L272.8 568.66 L273.3 568.67 L273.8 568.67 L274.3 568.65 L274.8 568.64 L275.3 568.65 L275.8 568.67 L276.3 568.68 L276.8 568.64 L277.3 568.67 L277.8 568.67 L278.3 568.67 L278.8 568.65 L279.3 568.65 L279.8 568.67 L280.3 568.65 L280.8 568.63 L281.3 568.66 L281.8 568.66 L282.3 568.63 L282.8 568.66 L283.3 568.63 L283.8 568.63 L284.3 568.64 L284.8 568.66 L285.3 568.69 L285.8 568.66 L286.3 568.67 L286.8 568.69 L287.3 568.69 L287.8 568.70 L288.3 568.69 L288.8 568.70 L289.3 568.73 L289.8 568.71 L290.3 568.72 L290.8 568.70 L291.3 568.72 L291.8 568.73 L292.3 568.75 L292.8 568.76 L293.3 568.75 L293.8 568.77 L294.3 568.73 L294.8 568.72 L295.3 568.68 L295.8 568.68 L296.3 568.68 L296.8 568.66 L297.3 568.67 L297.8 568.65 L298.3 568.62 L298.8 568.58 L299.3 568.58 L299.8 568.56 L300.3 568.52 L300.8 568.49 L301.3 568.51 L301.8 568.49 L302.3 568.48 L302.8 568.45 L303.3 568.39 L303.8 568.36 L304.3 568.30 L304.8 568.24 L305.3 568.20 L305.8 568.17 L306.3 568.08 L306.8 568.05 L307.3 567.95 L307.8 567.85 L308.3 567.76 L308.8 567.70 L309.3 567.63 L309.8 567.54 L310.3 567.43 L310.8 567.34 L311.3 567.19 L311.8 567.10 L312.3 566.94 L312.8 566.78 L313.3 566.67 L313.8 566.56 L314.3 566.43 L314.8 566.28 L315.3 566.17 L315.8 566.04 L316.3 565.89 L316.8 565.74 L317.3 565.67 L317.8 565.54 L318.3 565.43 L318.8 565.34 L319.3 565.31 L319.8 565.28 L320.3 565.26 L320.8 565.25 L321.3 565.20 L321.8 565.22 L322.3 565.22 L322.8 565.29 L323.3 565.38 L323.8 565.41 L324.3 565.50 L324.8 565.57 L325.3 565.64 L325.8 565.78 L326.3 565.89 L326.8 566.00 L327.3 566.14 L327.8 566.24 L328.3 566.37 L328.8 566.52 L329.3 566.69 L329.8 566.79 L330.3 566.96 L330.8 567.06 L331.3 567.16 L331.8 567.27 L332.3 567.37 L332.8 567.46 L333.3 567.58 L333.8 567.68 L334.3 567.76 L334.8 567.85 L335.3 567.91 L335.8 568.01 L336.3 568.11 L336.8 568.18 L337.3 568.23 L337.8 568.27 L338.3 568.31 L338.8 568.35 L339.3 568.36 L339.8 568.39 L340.3 568.44 L340.8 568.47 L341.3 568.46 L341.8 568.46 L342.3 568.51 L342.8 568.52 L343.3 568.57 L343.8 568.59 L344.3 568.61 L344.8 568.60 L345.3 568.62 L345.8 568.62 L346.3 568.63 L346.8 568.66 L347.3 568.64 L347.8 568.62 L348.3 568.66 L348.8 568.69 L349.3 568.71 L349.8 568.73 L350.3 568.69 L350.8 568.71 L351.3 568.68 L351.8 568.70 L352.3 568.69 L352.8 568.69 L353.3 568.69 L353.8 568.66 L354.3 568.67 L354.8 568.70 L355.3 568.69 L355.8 568.68 L356.3 568.67 L356.8 568.65 L357.3 568.64 L357.8 568.67 L358.3 568.70 L358.8 568.69 L359.3 568.67 L359.8 568.66 L360.3 568.69 L360.8 568.67 L361.3 568.65 L361.8 568.64 L362.3 568.62 L362.8 568.60 L363.3 568.59 L363.8 568.61 L364.3 568.65 L364.8 568.64 L365.3 568.63 L365.8 568.64 L366.3 568.61 L366.8 568.59 L367.3 568.61 L367.8 568.61 L368.3 568.61 L368.8 568.62 L369.3 568.59 L369.8 568.58 L370.3 568.57 L370.8 568.57 L371.3 568.55 L371.8 568.59 L372.3 568.57 L372.8 568.57 L373.3 568.56 L373.8 568.56 L374.3 568.59 L374.8 568.64 L375.3 568.68 L375.8 568.67 L376.3 568.67 L376.8 568.67 L377.3 568.64 L377.8 568.64 L378.3 568.65 L378.8 568.65 L379.3 568.68 L379.8 568.67 L380.3 568.66 L380.8 568.69 L381.3 568.70 L381.8 568.68 L382.3 568.71 L382.8 568.71 L383.3 568.71 L383.8 568.71 L384.3 568.73 L384.8 568.74 L385.3 568.73 L385.8 568.72 L386.3 568.73 L386.8 568.75 L387.3 568.75 L387.8 568.77 L388.3 568.76 L388.8 568.75 L389.3 568.73 L389.8 568.71 L390.3 568.68 L390.8 568.71 L391.3 568.71 L391.8 568.68 L392.3 568.66 L392.8 568.66 L393.3 568.69 L393.8 568.71 L394.3 568.73 L394.8 568.71 L395.3 568.70 L395.8 568.73 L396.3 568.72 L396.8 568.73 L397.3 568.69 L397.8 568.69 L398.3 568.69 L398.8 568.72 L399.3 568.75 L399.8 568.76 L400.3 568.74 L400.8 568.76 L401.3 568.78 L401.8 568.74 L402.3 568.73 L402.8 568.73 L403.3 568.71 L403.8 568.69 L404.3 568.71 L404.8 568.69 L405.3 568.69 L405.8 568.66 L406.3 568.66 L406.8 568.70 L407.3 568.66 L407.8 568.64 L408.3 568.67 L408.8 568.71 L409.3 568.70 L409.8 568.69 L410.3 568.67 L410.8 568.69 L411.3 568.70 L411.8 568.69 L412.3 568.71 L412.8 568.68 L413.3 568.67 L413.8 568.70 L414.3 568.73 L414.8 568.73 L415.3 568.74 L415.8 568.76 L416.3 568.76 L416.8 568.72 L417.3 568.69 L417.8 568.70 L418.3 568.69 L418.8 568.69 L419.3 568.66 L419.8 568.70 L420.3 568.68 L420.8 568.69 L421.3 568.70 L421.8 568.69 L422.3 568.67 L422.8 568.68 L423.3 568.67 L423.8 568.64 L424.3 568.62 L424.8 568.60 L425.3 568.64 L425.8 568.62 L426.3 568.66 L426.8 568.68 L427.3 568.71 L427.8 568.71 L428.3 568.69 L428.8 568.66 L429.3 568.67 L429.8 568.69 L430.3 568.70 L430.8 568.73 L431.3 568.70 L431.8 568.71 L432.3 568.72 L432.8 568.75 L433.3 568.73 L433.8 568.75 L434.3 568.71 L434.8 568.72 L435.3 568.70 L435.8 568.70 L436.3 568.68 L436.8 568.67 L437.3 568.66 L437.8 568.66 L438.3 568.66 L438.8 568.65 L439.3 568.63 L439.8 568.63 L440.3 568.68 L440.8 568.70 L441.3 568.68 L441.8 568.69 L442.3 568.66 L442.8 568.66 L443.3 568.70 L443.8 568.68 L444.3 568.66 L444.8 568.67 L445.3 568.68 L445.8 568.68 L446.3 568.71 L446.8 568.71 L447.3 568.70 L447.8 568.68 L448.3 568.69 L448.8 568.71 L449.3 568.70 L449.8 568.70 L450.3 568.68 L450.8 568.70 L451.3 568.74 L451.8 568.74 L452.3 568.75 L452.8 568.73 L453.3 568.70 L453.8 568.67 L454.3 568.68 L454.8 568.71 L455.3 568.72 L455.8 568.73 L456.3 568.75 L456.8 568.74 L457.3 568.73 L457.8 568.71 L458.3 568.73 L458.8 568.74 L459.3 568.74 L459.8 568.75 L460.3 568.78 L460.8 568.73 L461.3 568.71 L461.8 568.70 L462.3 568.72 L462.8 568.70 L463.3 568.69 L463.8 568.71 L464.3 568.69 L464.8 568.70 L465.3 568.67 L465.8 568.67 L466.3 568.68 L466.8 568.71 L467.3 568.71 L467.8 568.72 L468.3 568.73 L468.8 568.73 L469.3 568.73 L469.8 568.71 L470.3 568.68 L470.8 568.71 L471.3 568.73 L471.8 568.74 L472.3 568.75 L472.8 568.73 L473.3 568.70 L473.8 568.70 L474.3 568.70 L474.8 568.71 L475.3 568.74 L475.8 568.72 L476.3 568.71 L476.8 568.72 L477.3 568.75 L477.8 568.75 L478.3 568.75 L478.8 568.77 L479.3 568.79 L479.8 568.75 L480.3 568.77 L480.8 568.74 L481.3 568.73 L481.8 568.73 L482.3 568.76 L482.8 568.73 L483.3 568.70 L483.8 568.73 L484.3 568.72 L484.8 568.72 L485.3 568.71 L485.8 568.69 L486.3 568.66 L486.8 568.67 L487.3 568.65 L487.8 568.65 L488.3 568.70 L488.8 568.73 L489.3 568.71 L489.8 568.70 L490.3 568.67 L490.8 568.68 L491.3 568.66 L491.8 568.64 L492.3 568.67 L492.8 568.68 L493.3 568.71 L493.8 568.69 L494.3 568.67 L494.8 568.68 L495.3 568.69 L495.8 568.67 L496.3 568.67 L496.8 568.68 L497.3 568.68 L497.8 568.67 L498.3 568.67 L498.8 568.64 L499.3 568.62 L499.8 568.60 L500.3 568.63 L500.8 568.62 L501.3 568.64 L501.8 568.62 L502.3 568.66 L502.8 568.63 L503.3 568.66 L503.8 568.67 L504.3 568.70 L504.8 568.73 L505.3 568.69 L505.8 568.66 L506.3 568.64 L506.8 568.62 L507.3 568.65 L507.8 568.63 L508.3 568.65 L508.8 568.69 L509.3 568.70 L509.8 568.74 L510.3 568.74 L510.8 568.73 L511.3 568.76 L511.8 568.73 L512.3 568.73 L512.8 568.72 L513.3 568.72 L513.8 568.70 L514.3 568.74 L514.8 568.77 L515.3 568.77 L515.8 568.76 L516.3 568.79 L516.8 568.81 L517.3 568.76 L517.8 568.78 L518.3 568.74 L518.8 568.71 L519.3 568.69 L519.8 568.68 L520.3 568.68 L520.8 568.71 L521.3 568.69 L521.8 568.70 L522.3 568.70 L522.8 568.67 L523.3 568.71 L523.8 568.74 L524.3 568.72 L524.8 568.74 L525.3 568.73 L525.8 568.74 L526.3 568.77 L526.8 568.77 L527.3 568.75 L527.8 568.71 L528.3 568.71 L528.8 568.71 L529.3 568.69 L529.8 568.70 L530.3 568.66 L530.8 568.65 L531.3 568.65 L531.8 568.66 L532.3 568.68 L532.8 568.66 L533.3 568.65 L533.8 568.67 L534.3 568.66 L534.8 568.64 L535.3 568.65 L535.8 568.65 L536.3 568.66 L536.8 568.70 L537.3 568.73 L537.8 568.75 L538.3 568.77 L538.8 568.78 L539.3 568.76 L539.8 568.79 L540.3 568.75 L540.8 568.72 L541.3 568.72 L541.8 568.69 L542.3 568.69 L542.8 568.70 L543.3 568.68 L543.8 568.70 L544.3 568.66 L544.8 568.67 L545.3 568.65 L545.8 568.69 L546.3 568.66 L546.8 568.66 L547.3 568.68 L547.8 568.67 L548.3 568.69 L548.8 568.66 L549.3 568.64 L549.8 568.61 L550.3 568.62 L550.8 568.63 L551.3 568.64 L551.8 568.64 L552.3 568.67 L552.8 568.66 L553.3 568.63 L553.8 568.62 L554.3 568.65 L554.8 568.68 L555.3 568.65 L555.8 568.62 L556.3 568.66 L556.8 568.70 L557.3 568.68 L557.8 568.69 L558.3 568.65 L558.8 568.66 L559.3 568.64 L559.8 568.66 L560.3 568.64 L560.8 568.65 L561.3 568.64 L561.8 568.64 L562.3 568.68 L562.8 568.68 L563.3 568.72 L563.8 568.73 L564.3 568.70 L564.8 568.68 L565.3 568.71 L565.8 568.72 L566.3 568.69 L566.8 568.71 L567.3 568.69 L567.8 568.70 L568.3 568.72 L568.8 568.75 L569.3 568.72 L569.8 568.69 L570.3 568.67 L570.8 568.68 L571.3 568.71 L571.8 568.72 L572.3 568.73 L572.8 568.75 L573.3 568.74 L573.8 568.72 L574.3 568.74 L574.8 568.74 L575.3 568.76 L575.8 568.78 L576.3 568.77 L576.8 568.74 L577.3 568.71 L577.8 568.71 L578.3 568.69 L578.8 568.67 L579.3 568.67 L579.8 568.69 L580.3 568.70 L580.8 568.69 L581.3 568.69 L581.8 568.70 L582.3 568.72 L582.8 568.73 L583.3 568.74 L583.8 568.71 L584.3 568.73 L584.8 568.68 L585.3 568.69 L585.8 568.65 L586.3 568.65 L586.8 568.63 L587.3 568.59 L587.8 568.61 L588.3 568.57 L588.8 568.58 L589.3 568.54 L589.8 568.51 L590.3 568.49 L590.8 568.48 L591.3 568.48 L591.8 568.44 L592.3 568.44 L592.8 568.38 L593.3 568.32 L593.8 568.28 L594.3 568.24 L594.8 568.20 L595.3 568.17 L595.8 568.10 L596.3 568.03 L596.8 567.97 L597.3 567.85 L597.8 567.75 L598.3 567.64 L598.8 567.55 L599.3 567.43 L599.8 567.29 L600.3 567.14 L600.8 567.00 L601.3 566.84 L601.8 566.73 L602.3 566.62 L602.8 566.50 L603.3 566.33 L603.8 566.20 L604.3 566.03 L604.8 565.88 L605.3 565.74 L605.8 565.64 L606.3 565.54 L606.8 565.45 L607.3 565.34 L607.8 565.28 L608.3 565.24 L608.8 565.23 L609.3 565.20 L609.8 565.19 L610.3 565.23 L610.8 565.23 L611.3 565.28 L611.8 565.32 L612.3 565.42 L612.8 565.53 L613.3 565.60 L613.8 565.68 L614.3 565.84 L614.8 565.96 L615.3 566.11 L615.8 566.26 L616.3 566.39 L616.8 566.51 L617.3 566.67 L617.8 566.81 L618.3 566.94 L618.8 567.10 L619.3 567.27 L619.8 567.37 L620.3 567.48 L620.8 567.61 L621.3 567.71 L621.8 567.84 L622.3 567.92 L622.8 567.97 L623.3 568.03 L623.8 568.14 L624.3 568.20 L624.8 568.30 L625.3 568.37 L625.8 568.42 L626.3 568.43 L626.8 568.46 L627.3 568.45 L627.8 568.47 L628.3 568.48 L628.8 568.53 L629.3 568.53 L629.8 568.54 L630.3 568.52 L630.8 568.51 L631.3 568.55 L631.8 568.56 L632.3 568.57 L632.8 568.61 L633.3 568.63 L633.8 568.62 L634.3 568.64 L634.8 568.66 L635.3 568.67 L635.8 568.67 L636.3 568.70 L636.8 568.70 L637.3 568.67 L637.8 568.69 L638.3 568.70 L638.8 568.68 L639.3 568.70 L639.8 568.73 L640.3 568.74 L640.8 568.73 L641.3 568.75 L641.8 568.71 L642.3 568.67 L642.8 568.67 L643.3 568.67 L643.8 568.68 L644.3 568.69 L644.8 568.69 L645.3 568.68 L645.8 568.70 L646.3 568.70 L646.8 568.68 L647.3 568.68 L647.8 568.68 L648.3 568.70 L648.8 568.71 L649.3 568.75 L649.8 568.76 L650.3 568.75 L650.8 568.75 L651.3 568.73 L651.8 568.73 L652.3 568.76 L652.8 568.72 L653.3 568.71 L653.8 568.71 L654.3 568.72 L654.8 568.69 L655.3 568.71 L655.8 568.68 L656.3 568.71 L656.8 568.68 L657.3 568.69 L657.8 568.71 L658.3 568.71 L658.8 568.69 L659.3 568.68 L659.8 568.71 L660.3 568.70 L660.8 568.71 L661.3 568.74 L661.8 568.73 L662.3 568.75 L662.8 568.75 L663.3 568.77 L663.8 568.77 L664.3 568.73 L664.8 568.71 L665.3 568.69 L665.8 568.67 L666.3 568.68 L666.8 568.67 L667.3 568.67 L667.8 568.63 L668.3 568.68 L668.8 568.68 L669.3 568.66 L669.8 568.67 L670.3 568.65" fill="none" stroke="#6e0c22" stroke-width="2.0" stroke-linejoin="round" stroke-linecap="butt"/>
<path d="M5.8 665.07 L6.3 664.99 L6.8 665.03 L7.3 664.97 L7.8 665.05 L8.3 664.97 L8.8 665.03 L9.3 665.06 L9.8 665.10 L10.3 665.16 L10.8 665.11 L11.3 665.07 L11.8 665.10 L12.3 665.06 L12.8 665.02 L13.3 664.98 L13.8 665.03 L14.3 665.09 L14.8 665.12 L15.3 665.07 L15.8 665.13 L16.3 665.11 L16.8 665.07 L17.3 665.05 L17.8 665.04 L18.3 664.98 L18.8 664.99 L19.3 664.98 L19.8 664.99 L20.3 665.06 L20.8 665.08 L21.3 665.06 L21.8 665.11 L22.3 665.17 L22.8 665.15 L23.3 665.20 L23.8 665.11 L24.3 665.05 L24.8 665.00 L25.3 665.07 L25.8 665.09 L26.3 665.12 L26.8 665.08 L27.3 665.07 L27.8 665.13 L28.3 665.06 L28.8 665.00 L29.3 664.94 L29.8 664.95 L30.3 665.01 L30.8 665.02 L31.3 665.01 L31.8 665.02 L32.3 664.97 L32.8 665.05 L33.3 665.03 L33.8 664.99 L34.3 664.97 L34.8 665.03 L35.3 665.01 L35.8 665.07 L36.3 665.04 L36.8 665.04 L37.3 664.98 L37.8 665.05 L38.3 665.09 L38.8 665.08 L39.3 665.03 L39.8 665.03 L40.3 665.02 L40.8 665.07 L41.3 665.13 L41.8 665.16 L42.3 665.12 L42.8 665.04 L43.3 665.10 L43.8 665.16 L44.3 665.10 L44.8 665.10 L45.3 665.09 L45.8 665.16 L46.3 665.08 L46.8 665.02 L47.3 665.08 L47.8 665.09 L48.3 665.08 L48.8 665.12 L49.3 665.13 L49.8 665.15 L50.3 665.11 L50.8 665.04 L51.3 664.98 L51.8 664.97 L52.3 665.00 L52.8 664.99 L53.3 664.98 L53.8 665.01 L54.3 665.05 L54.8 665.07 L55.3 665.04 L55.8 665.10 L56.3 665.14 L56.8 665.19 L57.3 665.23 L57.8 665.15 L58.3 665.16 L58.8 665.13 L59.3 665.11 L59.8 665.11 L60.3 665.06 L60.8 665.03 L61.3 665.11 L61.8 665.08 L62.3 665.14 L62.8 665.16 L63.3 665.13 L63.8 665.10 L64.3 665.12 L64.8 665.14 L65.3 665.12 L65.8 665.05 L66.3 665.01 L66.8 665.07 L67.3 665.11 L67.8 665.05 L68.3 665.11 L68.8 665.12 L69.3 665.10 L69.8 665.15 L70.3 665.10 L70.8 665.04 L71.3 665.03 L71.8 665.07 L72.3 665.04 L72.8 664.98 L73.3 664.96 L73.8 664.83 L74.3 664.76 L74.8 664.55 L75.3 664.46 L75.8 664.26 L76.3 664.13 L76.8 664.01 L77.3 663.84 L77.8 663.64 L78.3 663.40 L78.8 663.17 L79.3 662.86 L79.8 662.49 L80.3 662.15 L80.8 661.74 L81.3 661.18 L81.8 660.60 L82.3 659.92 L82.8 659.11 L83.3 658.28 L83.8 657.22 L84.3 655.78 L84.8 654.12 L85.3 651.81 L85.8 648.61 L86.3 645.59 L86.8 643.22 L87.3 641.09 L87.8 638.99 L88.3 636.73 L88.8 633.96 L89.3 631.03 L89.8 627.85 L90.3 624.53 L90.8 620.78 L91.3 616.43 L91.8 610.89 L92.3 606.64 L92.8 603.47 L93.3 600.70 L93.8 597.98 L94.3 595.29 L94.8 592.60 L95.3 590.01 L95.8 587.46 L96.3 584.68 L96.8 582.88 L97.3 582.07 L97.8 582.12 L98.3 582.53 L98.8 583.11 L99.3 583.62 L99.8 584.15 L100.3 584.76 L100.8 585.55 L101.3 586.61 L101.8 588.58 L102.3 591.67 L102.8 595.48 L103.3 600.69 L103.8 605.70 L104.3 610.38 L104.8 614.64 L105.3 618.48 L105.8 622.09 L106.3 625.22 L106.8 627.96 L107.3 630.39 L107.8 632.86 L108.3 635.77 L108.8 638.92 L109.3 642.10 L109.8 645.30 L110.3 648.50 L110.8 651.02 L111.3 652.98 L111.8 654.61 L112.3 656.02 L112.8 657.18 L113.3 658.08 L113.8 659.01 L114.3 659.78 L114.8 660.47 L115.3 661.14 L115.8 661.66 L116.3 662.09 L116.8 662.42 L117.3 662.72 L117.8 663.07 L118.3 663.35 L118.8 663.61 L119.3 663.84 L119.8 664.03 L120.3 664.14 L120.8 664.32 L121.3 664.42 L121.8 664.48 L122.3 664.63 L122.8 664.76 L123.3 664.77 L123.8 664.88 L124.3 664.95 L124.8 664.95 L125.3 665.00 L125.8 665.10 L126.3 665.08 L126.8 665.14 L127.3 665.13 L127.8 665.11 L128.3 665.20 L128.8 665.29 L129.3 665.31 L129.8 665.35 L130.3 665.32 L130.8 665.30 L131.3 665.30 L131.8 665.34 L132.3 665.35 L132.8 665.33 L133.3 665.34 L133.8 665.31 L134.3 665.34 L134.8 665.38 L135.3 665.40 L135.8 665.35 L136.3 665.32 L136.8 665.38 L137.3 665.34 L137.8 665.35 L138.3 665.28 L138.8 665.22 L139.3 665.18 L139.8 665.21 L140.3 665.17 L140.8 665.20 L141.3 665.14 L141.8 665.18 L142.3 665.22 L142.8 665.18 L143.3 665.15 L143.8 665.13 L144.3 665.11 L144.8 665.07 L145.3 665.04 L145.8 665.09 L146.3 665.15 L146.8 665.09 L147.3 665.08 L147.8 665.09 L148.3 665.14 L148.8 665.11 L149.3 665.09 L149.8 665.09 L150.3 665.09 L150.8 665.06 L151.3 664.99 L151.8 664.93 L152.3 664.75 L152.8 664.67 L153.3 664.51 L153.8 664.37 L154.3 664.23 L154.8 664.12 L155.3 664.01 L155.8 663.89 L156.3 663.72 L156.8 663.55 L157.3 663.41 L157.8 663.29 L158.3 663.07 L158.8 662.77 L159.3 662.55 L159.8 662.27 L160.3 661.92 L160.8 661.48 L161.3 660.96 L161.8 660.35 L162.3 659.82 L162.8 659.17 L163.3 658.35 L163.8 657.49 L164.3 656.45 L164.8 655.35 L165.3 654.21 L165.8 653.00 L166.3 651.52 L166.8 649.64 L167.3 647.06 L167.8 643.26 L168.3 637.97 L168.8 629.02 L169.3 622.37 L169.8 618.03 L170.3 615.45 L170.8 614.19 L171.3 613.20 L171.8 612.07 L172.3 609.97 L172.8 606.62 L173.3 601.93 L173.8 594.64 L174.3 587.35 L174.8 580.37 L175.3 575.01 L175.8 574.55 L176.3 576.28 L176.8 578.26 L177.3 580.64 L177.8 581.51 L178.3 580.63 L178.8 579.21 L179.3 577.91 L179.8 577.21 L180.3 577.74 L180.8 579.18 L181.3 581.54 L181.8 590.13 L182.3 598.47 L182.8 605.03 L183.3 610.24 L183.8 614.04 L184.3 616.12 L184.8 617.40 L185.3 619.42 L185.8 623.42 L186.3 628.38 L186.8 633.70 L187.3 639.33 L187.8 643.80 L188.3 647.32 L188.8 650.42 L189.3 652.91 L189.8 654.68 L190.3 656.18 L190.8 657.39 L191.3 658.41 L191.8 659.25 L192.3 660.01 L192.8 660.65 L193.3 661.23 L193.8 661.48 L194.3 660.94 L194.8 660.10 L195.3 658.93 L195.8 658.79 L196.3 660.38 L196.8 661.34 L197.3 661.97 L197.8 662.52 L198.3 662.99 L198.8 663.30 L199.3 663.67 L199.8 664.00 L200.3 664.30 L200.8 664.57 L201.3 664.74 L201.8 664.79 L202.3 664.80 L202.8 664.84 L203.3 664.85 L203.8 664.96 L204.3 664.98 L204.8 665.03 L205.3 665.09 L205.8 665.11 L206.3 665.21 L206.8 665.25 L207.3 665.27 L207.8 665.23 L208.3 665.21 L208.8 665.26 L209.3 665.27 L209.8 665.29 L210.3 665.36 L210.8 665.38 L211.3 665.43 L211.8 665.40 L212.3 665.36 L212.8 665.33 L213.3 665.39 L213.8 665.35 L214.3 665.29 L214.8 665.24 L215.3 665.32 L215.8 665.29 L216.3 665.23 L216.8 665.23 L217.3 665.18 L217.8 665.23 L218.3 665.27 L218.8 665.27 L219.3 665.31 L219.8 665.25 L220.3 665.31 L220.8 665.33 L221.3 665.37 L221.8 665.32 L222.3 665.39 L222.8 665.46 L223.3 665.44 L223.8 665.41 L224.3 665.41 L224.8 665.43 L225.3 665.42 L225.8 665.42 L226.3 665.48 L226.8 665.49 L227.3 665.46 L227.8 665.51 L228.3 665.54 L228.8 665.45 L229.3 665.44 L229.8 665.40 L230.3 665.37 L230.8 665.35 L231.3 665.40 L231.8 665.42 L232.3 665.38 L232.8 665.31 L233.3 665.27 L233.8 665.27 L234.3 665.29 L234.8 665.30 L235.3 665.30 L235.8 665.31 L236.3 665.29 L236.8 665.37 L237.3 665.33 L237.8 665.32 L238.3 665.35 L238.8 665.40 L239.3 665.39 L239.8 665.41 L240.3 665.37 L240.8 665.30 L241.3 665.38 L241.8 665.32 L242.3 665.37 L242.8 665.30 L243.3 665.29 L243.8 665.30 L244.3 665.37 L244.8 665.42 L245.3 665.39 L245.8 665.32 L246.3 665.36 L246.8 665.40 L247.3 665.47 L247.8 665.41 L248.3 665.43 L248.8 665.44 L249.3 665.49 L249.8 665.53 L250.3 665.56 L250.8 665.59 L251.3 665.51 L251.8 665.57 L252.3 665.56 L252.8 665.60 L253.3 665.53 L253.8 665.52 L254.3 665.56 L254.8 665.61 L255.3 665.60 L255.8 665.64 L256.3 665.54 L256.8 665.47 L257.3 665.43 L257.8 665.48 L258.3 665.50 L258.8 665.48 L259.3 665.54 L259.8 665.52 L260.3 665.46 L260.8 665.52 L261.3 665.54 L261.8 665.60 L262.3 665.62 L262.8 665.60 L263.3 665.63 L263.8 665.56 L264.3 665.47 L264.8 665.43 L265.3 665.50 L265.8 665.43 L266.3 665.47 L266.8 665.47 L267.3 665.41 L267.8 665.37 L268.3 665.41 L268.8 665.40 L269.3 665.46 L269.8 665.39 L270.3 665.41 L270.8 665.46 L271.3 665.42 L271.8 665.39 L272.3 665.41 L272.8 665.36 L273.3 665.40 L273.8 665.46 L274.3 665.43 L274.8 665.39 L275.3 665.45 L275.8 665.38 L276.3 665.44 L276.8 665.43 L277.3 665.48 L277.8 665.45 L278.3 665.52 L278.8 665.53 L279.3 665.54 L279.8 665.46 L280.3 665.47 L280.8 665.43 L281.3 665.47 L281.8 665.44 L282.3 665.40 L282.8 665.36 L283.3 665.33 L283.8 665.29 L284.3 665.28 L284.8 665.31 L285.3 665.37 L285.8 665.42 L286.3 665.41 L286.8 665.47 L287.3 665.45 L287.8 665.44 L288.3 665.45 L288.8 665.46 L289.3 665.46 L289.8 665.48 L290.3 665.44 L290.8 665.40 L291.3 665.38 L291.8 665.38 L292.3 665.35 L292.8 665.37 L293.3 665.32 L293.8 665.32 L294.3 665.32 L294.8 665.35 L295.3 665.31 L295.8 665.34 L296.3 665.34 L296.8 665.40 L297.3 665.34 L297.8 665.33 L298.3 665.36 L298.8 665.42 L299.3 665.44 L299.8 665.47 L300.3 665.42 L300.8 665.35 L301.3 665.28 L301.8 665.27 L302.3 665.26 L302.8 665.21 L303.3 665.12 L303.8 665.13 L304.3 665.06 L304.8 664.97 L305.3 664.97 L305.8 664.95 L306.3 664.91 L306.8 664.88 L307.3 664.83 L307.8 664.77 L308.3 664.67 L308.8 664.55 L309.3 664.54 L309.8 664.41 L310.3 664.39 L310.8 664.30 L311.3 664.28 L311.8 664.28 L312.3 664.26 L312.8 664.14 L313.3 664.16 L313.8 664.08 L314.3 664.03 L314.8 664.09 L315.3 664.13 L315.8 664.08 L316.3 664.14 L316.8 664.12 L317.3 664.17 L317.8 664.25 L318.3 664.22 L318.8 664.22 L319.3 664.23 L319.8 664.24 L320.3 664.38 L320.8 664.38 L321.3 664.43 L321.8 664.56 L322.3 664.57 L322.8 664.64 L323.3 664.76 L323.8 664.89 L324.3 665.00 L324.8 664.98 L325.3 664.97 L325.8 665.06 L326.3 665.11 L326.8 665.15 L327.3 665.22 L327.8 665.30 L328.3 665.30 L328.8 665.39 L329.3 665.38 L329.8 665.46 L330.3 665.41 L330.8 665.36 L331.3 665.39 L331.8 665.45 L332.3 665.48 L332.8 665.43 L333.3 665.50 L333.8 665.57 L334.3 665.63 L334.8 665.65 L335.3 665.56 L335.8 665.55 L336.3 665.51 L336.8 665.47 L337.3 665.48 L337.8 665.54 L338.3 665.56 L338.8 665.63 L339.3 665.60 L339.8 665.53 L340.3 665.58 L340.8 665.63 L341.3 665.62 L341.8 665.57 L342.3 665.59 L342.8 665.55 L343.3 665.54 L343.8 665.55 L344.3 665.59 L344.8 665.62 L345.3 665.55 L345.8 665.54 L346.3 665.54 L346.8 665.52 L347.3 665.46 L347.8 665.44 L348.3 665.44 L348.8 665.48 L349.3 665.56 L349.8 665.52 L350.3 665.53 L350.8 665.50 L351.3 665.45 L351.8 665.43 L352.3 665.44 L352.8 665.51 L353.3 665.49 L353.8 665.56 L354.3 665.60 L354.8 665.59 L355.3 665.64 L355.8 665.60 L356.3 665.53 L356.8 665.53 L357.3 665.55 L357.8 665.58 L358.3 665.51 L358.8 665.45 L359.3 665.49 L359.8 665.57 L360.3 665.57 L360.8 665.61 L361.3 665.56 L361.8 665.51 L362.3 665.52 L362.8 665.59 L363.3 665.54 L363.8 665.55 L364.3 665.58 L364.8 665.51 L365.3 665.57 L365.8 665.53 L366.3 665.58 L366.8 665.60 L367.3 665.54 L367.8 665.50 L368.3 665.50 L368.8 665.45 L369.3 665.50 L369.8 665.51 L370.3 665.46 L370.8 665.44 L371.3 665.49 L371.8 665.49 L372.3 665.51 L372.8 665.48 L373.3 665.46 L373.8 665.44 L374.3 665.45 L374.8 665.42 L375.3 665.38 L375.8 665.47 L376.3 665.56 L376.8 665.50 L377.3 665.57 L377.8 665.54 L378.3 665.56 L378.8 665.57 L379.3 665.51 L379.8 665.50 L380.3 665.51 L380.8 665.53 L381.3 665.55 L381.8 665.54 L382.3 665.55 L382.8 665.50 L383.3 665.55 L383.8 665.57 L384.3 665.53 L384.8 665.54 L385.3 665.55 L385.8 665.56 L386.3 665.53 L386.8 665.54 L387.3 665.56 L387.8 665.64 L388.3 665.69 L388.8 665.72 L389.3 665.69 L389.8 665.69 L390.3 665.66 L390.8 665.67 L391.3 665.71 L391.8 665.74 L392.3 665.79 L392.8 665.81 L393.3 665.83 L393.8 665.81 L394.3 665.75 L394.8 665.72 L395.3 665.71 L395.8 665.70 L396.3 665.70 L396.8 665.62 L397.3 665.69 L397.8 665.67 L398.3 665.64 L398.8 665.70 L399.3 665.67 L399.8 665.71 L400.3 665.65 L400.8 665.65 L401.3 665.59 L401.8 665.60 L402.3 665.65 L402.8 665.62 L403.3 665.64 L403.8 665.68 L404.3 665.66 L404.8 665.62 L405.3 665.65 L405.8 665.71 L406.3 665.77 L406.8 665.83 L407.3 665.86 L407.8 665.82 L408.3 665.84 L408.8 665.86 L409.3 665.83 L409.8 665.87 L410.3 665.79 L410.8 665.81 L411.3 665.82 L411.8 665.77 L412.3 665.70 L412.8 665.73 L413.3 665.66 L413.8 665.64 L414.3 665.70 L414.8 665.73 L415.3 665.71 L415.8 665.70 L416.3 665.67 L416.8 665.70 L417.3 665.71 L417.8 665.72 L418.3 665.68 L418.8 665.74 L419.3 665.70 L419.8 665.73 L420.3 665.79 L420.8 665.84 L421.3 665.76 L421.8 665.75 L422.3 665.78 L422.8 665.76 L423.3 665.72 L423.8 665.68 L424.3 665.66 L424.8 665.69 L425.3 665.69 L425.8 665.74 L426.3 665.71 L426.8 665.73 L427.3 665.79 L427.8 665.76 L428.3 665.74 L428.8 665.71 L429.3 665.65 L429.8 665.61 L430.3 665.66 L430.8 665.64 L431.3 665.61 L431.8 665.67 L432.3 665.61 L432.8 665.59 L433.3 665.56 L433.8 665.56 L434.3 665.53 L434.8 665.58 L435.3 665.56 L435.8 665.61 L436.3 665.57 L436.8 665.64 L437.3 665.59 L437.8 665.65 L438.3 665.61 L438.8 665.61 L439.3 665.64 L439.8 665.59 L440.3 665.61 L440.8 665.64 L441.3 665.64 L441.8 665.69 L442.3 665.70 L442.8 665.64 L443.3 665.68 L443.8 665.76 L444.3 665.70 L444.8 665.66 L445.3 665.68 L445.8 665.71 L446.3 665.70 L446.8 665.66 L447.3 665.67 L447.8 665.65 L448.3 665.67 L448.8 665.74 L449.3 665.73 L449.8 665.80 L450.3 665.86 L450.8 665.80 L451.3 665.79 L451.8 665.73 L452.3 665.68 L452.8 665.70 L453.3 665.64 L453.8 665.69 L454.3 665.73 L454.8 665.80 L455.3 665.83 L455.8 665.87 L456.3 665.83 L456.8 665.89 L457.3 665.83 L457.8 665.88 L458.3 665.93 L458.8 665.94 L459.3 665.96 L459.8 665.90 L460.3 665.92 L460.8 665.86 L461.3 665.81 L461.8 665.74 L462.3 665.79 L462.8 665.82 L463.3 665.81 L463.8 665.74 L464.3 665.69 L464.8 665.74 L465.3 665.77 L465.8 665.74 L466.3 665.80 L466.8 665.80 L467.3 665.73 L467.8 665.81 L468.3 665.78 L468.8 665.77 L469.3 665.83 L469.8 665.88 L470.3 665.84 L470.8 665.89 L471.3 665.84 L471.8 665.76 L472.3 665.70 L472.8 665.66 L473.3 665.69 L473.8 665.67 L474.3 665.73 L474.8 665.72 L475.3 665.66 L475.8 665.68 L476.3 665.63 L476.8 665.58 L477.3 665.67 L477.8 665.62 L478.3 665.59 L478.8 665.58 L479.3 665.55 L479.8 665.57 L480.3 665.62 L480.8 665.62 L481.3 665.65 L481.8 665.60 L482.3 665.58 L482.8 665.57 L483.3 665.61 L483.8 665.67 L484.3 665.75 L484.8 665.75 L485.3 665.71 L485.8 665.70 L486.3 665.70 L486.8 665.77 L487.3 665.80 L487.8 665.80 L488.3 665.79 L488.8 665.83 L489.3 665.86 L489.8 665.91 L490.3 665.90 L490.8 665.92 L491.3 665.98 L491.8 666.02 L492.3 665.94 L492.8 665.99 L493.3 665.98 L493.8 666.02 L494.3 666.05 L494.8 666.07 L495.3 666.08 L495.8 666.09 L496.3 666.12 L496.8 666.10 L497.3 666.03 L497.8 666.02 L498.3 666.01 L498.8 666.04 L499.3 666.03 L499.8 665.99 L500.3 666.01 L500.8 665.98 L501.3 665.92 L501.8 665.98 L502.3 665.98 L502.8 665.98 L503.3 666.00 L503.8 665.99 L504.3 665.97 L504.8 665.89 L505.3 665.90 L505.8 665.86 L506.3 665.87 L506.8 665.92 L507.3 665.94 L507.8 665.96 L508.3 665.89 L508.8 665.91 L509.3 665.96 L509.8 665.95 L510.3 665.96 L510.8 665.91 L511.3 665.93 L511.8 665.89 L512.3 665.89 L512.8 665.92 L513.3 665.91 L513.8 665.92 L514.3 665.87 L514.8 665.88 L515.3 665.89 L515.8 665.91 L516.3 665.86 L516.8 665.87 L517.3 665.87 L517.8 665.87 L518.3 665.82 L518.8 665.88 L519.3 665.89 L519.8 665.86 L520.3 665.93 L520.8 665.93 L521.3 665.90 L521.8 665.88 L522.3 665.85 L522.8 665.75 L523.3 665.31 L523.8 664.61 L524.3 664.67 L524.8 665.38 L525.3 665.68 L525.8 665.72 L526.3 665.72 L526.8 665.81 L527.3 665.87 L527.8 665.84 L528.3 665.87 L528.8 665.94 L529.3 665.98 L529.8 665.96 L530.3 666.00 L530.8 665.94 L531.3 665.97 L531.8 665.92 L532.3 665.95 L532.8 665.91 L533.3 665.96 L533.8 665.90 L534.3 665.87 L534.8 665.83 L535.3 665.83 L535.8 665.78 L536.3 665.74 L536.8 665.72 L537.3 665.67 L537.8 665.73 L538.3 665.80 L538.8 665.87 L539.3 665.87 L539.8 665.85 L540.3 665.87 L540.8 665.85 L541.3 665.78 L541.8 665.78 L542.3 665.83 L542.8 665.81 L543.3 665.78 L543.8 665.77 L544.3 665.83 L544.8 665.82 L545.3 665.80 L545.8 665.78 L546.3 665.74 L546.8 665.81 L547.3 665.89 L547.8 665.93 L548.3 665.94 L548.8 665.91 L549.3 665.92 L549.8 665.93 L550.3 665.89 L550.8 665.92 L551.3 665.97 L551.8 665.99 L552.3 665.95 L552.8 666.01 L553.3 666.06 L553.8 666.06 L554.3 666.01 L554.8 665.96 L555.3 666.01 L555.8 665.97 L556.3 665.90 L556.8 665.87 L557.3 665.92 L557.8 665.97 L558.3 666.02 L558.8 666.06 L559.3 666.08 L559.8 666.07 L560.3 666.10 L560.8 666.09 L561.3 666.13 L561.8 666.08 L562.3 665.99 L562.8 666.02 L563.3 666.01 L563.8 666.06 L564.3 666.04 L564.8 666.04 L565.3 665.97 L565.8 665.96 L566.3 665.91 L566.8 665.84 L567.3 665.79 L567.8 665.84 L568.3 665.90 L568.8 665.84 L569.3 665.90 L569.8 665.91 L570.3 665.90 L570.8 665.84 L571.3 665.92 L571.8 665.94 L572.3 665.89 L572.8 665.90 L573.3 665.88 L573.8 665.86 L574.3 665.81 L574.8 665.89 L575.3 665.89 L575.8 665.84 L576.3 665.81 L576.8 665.80 L577.3 665.89 L577.8 665.91 L578.3 665.90 L578.8 665.95 L579.3 665.88 L579.8 665.91 L580.3 665.85 L580.8 665.86 L581.3 665.89 L581.8 665.93 L582.3 665.95 L582.8 665.93 L583.3 666.00 L583.8 666.03 L584.3 665.95 L584.8 665.87 L585.3 665.82 L585.8 665.81 L586.3 665.77 L586.8 665.75 L587.3 665.69 L587.8 665.67 L588.3 665.64 L588.8 665.61 L589.3 665.68 L589.8 665.71 L590.3 665.75 L590.8 665.72 L591.3 665.65 L591.8 665.58 L592.3 665.58 L592.8 665.52 L593.3 665.44 L593.8 665.39 L594.3 665.34 L594.8 665.28 L595.3 665.23 L595.8 665.23 L596.3 665.20 L596.8 665.11 L597.3 665.05 L597.8 665.05 L598.3 665.05 L598.8 664.96 L599.3 664.85 L599.8 664.74 L600.3 664.67 L600.8 664.67 L601.3 664.56 L601.8 664.52 L602.3 664.51 L602.8 664.41 L603.3 664.41 L603.8 664.33 L604.3 664.29 L604.8 664.29 L605.3 664.28 L605.8 664.27 L606.3 664.26 L606.8 664.29 L607.3 664.40 L607.8 664.51 L608.3 664.54 L608.8 664.54 L609.3 664.64 L609.8 664.71 L610.3 664.82 L610.8 664.89 L611.3 664.93 L611.8 664.95 L612.3 665.02 L612.8 665.04 L613.3 665.08 L613.8 665.13 L614.3 665.21 L614.8 665.28 L615.3 665.34 L615.8 665.35 L616.3 665.37 L616.8 665.38 L617.3 665.42 L617.8 665.47 L618.3 665.53 L618.8 665.62 L619.3 665.59 L619.8 665.61 L620.3 665.73 L620.8 665.78 L621.3 665.77 L621.8 665.86 L622.3 665.92 L622.8 665.95 L623.3 666.03 L623.8 666.01 L624.3 666.01 L624.8 665.98 L625.3 666.03 L625.8 665.98 L626.3 666.01 L626.8 666.05 L627.3 666.12 L627.8 666.12 L628.3 666.09 L628.8 666.04 L629.3 666.02 L629.8 665.97 L630.3 666.04 L630.8 665.99 L631.3 666.05 L631.8 666.03 L632.3 665.97 L632.8 666.04 L633.3 666.10 L633.8 666.04 L634.3 666.10 L634.8 666.05 L635.3 666.05 L635.8 666.04 L636.3 665.99 L636.8 665.95 L637.3 666.01 L637.8 666.03 L638.3 666.03 L638.8 665.98 L639.3 666.02 L639.8 666.02 L640.3 666.04 L640.8 666.07 L641.3 666.14 L641.8 666.15 L642.3 666.15 L642.8 666.11 L643.3 666.06 L643.8 666.12 L644.3 666.09 L644.8 666.14 L645.3 666.17 L645.8 666.10 L646.3 666.14 L646.8 666.09 L647.3 666.07 L647.8 666.02 L648.3 666.01 L648.8 666.05 L649.3 666.04 L649.8 666.09 L650.3 666.13 L650.8 666.09 L651.3 666.12 L651.8 666.11 L652.3 666.17 L652.8 666.20 L653.3 666.13 L653.8 666.15 L654.3 666.07 L654.8 666.10 L655.3 666.04 L655.8 665.99 L656.3 666.06 L656.8 666.07 L657.3 666.12 L657.8 666.05 L658.3 666.05 L658.8 665.99 L659.3 666.04 L659.8 666.03 L660.3 666.01 L660.8 666.01 L661.3 665.96 L661.8 665.98 L662.3 666.03 L662.8 666.08 L663.3 666.10 L663.8 666.08 L664.3 666.14 L664.8 666.20 L665.3 666.22 L665.8 666.26 L666.3 666.20 L666.8 666.23 L667.3 666.23 L667.8 666.15 L668.3 666.13 L668.8 666.15 L669.3 666.22 L669.8 666.26 L670.3 666.32" fill="none" stroke="#5d16d8" stroke-width="2.0" stroke-linejoin="round" stroke-linecap="butt"/>
<text transform="translate(4.20 30.60)" font-family='"Liberation Sans", sans-serif' font-size="37.5" font-weight="bold" font-style="normal" text-anchor="start" fill="#000" >(a)</text>
<text transform="translate(303.90 26.20)" font-family='"Liberation Sans", sans-serif' font-size="24" font-weight="bold" font-style="normal" text-anchor="start" fill="#000" >B'</text>
<text transform="translate(593.20 26.20)" font-family='"Liberation Sans", sans-serif' font-size="24" font-weight="bold" font-style="normal" text-anchor="start" fill="#000" >A'</text>
<text transform="translate(89.20 696.20)" font-family='"Liberation Sans", sans-serif' font-size="24" font-weight="bold" font-style="normal" text-anchor="start" fill="#000" >B</text>
<text transform="translate(171.00 696.20)" font-family='"Liberation Sans", sans-serif' font-size="24" font-weight="bold" font-style="normal" text-anchor="start" fill="#000" >A</text>
<text transform="translate(653.30 87.00)" font-family='"Liberation Sans", sans-serif' font-size="24.2" font-weight="bold" font-style="normal" text-anchor="start" fill="#000" >pH = 9.18</text>
<text transform="translate(653.30 178.10)" font-family='"Liberation Sans", sans-serif' font-size="24.2" font-weight="bold" font-style="normal" text-anchor="start" fill="#000" >pH = 8.47</text>
<text transform="translate(653.30 269.10)" font-family='"Liberation Sans", sans-serif' font-size="24.2" font-weight="bold" font-style="normal" text-anchor="start" fill="#000" >pH = 8.23</text>
<text transform="translate(653.30 360.00)" font-family='"Liberation Sans", sans-serif' font-size="24.2" font-weight="bold" font-style="normal" text-anchor="start" fill="#000" >pH = 8.05</text>
<text transform="translate(653.30 450.80)" font-family='"Liberation Sans", sans-serif' font-size="24.2" font-weight="bold" font-style="normal" text-anchor="start" fill="#000" >pH = 7.88</text>
<text transform="translate(653.30 541.80)" font-family='"Liberation Sans", sans-serif' font-size="24.2" font-weight="bold" font-style="normal" text-anchor="start" fill="#000" >pH = 7.67</text>
<text transform="translate(653.30 631.90)" font-family='"Liberation Sans", sans-serif' font-size="24.2" font-weight="bold" font-style="normal" text-anchor="start" fill="#000" >pH = 7.22</text>
<line x1="5.8" y1="712.4" x2="670.7" y2="712.4" stroke="#000" stroke-width="1.6"/>
<line x1="23.00" y1="712.4" x2="23.00" y2="719.2" stroke="#000" stroke-width="1.4"/>
<line x1="48.98" y1="712.4" x2="48.98" y2="716.3" stroke="#000" stroke-width="1.2"/>
<line x1="74.97" y1="712.4" x2="74.97" y2="719.2" stroke="#000" stroke-width="1.4"/>
<line x1="100.95" y1="712.4" x2="100.95" y2="716.3" stroke="#000" stroke-width="1.2"/>
<line x1="126.94" y1="712.4" x2="126.94" y2="719.2" stroke="#000" stroke-width="1.4"/>
<line x1="152.93" y1="712.4" x2="152.93" y2="716.3" stroke="#000" stroke-width="1.2"/>
<line x1="178.91" y1="712.4" x2="178.91" y2="719.2" stroke="#000" stroke-width="1.4"/>
<line x1="204.90" y1="712.4" x2="204.90" y2="716.3" stroke="#000" stroke-width="1.2"/>
<line x1="230.88" y1="712.4" x2="230.88" y2="719.2" stroke="#000" stroke-width="1.4"/>
<line x1="256.87" y1="712.4" x2="256.87" y2="716.3" stroke="#000" stroke-width="1.2"/>
<line x1="282.85" y1="712.4" x2="282.85" y2="719.2" stroke="#000" stroke-width="1.4"/>
<line x1="308.83" y1="712.4" x2="308.83" y2="716.3" stroke="#000" stroke-width="1.2"/>
<line x1="334.82" y1="712.4" x2="334.82" y2="719.2" stroke="#000" stroke-width="1.4"/>
<line x1="360.81" y1="712.4" x2="360.81" y2="716.3" stroke="#000" stroke-width="1.2"/>
<line x1="386.79" y1="712.4" x2="386.79" y2="719.2" stroke="#000" stroke-width="1.4"/>
<line x1="412.78" y1="712.4" x2="412.78" y2="716.3" stroke="#000" stroke-width="1.2"/>
<line x1="438.76" y1="712.4" x2="438.76" y2="719.2" stroke="#000" stroke-width="1.4"/>
<line x1="464.75" y1="712.4" x2="464.75" y2="716.3" stroke="#000" stroke-width="1.2"/>
<line x1="490.73" y1="712.4" x2="490.73" y2="719.2" stroke="#000" stroke-width="1.4"/>
<line x1="516.72" y1="712.4" x2="516.72" y2="716.3" stroke="#000" stroke-width="1.2"/>
<line x1="542.70" y1="712.4" x2="542.70" y2="719.2" stroke="#000" stroke-width="1.4"/>
<line x1="568.68" y1="712.4" x2="568.68" y2="716.3" stroke="#000" stroke-width="1.2"/>
<line x1="594.67" y1="712.4" x2="594.67" y2="719.2" stroke="#000" stroke-width="1.4"/>
<line x1="620.66" y1="712.4" x2="620.66" y2="716.3" stroke="#000" stroke-width="1.2"/>
<line x1="646.64" y1="712.4" x2="646.64" y2="719.2" stroke="#000" stroke-width="1.4"/>
<text transform="translate(22.40 758.90) scale(0.9300 1.0000)" font-family='"Liberation Sans", sans-serif' font-size="31" font-weight="normal" font-style="normal" text-anchor="middle" fill="#000" stroke="#000" stroke-width="0.35">3.7</text>
<text transform="translate(126.34 758.90) scale(0.9300 1.0000)" font-family='"Liberation Sans", sans-serif' font-size="31" font-weight="normal" font-style="normal" text-anchor="middle" fill="#000" stroke="#000" stroke-width="0.35">3.5</text>
<text transform="translate(230.28 758.90) scale(0.9300 1.0000)" font-family='"Liberation Sans", sans-serif' font-size="31" font-weight="normal" font-style="normal" text-anchor="middle" fill="#000" stroke="#000" stroke-width="0.35">3.3</text>
<text transform="translate(334.22 758.90) scale(0.9300 1.0000)" font-family='"Liberation Sans", sans-serif' font-size="31" font-weight="normal" font-style="normal" text-anchor="middle" fill="#000" stroke="#000" stroke-width="0.35">3.1</text>
<text transform="translate(438.16 758.90) scale(0.9300 1.0000)" font-family='"Liberation Sans", sans-serif' font-size="31" font-weight="normal" font-style="normal" text-anchor="middle" fill="#000" stroke="#000" stroke-width="0.35">2.9</text>
<text transform="translate(542.10 758.90) scale(0.9300 1.0000)" font-family='"Liberation Sans", sans-serif' font-size="31" font-weight="normal" font-style="normal" text-anchor="middle" fill="#000" stroke="#000" stroke-width="0.35">2.7</text>
<text transform="translate(646.04 758.90) scale(0.9300 1.0000)" font-family='"Liberation Sans", sans-serif' font-size="31" font-weight="normal" font-style="normal" text-anchor="middle" fill="#000" stroke="#000" stroke-width="0.35">2.5</text>
<text transform="translate(299.60 799.40) scale(1.1500 1.0000)" font-family='"Liberation Serif", serif' font-size="26" font-weight="normal" font-style="normal" text-anchor="start" fill="#000" >&#948;</text>
<text transform="translate(321.00 799.40)" font-family='"Liberation Sans", sans-serif' font-size="24" font-weight="bold" font-style="normal" text-anchor="start" fill="#000" >/ ppm</text>
<text transform="translate(3.20 839.00)" font-family='"Liberation Sans", sans-serif' font-size="37.5" font-weight="bold" font-style="normal" text-anchor="start" fill="#000" >(b)</text>
<line x1="150.2" y1="1307.30" x2="703.1" y2="1307.30" stroke="#788486" stroke-width="1.7"/>
<line x1="150.2" y1="1201.70" x2="703.1" y2="1201.70" stroke="#788486" stroke-width="1.7"/>
<line x1="150.2" y1="1096.10" x2="703.1" y2="1096.10" stroke="#788486" stroke-width="1.7"/>
<line x1="150.2" y1="990.50" x2="703.1" y2="990.50" stroke="#788486" stroke-width="1.7"/>
<line x1="150.2" y1="884.90" x2="703.1" y2="884.90" stroke="#788486" stroke-width="1.7"/>
<line x1="150.2" y1="1412.9" x2="703.9" y2="1412.9" stroke="#788486" stroke-width="1.7"/>
<line x1="164.1" y1="884.10" x2="164.1" y2="1427.6" stroke="#788486" stroke-width="1.7"/>
<line x1="253.94" y1="1412.9" x2="253.94" y2="1427.6" stroke="#788486" stroke-width="1.7"/>
<line x1="343.77" y1="1412.9" x2="343.77" y2="1427.6" stroke="#788486" stroke-width="1.7"/>
<line x1="433.61" y1="1412.9" x2="433.61" y2="1427.6" stroke="#788486" stroke-width="1.7"/>
<line x1="523.44" y1="1412.9" x2="523.44" y2="1427.6" stroke="#788486" stroke-width="1.7"/>
<line x1="613.27" y1="1412.9" x2="613.27" y2="1427.6" stroke="#788486" stroke-width="1.7"/>
<line x1="703.11" y1="1412.9" x2="703.11" y2="1427.6" stroke="#788486" stroke-width="1.7"/>
<text transform="translate(125.20 1424.90) scale(1.0000 1.0600)" font-family='"Liberation Sans", sans-serif' font-size="37" font-weight="normal" font-style="normal" text-anchor="end" fill="#000" >0</text>
<text transform="translate(125.20 1319.30) scale(1.0000 1.0600)" font-family='"Liberation Sans", sans-serif' font-size="37" font-weight="normal" font-style="normal" text-anchor="end" fill="#000" >20</text>
<text transform="translate(125.20 1213.70) scale(1.0000 1.0600)" font-family='"Liberation Sans", sans-serif' font-size="37" font-weight="normal" font-style="normal" text-anchor="end" fill="#000" >40</text>
<text transform="translate(125.20 1108.10) scale(1.0000 1.0600)" font-family='"Liberation Sans", sans-serif' font-size="37" font-weight="normal" font-style="normal" text-anchor="end" fill="#000" >60</text>
<text transform="translate(125.20 1002.50) scale(1.0000 1.0600)" font-family='"Liberation Sans", sans-serif' font-size="37" font-weight="normal" font-style="normal" text-anchor="end" fill="#000" >80</text>
<text transform="translate(125.20 896.90) scale(1.0000 1.0600)" font-family='"Liberation Sans", sans-serif' font-size="37" font-weight="normal" font-style="normal" text-anchor="end" fill="#000" >100</text>
<text transform="translate(163.80 1485.00) scale(1.0000 1.0600)" font-family='"Liberation Sans", sans-serif' font-size="37" font-weight="normal" font-style="normal" text-anchor="middle" fill="#000" >6.5</text>
<text transform="translate(253.63 1485.00) scale(1.0000 1.0600)" font-family='"Liberation Sans", sans-serif' font-size="37" font-weight="normal" font-style="normal" text-anchor="middle" fill="#000" >7</text>
<text transform="translate(343.47 1485.00) scale(1.0000 1.0600)" font-family='"Liberation Sans", sans-serif' font-size="37" font-weight="normal" font-style="normal" text-anchor="middle" fill="#000" >7.5</text>
<text transform="translate(433.31 1485.00) scale(1.0000 1.0600)" font-family='"Liberation Sans", sans-serif' font-size="37" font-weight="normal" font-style="normal" text-anchor="middle" fill="#000" >8</text>
<text transform="translate(523.14 1485.00) scale(1.0000 1.0600)" font-family='"Liberation Sans", sans-serif' font-size="37" font-weight="normal" font-style="normal" text-anchor="middle" fill="#000" >8.5</text>
<text transform="translate(612.98 1485.00) scale(1.0000 1.0600)" font-family='"Liberation Sans", sans-serif' font-size="37" font-weight="normal" font-style="normal" text-anchor="middle" fill="#000" >9</text>
<text transform="translate(702.81 1485.00) scale(1.0000 1.0600)" font-family='"Liberation Sans", sans-serif' font-size="37" font-weight="normal" font-style="normal" text-anchor="middle" fill="#000" >9.5</text>
<path d="M256.0 1408.23 L257.0 1408.10 L258.0 1407.98 L259.0 1407.86 L260.0 1407.73 L261.0 1407.59 L262.0 1407.46 L263.0 1407.32 L264.0 1407.17 L265.0 1407.03 L266.0 1406.88 L267.0 1406.72 L268.0 1406.56 L269.0 1406.40 L270.0 1406.23 L271.0 1406.06 L272.0 1405.89 L273.0 1405.71 L274.0 1405.52 L275.0 1405.33 L276.0 1405.14 L277.0 1404.94 L278.0 1404.74 L279.0 1404.53 L280.0 1404.32 L281.0 1404.10 L282.0 1403.87 L283.0 1403.64 L284.0 1403.41 L285.0 1403.16 L286.0 1402.92 L287.0 1402.66 L288.0 1402.40 L289.0 1402.13 L290.0 1401.86 L291.0 1401.58 L292.0 1401.29 L293.0 1401.00 L294.0 1400.70 L295.0 1400.39 L296.0 1400.07 L297.0 1399.75 L298.0 1399.41 L299.0 1399.07 L300.0 1398.72 L301.0 1398.36 L302.0 1398.00 L303.0 1397.62 L304.0 1397.24 L305.0 1396.84 L306.0 1396.44 L307.0 1396.03 L308.0 1395.60 L309.0 1395.17 L310.0 1394.72 L311.0 1394.27 L312.0 1393.80 L313.0 1393.32 L314.0 1392.84 L315.0 1392.34 L316.0 1391.82 L317.0 1391.30 L318.0 1390.76 L319.0 1390.21 L320.0 1389.65 L321.0 1389.07 L322.0 1388.48 L323.0 1387.88 L324.0 1387.26 L325.0 1386.63 L326.0 1385.98 L327.0 1385.32 L328.0 1384.64 L329.0 1383.94 L330.0 1383.24 L331.0 1382.51 L332.0 1381.77 L333.0 1381.01 L334.0 1380.23 L335.0 1379.44 L336.0 1378.62 L337.0 1377.79 L338.0 1376.94 L339.0 1376.08 L340.0 1375.19 L341.0 1374.28 L342.0 1373.35 L343.0 1372.40 L344.0 1371.44 L345.0 1370.45 L346.0 1369.43 L347.0 1368.40 L348.0 1367.35 L349.0 1366.27 L350.0 1365.17 L351.0 1364.04 L352.0 1362.89 L353.0 1361.72 L354.0 1360.52 L355.0 1359.30 L356.0 1358.05 L357.0 1356.78 L358.0 1355.48 L359.0 1354.16 L360.0 1352.81 L361.0 1351.43 L362.0 1350.02 L363.0 1348.59 L364.0 1347.13 L365.0 1345.64 L366.0 1344.12 L367.0 1342.57 L368.0 1340.99 L369.0 1339.39 L370.0 1337.75 L371.0 1336.08 L372.0 1334.38 L373.0 1332.66 L374.0 1330.90 L375.0 1329.10 L376.0 1327.28 L377.0 1325.43 L378.0 1323.54 L379.0 1321.62 L380.0 1319.67 L381.0 1317.69 L382.0 1315.67 L383.0 1313.62 L384.0 1311.54 L385.0 1309.42 L386.0 1307.27 L387.0 1305.09 L388.0 1302.87 L389.0 1300.62 L390.0 1298.34 L391.0 1296.03 L392.0 1293.68 L393.0 1291.29 L394.0 1288.88 L395.0 1286.43 L396.0 1283.95 L397.0 1281.43 L398.0 1278.89 L399.0 1276.31 L400.0 1273.70 L401.0 1271.05 L402.0 1268.38 L403.0 1265.67 L404.0 1262.94 L405.0 1260.17 L406.0 1257.37 L407.0 1254.55 L408.0 1251.69 L409.0 1248.80 L410.0 1245.89 L411.0 1242.95 L412.0 1239.98 L413.0 1236.99 L414.0 1233.97 L415.0 1230.93 L416.0 1227.86 L417.0 1224.77 L418.0 1221.65 L419.0 1218.51 L420.0 1215.35 L421.0 1212.18 L422.0 1208.98 L423.0 1205.76 L424.0 1202.52 L425.0 1199.27 L426.0 1196.00 L427.0 1192.72 L428.0 1189.42 L429.0 1186.11 L430.0 1182.79 L431.0 1179.46 L432.0 1176.12 L433.0 1172.77 L434.0 1169.41 L435.0 1166.04 L436.0 1162.67 L437.0 1159.29 L438.0 1155.91 L439.0 1152.53 L440.0 1149.15 L441.0 1145.76 L442.0 1142.38 L443.0 1139.00 L444.0 1135.63 L445.0 1132.25 L446.0 1128.89 L447.0 1125.53 L448.0 1122.17 L449.0 1118.83 L450.0 1115.49 L451.0 1112.17 L452.0 1108.86 L453.0 1105.56 L454.0 1102.27 L455.0 1099.00 L456.0 1095.75 L457.0 1092.51 L458.0 1089.29 L459.0 1086.09 L460.0 1082.91 L461.0 1079.75 L462.0 1076.61 L463.0 1073.49 L464.0 1070.39 L465.0 1067.32 L466.0 1064.27 L467.0 1061.25 L468.0 1058.25 L469.0 1055.28 L470.0 1052.34 L471.0 1049.42 L472.0 1046.53 L473.0 1043.67 L474.0 1040.84 L475.0 1038.04 L476.0 1035.27 L477.0 1032.52 L478.0 1029.81 L479.0 1027.14 L480.0 1024.49 L481.0 1021.87 L482.0 1019.29 L483.0 1016.74 L484.0 1014.22 L485.0 1011.73 L486.0 1009.28 L487.0 1006.86 L488.0 1004.47 L489.0 1002.12 L490.0 999.79 L491.0 997.51 L492.0 995.25 L493.0 993.03 L494.0 990.85 L495.0 988.69 L496.0 986.57 L497.0 984.48 L498.0 982.43 L499.0 980.41 L500.0 978.42 L501.0 976.46 L502.0 974.54 L503.0 972.65 L504.0 970.79 L505.0 968.96 L506.0 967.16 L507.0 965.40 L508.0 963.67 L509.0 961.96 L510.0 960.29 L511.0 958.65 L512.0 957.04 L513.0 955.46 L514.0 953.91 L515.0 952.38 L516.0 950.89 L517.0 949.42 L518.0 947.99 L519.0 946.58 L520.0 945.19 L521.0 943.84 L522.0 942.50 L523.0 941.19 L524.0 939.90 L525.0 938.63 L526.0 937.37 L527.0 936.14 L528.0 934.92 L529.0 933.73 L530.0 932.56 L531.0 931.40 L532.0 930.27 L533.0 929.15 L534.0 928.06 L535.0 926.98 L536.0 925.92 L537.0 924.89 L538.0 923.87 L539.0 922.87 L540.0 921.89 L541.0 920.93 L542.0 919.99 L543.0 919.07 L544.0 918.17 L545.0 917.29 L546.0 916.42 L547.0 915.57 L548.0 914.75 L549.0 913.94 L550.0 913.15 L551.0 912.37 L552.0 911.62 L553.0 910.88 L554.0 910.16 L555.0 909.46 L556.0 908.77 L557.0 908.10 L558.0 907.45 L559.0 906.81 L560.0 906.19 L561.0 905.59 L562.0 905.00 L563.0 904.43 L564.0 903.87 L565.0 903.33 L566.0 902.80 L567.0 902.29 L568.0 901.79 L569.0 901.31 L570.0 900.84 L571.0 900.38 L572.0 899.94 L573.0 899.51 L574.0 899.09 L575.0 898.68 L576.0 898.29 L577.0 897.91 L578.0 897.54 L579.0 897.18 L580.0 896.83 L581.0 896.49 L582.0 896.17 L583.0 895.85 L584.0 895.55 L585.0 895.25 L586.0 894.96 L587.0 894.69 L588.0 894.42 L589.0 894.16 L590.0 893.91 L591.0 893.67 L592.0 893.44 L593.0 893.21 L594.0 893.00 L595.0 892.78 L596.0 892.58 L597.0 892.37 L598.0 892.18 L599.0 891.99 L600.0 891.80 L601.0 891.62 L602.0 891.44 L603.0 891.27 L604.0 891.10 L605.0 890.94 L606.0 890.78 L607.0 890.62 L608.0 890.47 L609.0 890.32 L610.0 890.18 L611.0 890.04 L612.0 889.91 L613.0 889.77 L614.0 889.64 L615.0 889.52 L616.0 889.40 L617.0 889.28 L618.0 889.16 L619.0 889.05 L620.0 888.94 L621.0 888.83 L622.0 888.73 L623.0 888.63 L624.0 888.53 L625.0 888.43 L626.0 888.34 L627.0 888.25 L628.0 888.16 L629.0 888.07 L630.0 887.99 L631.0 887.91 L632.0 887.83 L633.0 887.75 L634.0 887.67 L635.0 887.60 L636.0 887.53 L637.0 887.46 L638.0 887.39 L639.0 887.32 L640.0 887.26 L641.0 887.20 L642.0 887.14 L643.0 887.08 L644.0 887.02 L645.0 886.96" fill="none" stroke="#2c7bf0" stroke-width="4.8" stroke-linejoin="round" stroke-linecap="round"/>
<path d="M255.7 1401.6 L262.7 1415.6 L248.7 1415.6Z" fill="#2c7bf0"/>
<path d="M268.4 1406.4 L275.4 1420.4 L261.4 1420.4Z" fill="#2c7bf0"/>
<path d="M289.4 1390.8 L296.4 1404.8 L282.4 1404.8Z" fill="#2c7bf0"/>
<path d="M374.3 1311.3 L381.3 1325.3 L367.3 1325.3Z" fill="#2c7bf0"/>
<path d="M390.3 1295.6 L397.3 1309.6 L383.3 1309.6Z" fill="#2c7bf0"/>
<path d="M393.7 1265.7 L400.7 1279.7 L386.7 1279.7Z" fill="#2c7bf0"/>
<path d="M412.6 1235.6 L419.6 1249.6 L405.6 1249.6Z" fill="#2c7bf0"/>
<path d="M415.8 1209.5 L422.8 1223.5 L408.8 1223.5Z" fill="#2c7bf0"/>
<path d="M413.7 1195.1 L420.7 1209.1 L406.7 1209.1Z" fill="#2c7bf0"/>
<path d="M431.6 1211.4 L438.6 1225.4 L424.6 1225.4Z" fill="#2c7bf0"/>
<path d="M442.8 1124.5 L449.8 1138.5 L435.8 1138.5Z" fill="#2c7bf0"/>
<path d="M459.7 1077.4 L466.7 1091.4 L452.7 1091.4Z" fill="#2c7bf0"/>
<path d="M461.5 1072.3 L468.5 1086.3 L454.5 1086.3Z" fill="#2c7bf0"/>
<path d="M468.6 1066.8 L475.6 1080.8 L461.6 1080.8Z" fill="#2c7bf0"/>
<path d="M461.0 1058.3 L468.0 1072.3 L454.0 1072.3Z" fill="#2c7bf0"/>
<path d="M473.7 1048.3 L480.7 1062.3 L466.7 1062.3Z" fill="#2c7bf0"/>
<path d="M499.4 982.6 L506.4 996.6 L492.4 996.6Z" fill="#2c7bf0"/>
<path d="M517.2 944.8 L524.2 958.8 L510.2 958.8Z" fill="#2c7bf0"/>
<path d="M573.4 875.5 L580.4 889.5 L566.4 889.5Z" fill="#2c7bf0"/>
<path d="M599.2 888.0 L606.2 902.0 L592.2 902.0Z" fill="#2c7bf0"/>
<path d="M634.1 876.5 L641.1 890.5 L627.1 890.5Z" fill="#2c7bf0"/>
<path d="M645.2 880.7 L652.2 894.7 L638.2 894.7Z" fill="#2c7bf0"/>
<path d="M239.6 1401.12 L240.6 1400.82 L241.6 1400.51 L242.6 1400.20 L243.6 1399.88 L244.6 1399.55 L245.6 1399.21 L246.6 1398.86 L247.6 1398.51 L248.6 1398.15 L249.6 1397.77 L250.6 1397.39 L251.6 1397.00 L252.6 1396.60 L253.6 1396.19 L254.6 1395.77 L255.6 1395.34 L256.6 1394.90 L257.6 1394.45 L258.6 1393.99 L259.6 1393.52 L260.6 1393.03 L261.6 1392.54 L262.6 1392.03 L263.6 1391.51 L264.6 1390.98 L265.6 1390.43 L266.6 1389.87 L267.6 1389.30 L268.6 1388.72 L269.6 1388.12 L270.6 1387.51 L271.6 1386.88 L272.6 1386.24 L273.6 1385.58 L274.6 1384.91 L275.6 1384.22 L276.6 1383.52 L277.6 1382.80 L278.6 1382.06 L279.6 1381.31 L280.6 1380.54 L281.6 1379.75 L282.6 1378.95 L283.6 1378.13 L284.6 1377.28 L285.6 1376.42 L286.6 1375.54 L287.6 1374.64 L288.6 1373.72 L289.6 1372.78 L290.6 1371.82 L291.6 1370.84 L292.6 1369.84 L293.6 1368.81 L294.6 1367.77 L295.6 1366.70 L296.6 1365.61 L297.6 1364.49 L298.6 1363.35 L299.6 1362.19 L300.6 1361.00 L301.6 1359.79 L302.6 1358.55 L303.6 1357.29 L304.6 1356.00 L305.6 1354.69 L306.6 1353.35 L307.6 1351.98 L308.6 1350.58 L309.6 1349.16 L310.6 1347.71 L311.6 1346.23 L312.6 1344.73 L313.6 1343.19 L314.6 1341.62 L315.6 1340.03 L316.6 1338.40 L317.6 1336.75 L318.6 1335.06 L319.6 1333.35 L320.6 1331.60 L321.6 1329.82 L322.6 1328.01 L323.6 1326.17 L324.6 1324.29 L325.6 1322.39 L326.6 1320.45 L327.6 1318.48 L328.6 1316.47 L329.6 1314.44 L330.6 1312.37 L331.6 1310.27 L332.6 1308.13 L333.6 1305.96 L334.6 1303.76 L335.6 1301.52 L336.6 1299.25 L337.6 1296.95 L338.6 1294.61 L339.6 1292.25 L340.6 1289.84 L341.6 1287.41 L342.6 1284.94 L343.6 1282.44 L344.6 1279.90 L345.6 1277.34 L346.6 1274.74 L347.6 1272.11 L348.6 1269.45 L349.6 1266.75 L350.6 1264.03 L351.6 1261.27 L352.6 1258.49 L353.6 1255.67 L354.6 1252.83 L355.6 1249.95 L356.6 1247.05 L357.6 1244.12 L358.6 1241.17 L359.6 1238.18 L360.6 1235.17 L361.6 1232.14 L362.6 1229.08 L363.6 1226.00 L364.6 1222.89 L365.6 1219.76 L366.6 1216.61 L367.6 1213.44 L368.6 1210.25 L369.6 1207.04 L370.6 1203.81 L371.6 1200.57 L372.6 1197.30 L373.6 1194.03 L374.6 1190.74 L375.6 1187.43 L376.6 1184.11 L377.6 1180.79 L378.6 1177.45 L379.6 1174.10 L380.6 1170.74 L381.6 1167.38 L382.6 1164.01 L383.6 1160.63 L384.6 1157.26 L385.6 1153.87 L386.6 1150.49 L387.6 1147.11 L388.6 1143.73 L389.6 1140.34 L390.6 1136.97 L391.6 1133.59 L392.6 1130.22 L393.6 1126.86 L394.6 1123.50 L395.6 1120.16 L396.6 1116.82 L397.6 1113.49 L398.6 1110.17 L399.6 1106.87 L400.6 1103.58 L401.6 1100.30 L402.6 1097.04 L403.6 1093.80 L404.6 1090.57 L405.6 1087.36 L406.6 1084.17 L407.6 1081.00 L408.6 1077.85 L409.6 1074.73 L410.6 1071.62 L411.6 1068.54 L412.6 1065.48 L413.6 1062.45 L414.6 1059.44 L415.6 1056.46 L416.6 1053.50 L417.6 1050.58 L418.6 1047.68 L419.6 1044.80 L420.6 1041.96 L421.6 1039.15 L422.6 1036.36 L423.6 1033.61 L424.6 1030.89 L425.6 1028.20 L426.6 1025.54 L427.6 1022.91 L428.6 1020.31 L429.6 1017.75 L430.6 1015.21 L431.6 1012.71 L432.6 1010.25 L433.6 1007.81 L434.6 1005.41 L435.6 1003.05 L436.6 1000.71 L437.6 998.41 L438.6 996.14 L439.6 993.91 L440.6 991.71 L441.6 989.54 L442.6 987.41 L443.6 985.31 L444.6 983.24 L445.6 981.21 L446.6 979.20 L447.6 977.24 L448.6 975.30 L449.6 973.39 L450.6 971.52 L451.6 969.68 L452.6 967.87 L453.6 966.10 L454.6 964.35 L455.6 962.64 L456.6 960.95 L457.6 959.30 L458.6 957.68 L459.6 956.08 L460.6 954.52 L461.6 952.98 L462.6 951.48 L463.6 950.00 L464.6 948.55 L465.6 947.13 L466.6 945.74 L467.6 944.37 L468.6 943.03 L469.6 941.71 L470.6 940.41 L471.6 939.13 L472.6 937.87 L473.6 936.63 L474.6 935.40 L475.6 934.20 L476.6 933.02 L477.6 931.86 L478.6 930.71 L479.6 929.59 L480.6 928.49 L481.6 927.40 L482.6 926.34 L483.6 925.30 L484.6 924.27 L485.6 923.26 L486.6 922.28 L487.6 921.31 L488.6 920.36 L489.6 919.43 L490.6 918.53 L491.6 917.63 L492.6 916.76 L493.6 915.91 L494.6 915.07 L495.6 914.26 L496.6 913.46 L497.6 912.68 L498.6 911.92 L499.6 911.17 L500.6 910.44 L501.6 909.73 L502.6 909.04 L503.6 908.37 L504.6 907.71 L505.6 907.07 L506.6 906.44 L507.6 905.83 L508.6 905.23 L509.6 904.66 L510.6 904.09 L511.6 903.55 L512.6 903.01 L513.6 902.49 L514.6 901.99 L515.6 901.50 L516.6 901.02 L517.6 900.56 L518.6 900.11 L519.6 899.67 L520.6 899.25 L521.6 898.84 L522.6 898.44 L523.6 898.06 L524.6 897.68 L525.6 897.32 L526.6 896.97 L527.6 896.63 L528.6 896.30 L529.6 895.98 L530.6 895.67 L531.6 895.37 L532.6 895.08 L533.6 894.80 L534.6 894.53 L535.6 894.26 L536.6 894.01 L537.6 893.77 L538.6 893.53 L539.6 893.30 L540.6 893.08 L541.6 892.87 L542.6 892.66 L543.6 892.45 L544.6 892.25 L545.6 892.06 L546.6 891.87 L547.6 891.69 L548.6 891.51 L549.6 891.34 L550.6 891.17 L551.6 891.00 L552.6 890.84 L553.6 890.68 L554.6 890.53 L555.6 890.38 L556.6 890.24 L557.6 890.10 L558.6 889.96 L559.6 889.83 L560.6 889.69 L561.6 889.57 L562.6 889.44 L563.6 889.32 L564.6 889.21 L565.6 889.09 L566.6 888.98 L567.6 888.87 L568.6 888.77 L569.6 888.67 L570.6 888.57 L571.6 888.47 L572.6 888.37 L573.6 888.28 L574.6 888.19 L575.6 888.11 L576.6 888.02 L577.6 887.94 L578.6 887.86 L579.6 887.78 L580.6 887.70 L581.6 887.63 L582.6 887.56 L583.6 887.49 L584.6 887.42 L585.6 887.35 L586.6 887.28 L587.6 887.22 L588.6 887.16 L589.6 887.10 L590.6 887.04 L591.6 886.98 L592.6 886.93 L593.6 886.88 L594.6 886.82 L595.6 886.77 L596.6 886.72 L597.6 886.67 L598.6 886.63 L599.6 886.58 L600.6 886.54 L601.6 886.49 L602.6 886.45 L603.6 886.41 L604.6 886.37 L605.6 886.33 L606.6 886.29 L607.6 886.25 L608.6 886.22 L609.6 886.18 L610.6 886.15 L611.6 886.12 L612.6 886.08 L613.6 886.05 L614.6 886.02 L615.6 885.99 L616.6 885.96 L617.6 885.93 L618.6 885.91 L619.6 885.88 L620.6 885.85 L621.6 885.83 L622.6 885.80" fill="none" stroke="#fb1c1c" stroke-width="4.8" stroke-linejoin="round" stroke-linecap="round"/>
<rect x="232.8" y="1394.5" width="13.5" height="13.5" fill="#fb1c1c"/>
<rect x="245.7" y="1406.5" width="13.5" height="13.5" fill="#fb1c1c"/>
<rect x="270.4" y="1374.0" width="13.5" height="13.5" fill="#fb1c1c"/>
<rect x="311.8" y="1308.0" width="13.5" height="13.5" fill="#fb1c1c"/>
<rect x="328.1" y="1272.8" width="13.5" height="13.5" fill="#fb1c1c"/>
<rect x="349.1" y="1249.5" width="13.5" height="13.5" fill="#fb1c1c"/>
<rect x="354.8" y="1228.0" width="13.5" height="13.5" fill="#fb1c1c"/>
<rect x="354.8" y="1197.8" width="13.5" height="13.5" fill="#fb1c1c"/>
<rect x="370.8" y="1176.7" width="13.5" height="13.5" fill="#fb1c1c"/>
<rect x="372.4" y="1174.0" width="13.5" height="13.5" fill="#fb1c1c"/>
<rect x="376.1" y="1161.5" width="13.5" height="13.5" fill="#fb1c1c"/>
<rect x="374.9" y="1156.2" width="13.5" height="13.5" fill="#fb1c1c"/>
<rect x="401.9" y="1087.5" width="13.5" height="13.5" fill="#fb1c1c"/>
<rect x="417.1" y="1038.2" width="13.5" height="13.5" fill="#fb1c1c"/>
<rect x="415.9" y="1025.5" width="13.5" height="13.5" fill="#fb1c1c"/>
<rect x="422.4" y="1024.2" width="13.5" height="13.5" fill="#fb1c1c"/>
<rect x="428.1" y="1014.9" width="13.5" height="13.5" fill="#fb1c1c"/>
<rect x="478.8" y="916.9" width="13.5" height="13.5" fill="#fb1c1c"/>
<rect x="556.1" y="876.8" width="13.5" height="13.5" fill="#fb1c1c"/>
<rect x="564.5" y="880.5" width="13.5" height="13.5" fill="#fb1c1c"/>
<rect x="604.8" y="876.8" width="13.5" height="13.5" fill="#fb1c1c"/>
<rect x="610.6" y="877.9" width="13.5" height="13.5" fill="#fb1c1c"/>
<rect x="616.5" y="880.5" width="13.5" height="13.5" fill="#fb1c1c"/>
<path d="M558.9 1152.5 L565.9 1166.5 L551.9 1166.5Z" fill="#2c7bf0"/>
<rect x="552.1" y="1253.7" width="13.5" height="13.5" fill="#fb1c1c"/>
<text transform="translate(581.60 1172.30) scale(0.9000 1.0700)" font-family='"Liberation Sans", sans-serif' font-size="38" font-weight="normal" font-style="normal" text-anchor="start" fill="#000" >25 &#176;C</text>
<text transform="translate(581.60 1274.00) scale(0.9000 1.0700)" font-family='"Liberation Sans", sans-serif' font-size="38" font-weight="normal" font-style="normal" text-anchor="start" fill="#000" >37 &#176;C</text>
<text transform="translate(416.80 1542.90) scale(0.9200 1.0600)" font-family='"Liberation Sans", sans-serif' font-size="38" font-weight="bold" font-style="italic" text-anchor="start" fill="#000" >p</text>
<text transform="translate(439.20 1542.90) scale(0.8500 1.0600)" font-family='"Liberation Sans", sans-serif' font-size="38" font-weight="bold" font-style="normal" text-anchor="start" fill="#000" >H</text>
<text transform="translate(57.60 1386.95) rotate(-90) scale(0.8026 1.0000)" font-family='"Liberation Sans", sans-serif' font-size="36.6" font-weight="bold" font-style="normal" text-anchor="start" fill="#000" stroke="#000" stroke-width="0.5">S</text>
<text transform="translate(57.60 1365.26) rotate(-90) scale(0.9220 1.0000)" font-family='"Liberation Sans", sans-serif' font-size="36.6" font-weight="bold" font-style="normal" text-anchor="start" fill="#000" stroke="#000" stroke-width="0.5">P</text>
<text transform="translate(57.60 1341.21) rotate(-90) scale(0.7791 1.0000)" font-family='"Liberation Sans", sans-serif' font-size="36.6" font-weight="bold" font-style="normal" text-anchor="start" fill="#000" stroke="#000" stroke-width="0.5">E</text>
<text transform="translate(57.60 1319.54) rotate(-90) scale(1.0156 1.0000)" font-family='"Liberation Sans", sans-serif' font-size="36.6" font-weight="bold" font-style="normal" text-anchor="start" fill="#000" stroke="#000" stroke-width="0.5">1</text>
<text transform="translate(57.60 1243.16) rotate(-90) scale(0.8163 1.0000)" font-family='"Liberation Sans", sans-serif' font-size="36.6" font-weight="bold" font-style="normal" text-anchor="start" fill="#000" stroke="#000" stroke-width="0.5">S</text>
<text transform="translate(57.60 1220.84) rotate(-90) scale(0.9172 1.0000)" font-family='"Liberation Sans", sans-serif' font-size="36.6" font-weight="bold" font-style="normal" text-anchor="start" fill="#000" stroke="#000" stroke-width="0.5">P</text>
<text transform="translate(57.60 1196.95) rotate(-90) scale(0.7985 1.0000)" font-family='"Liberation Sans", sans-serif' font-size="36.6" font-weight="bold" font-style="normal" text-anchor="start" fill="#000" stroke="#000" stroke-width="0.5">E</text>
<text transform="translate(57.60 1175.10) rotate(-90) scale(0.9980 1.0000)" font-family='"Liberation Sans", sans-serif' font-size="36.6" font-weight="bold" font-style="normal" text-anchor="start" fill="#000" stroke="#000" stroke-width="0.5">1</text>
<text transform="translate(57.60 1109.86) rotate(-90) scale(0.8163 1.0000)" font-family='"Liberation Sans", sans-serif' font-size="36.6" font-weight="bold" font-style="normal" text-anchor="start" fill="#000" stroke="#000" stroke-width="0.5">S</text>
<text transform="translate(57.60 1087.69) rotate(-90) scale(0.9365 1.0000)" font-family='"Liberation Sans", sans-serif' font-size="36.6" font-weight="bold" font-style="normal" text-anchor="start" fill="#000" stroke="#000" stroke-width="0.5">P</text>
<text transform="translate(57.60 1063.15) rotate(-90) scale(0.7985 1.0000)" font-family='"Liberation Sans", sans-serif' font-size="36.6" font-weight="bold" font-style="normal" text-anchor="start" fill="#000" stroke="#000" stroke-width="0.5">E</text>
<text transform="translate(57.60 1041.34) rotate(-90) scale(0.9745 1.0000)" font-family='"Liberation Sans", sans-serif' font-size="36.6" font-weight="bold" font-style="normal" text-anchor="start" fill="#000" stroke="#000" stroke-width="0.5">1</text>
<text transform="translate(57.60 1018.86) rotate(-90) scale(1.0037 1.0000)" font-family='"Liberation Sans", sans-serif' font-size="36.6" font-weight="bold" font-style="normal" text-anchor="start" fill="#000" stroke="#000" stroke-width="0.5">H</text>
<path d="M28.4 1267.8 L28.4 1273.2 L64.2 1286.8 L64.2 1281.4Z" fill="#000"/>
<text transform="translate(57.20 1256.40) rotate(-90) scale(1.0500 1.0600)" font-family='"Liberation Sans", sans-serif' font-size="35" font-weight="bold" font-style="normal" text-anchor="start" fill="#000" >(</text>
<text transform="translate(57.80 1142.60) rotate(-90) scale(1.0700 1.0000)" font-family='"Liberation Sans", sans-serif' font-size="35" font-weight="bold" font-style="normal" text-anchor="start" fill="#000" >+</text>
<text transform="translate(67.90 990.60) rotate(-90)" font-family='"Liberation Sans", sans-serif' font-size="24.5" font-weight="bold" font-style="normal" text-anchor="start" fill="#000" >2</text>
<text transform="translate(45.20 975.60) rotate(-90)" font-family='"Liberation Sans", sans-serif' font-size="24.5" font-weight="bold" font-style="normal" text-anchor="start" fill="#000" >2</text>
<text transform="translate(45.60 960.20) rotate(-90)" font-family='"Liberation Sans", sans-serif' font-size="24.5" font-weight="bold" font-style="normal" text-anchor="start" fill="#000" >+</text>
<text transform="translate(45.00 944.60) rotate(-90)" font-family='"Liberation Sans", sans-serif' font-size="25" font-weight="bold" font-style="normal" text-anchor="start" fill="#000" >)</text>
</svg>
</body>
</html>
